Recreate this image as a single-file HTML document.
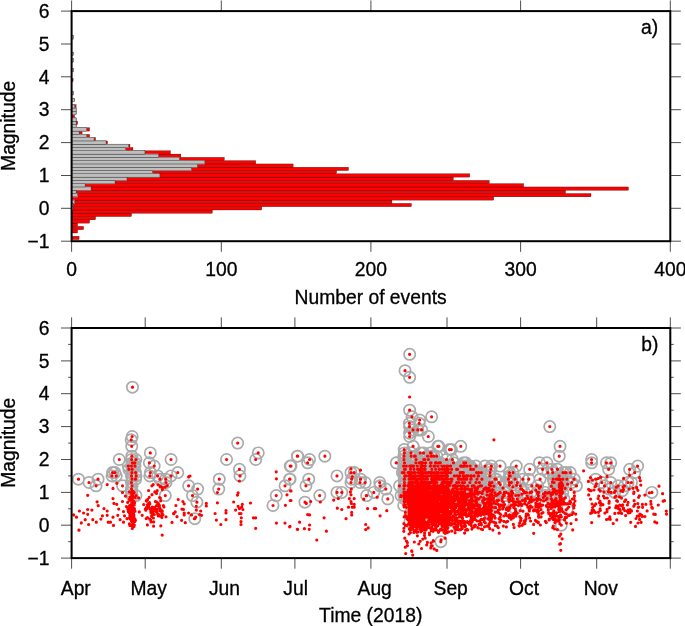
<!DOCTYPE html>
<html lang="en"><head><meta charset="utf-8"><title>Magnitude histogram and time series (2018)</title>
<style>
html,body{margin:0;padding:0;background:#fff}
svg{display:block}
text{font-family:"Liberation Sans",Arial,Helvetica,sans-serif;font-size:19.3px;fill:#000;stroke:#000;stroke-width:.3px}
.r rect{fill:#f00;stroke:#000;stroke-width:.3}
.g rect{fill:#bebebe;stroke:#000;stroke-width:.3}
</style></head><body>
<svg width="685" height="626" viewBox="0 0 685 626">
<rect width="685" height="626" fill="#fff"/>
<clipPath id="c1"><rect x="71.6" y="11.1" width="598.7" height="230.1"/></clipPath>
<clipPath id="c2"><rect x="71.6" y="328" width="598.7" height="230.1"/></clipPath>
<g clip-path="url(#c1)">
<g class="r"><rect x="71.6" y="236.27" width="7.48" height="3.29"/><rect x="71.6" y="229.69" width="5.99" height="3.29"/><rect x="71.6" y="226.41" width="11.97" height="3.29"/><rect x="71.6" y="223.12" width="5.99" height="3.29"/><rect x="71.6" y="219.83" width="17.96" height="3.29"/><rect x="71.6" y="216.55" width="23.95" height="3.29"/><rect x="71.6" y="213.26" width="59.87" height="3.29"/><rect x="71.6" y="209.97" width="140.69" height="3.29"/><rect x="71.6" y="206.69" width="190.09" height="3.29"/><rect x="71.6" y="203.40" width="339.76" height="3.29"/><rect x="71.6" y="200.11" width="320.30" height="3.29"/><rect x="71.6" y="196.82" width="422.08" height="3.29"/><rect x="71.6" y="193.54" width="519.37" height="3.29"/><rect x="71.6" y="190.25" width="493.93" height="3.29"/><rect x="71.6" y="186.96" width="556.79" height="3.29"/><rect x="71.6" y="183.67" width="452.02" height="3.29"/><rect x="71.6" y="180.39" width="417.59" height="3.29"/><rect x="71.6" y="177.10" width="381.67" height="3.29"/><rect x="71.6" y="173.81" width="398.14" height="3.29"/><rect x="71.6" y="170.53" width="264.92" height="3.29"/><rect x="71.6" y="167.24" width="276.90" height="3.29"/><rect x="71.6" y="163.95" width="221.52" height="3.29"/><rect x="71.6" y="160.66" width="184.10" height="3.29"/><rect x="71.6" y="157.38" width="152.67" height="3.29"/><rect x="71.6" y="154.09" width="109.26" height="3.29"/><rect x="71.6" y="150.80" width="98.79" height="3.29"/><rect x="71.6" y="147.52" width="61.37" height="3.29"/><rect x="71.6" y="144.23" width="58.37" height="3.29"/><rect x="71.6" y="140.94" width="35.92" height="3.29"/><rect x="71.6" y="137.65" width="23.95" height="3.29"/><rect x="71.6" y="134.37" width="17.96" height="3.29"/><rect x="71.6" y="131.08" width="10.48" height="3.29"/><rect x="71.6" y="127.79" width="17.96" height="3.29"/><rect x="71.6" y="124.51" width="4.49" height="3.29"/><rect x="71.6" y="121.22" width="5.99" height="3.29"/><rect x="71.6" y="117.93" width="4.49" height="3.29"/><rect x="71.6" y="114.64" width="2.99" height="3.29"/><rect x="71.6" y="111.36" width="4.49" height="3.29"/><rect x="71.6" y="108.07" width="4.49" height="3.29"/><rect x="71.6" y="104.78" width="4.49" height="3.29"/><rect x="71.6" y="98.21" width="2.99" height="3.29"/><rect x="71.6" y="91.63" width="1.50" height="3.29"/><rect x="71.6" y="78.49" width="1.50" height="3.29"/><rect x="71.6" y="68.62" width="1.50" height="3.29"/><rect x="71.6" y="58.76" width="1.50" height="3.29"/><rect x="71.6" y="52.19" width="1.50" height="3.29"/><rect x="71.6" y="35.75" width="1.50" height="3.29"/></g>
<g fill="#bebebe"><rect x="71.6" y="206.28" width="1.50" height="4.09"/><rect x="71.6" y="203.00" width="1.50" height="4.09"/><rect x="71.6" y="199.71" width="2.99" height="4.09"/><rect x="71.6" y="193.14" width="5.99" height="4.09"/><rect x="71.6" y="189.85" width="4.49" height="4.09"/><rect x="71.6" y="186.56" width="19.46" height="4.09"/><rect x="71.6" y="183.27" width="13.47" height="4.09"/><rect x="71.6" y="179.99" width="43.41" height="4.09"/><rect x="71.6" y="176.70" width="55.38" height="4.09"/><rect x="71.6" y="173.41" width="88.31" height="4.09"/><rect x="71.6" y="170.13" width="80.82" height="4.09"/><rect x="71.6" y="166.84" width="119.74" height="4.09"/><rect x="71.6" y="163.55" width="125.73" height="4.09"/><rect x="71.6" y="160.26" width="133.21" height="4.09"/><rect x="71.6" y="156.98" width="107.77" height="4.09"/><rect x="71.6" y="153.69" width="86.81" height="4.09"/><rect x="71.6" y="150.40" width="73.34" height="4.09"/><rect x="71.6" y="147.12" width="53.88" height="4.09"/><rect x="71.6" y="143.83" width="56.88" height="4.09"/><rect x="71.6" y="140.54" width="34.43" height="4.09"/><rect x="71.6" y="137.25" width="22.45" height="4.09"/><rect x="71.6" y="133.97" width="14.97" height="4.09"/><rect x="71.6" y="130.68" width="7.48" height="4.09"/><rect x="71.6" y="127.39" width="14.97" height="4.09"/><rect x="71.6" y="124.11" width="4.49" height="4.09"/><rect x="71.6" y="120.82" width="4.49" height="4.09"/><rect x="71.6" y="117.53" width="4.49" height="4.09"/><rect x="71.6" y="110.96" width="4.49" height="4.09"/><rect x="71.6" y="107.67" width="4.49" height="4.09"/><rect x="71.6" y="104.38" width="2.99" height="4.09"/><rect x="71.6" y="97.81" width="2.99" height="4.09"/><rect x="71.6" y="91.23" width="1.50" height="4.09"/><rect x="71.6" y="68.22" width="1.50" height="4.09"/><rect x="71.6" y="58.36" width="1.50" height="4.09"/><rect x="71.6" y="51.79" width="1.50" height="4.09"/><rect x="71.6" y="35.35" width="1.50" height="4.09"/></g><g class="g"><rect x="71.6" y="206.69" width="1.50" height="3.29"/><rect x="71.6" y="203.40" width="1.50" height="3.29"/><rect x="71.6" y="200.11" width="2.99" height="3.29"/><rect x="71.6" y="193.54" width="5.99" height="3.29"/><rect x="71.6" y="190.25" width="4.49" height="3.29"/><rect x="71.6" y="186.96" width="19.46" height="3.29"/><rect x="71.6" y="183.67" width="13.47" height="3.29"/><rect x="71.6" y="180.39" width="43.41" height="3.29"/><rect x="71.6" y="177.10" width="55.38" height="3.29"/><rect x="71.6" y="173.81" width="88.31" height="3.29"/><rect x="71.6" y="170.53" width="80.82" height="3.29"/><rect x="71.6" y="167.24" width="119.74" height="3.29"/><rect x="71.6" y="163.95" width="125.73" height="3.29"/><rect x="71.6" y="160.66" width="133.21" height="3.29"/><rect x="71.6" y="157.38" width="107.77" height="3.29"/><rect x="71.6" y="154.09" width="86.81" height="3.29"/><rect x="71.6" y="150.80" width="73.34" height="3.29"/><rect x="71.6" y="147.52" width="53.88" height="3.29"/><rect x="71.6" y="144.23" width="56.88" height="3.29"/><rect x="71.6" y="140.94" width="34.43" height="3.29"/><rect x="71.6" y="137.65" width="22.45" height="3.29"/><rect x="71.6" y="134.37" width="14.97" height="3.29"/><rect x="71.6" y="131.08" width="7.48" height="3.29"/><rect x="71.6" y="127.79" width="14.97" height="3.29"/><rect x="71.6" y="124.51" width="4.49" height="3.29"/><rect x="71.6" y="121.22" width="4.49" height="3.29"/><rect x="71.6" y="117.93" width="4.49" height="3.29"/><rect x="71.6" y="111.36" width="4.49" height="3.29"/><rect x="71.6" y="108.07" width="4.49" height="3.29"/><rect x="71.6" y="104.78" width="2.99" height="3.29"/><rect x="71.6" y="98.21" width="2.99" height="3.29"/><rect x="71.6" y="91.63" width="1.50" height="3.29"/><rect x="71.6" y="68.62" width="1.50" height="3.29"/><rect x="71.6" y="58.76" width="1.50" height="3.29"/><rect x="71.6" y="52.19" width="1.50" height="3.29"/><rect x="71.6" y="35.75" width="1.50" height="3.29"/></g>
</g>
<g clip-path="url(#c2)">
<path d="M72.8 479.2a5.65 5.65 0 1 0 11.3 0a5.65 5.65 0 1 0 -11.3 0M83.4 482.5a5.65 5.65 0 1 0 11.3 0a5.65 5.65 0 1 0 -11.3 0M92.4 479.2a5.65 5.65 0 1 0 11.3 0a5.65 5.65 0 1 0 -11.3 0M90.4 485.8a5.65 5.65 0 1 0 11.3 0a5.65 5.65 0 1 0 -11.3 0M106.9 472.6a5.65 5.65 0 1 0 11.3 0a5.65 5.65 0 1 0 -11.3 0M110.6 475.9a5.65 5.65 0 1 0 11.3 0a5.65 5.65 0 1 0 -11.3 0M106.4 475.9a5.65 5.65 0 1 0 11.3 0a5.65 5.65 0 1 0 -11.3 0M109.2 472.6a5.65 5.65 0 1 0 11.3 0a5.65 5.65 0 1 0 -11.3 0M113.6 459.5a5.65 5.65 0 1 0 11.3 0a5.65 5.65 0 1 0 -11.3 0M116.9 485.8a5.65 5.65 0 1 0 11.3 0a5.65 5.65 0 1 0 -11.3 0M126.5 436.5a5.65 5.65 0 1 0 11.3 0a5.65 5.65 0 1 0 -11.3 0M125.5 439.8a5.65 5.65 0 1 0 11.3 0a5.65 5.65 0 1 0 -11.3 0M126.1 446.3a5.65 5.65 0 1 0 11.3 0a5.65 5.65 0 1 0 -11.3 0M144.7 452.9a5.65 5.65 0 1 0 11.3 0a5.65 5.65 0 1 0 -11.3 0M143.7 462.8a5.65 5.65 0 1 0 11.3 0a5.65 5.65 0 1 0 -11.3 0M148.5 466.1a5.65 5.65 0 1 0 11.3 0a5.65 5.65 0 1 0 -11.3 0M144.7 472.6a5.65 5.65 0 1 0 11.3 0a5.65 5.65 0 1 0 -11.3 0M144.1 475.9a5.65 5.65 0 1 0 11.3 0a5.65 5.65 0 1 0 -11.3 0M152 475.9a5.65 5.65 0 1 0 11.3 0a5.65 5.65 0 1 0 -11.3 0M154.3 479.2a5.65 5.65 0 1 0 11.3 0a5.65 5.65 0 1 0 -11.3 0M160 479.2a5.65 5.65 0 1 0 11.3 0a5.65 5.65 0 1 0 -11.3 0M160.4 482.5a5.65 5.65 0 1 0 11.3 0a5.65 5.65 0 1 0 -11.3 0M165.4 459.5a5.65 5.65 0 1 0 11.3 0a5.65 5.65 0 1 0 -11.3 0M165.4 475.9a5.65 5.65 0 1 0 11.3 0a5.65 5.65 0 1 0 -11.3 0M172.1 472.6a5.65 5.65 0 1 0 11.3 0a5.65 5.65 0 1 0 -11.3 0M159.6 495.6a5.65 5.65 0 1 0 11.3 0a5.65 5.65 0 1 0 -11.3 0M130.3 495.6a5.65 5.65 0 1 0 11.3 0a5.65 5.65 0 1 0 -11.3 0M126.2 456.2a5.65 5.65 0 1 0 11.3 0a5.65 5.65 0 1 0 -11.3 0M125.9 459.5a5.65 5.65 0 1 0 11.3 0a5.65 5.65 0 1 0 -11.3 0M126.7 462.8a5.65 5.65 0 1 0 11.3 0a5.65 5.65 0 1 0 -11.3 0M125.8 466.1a5.65 5.65 0 1 0 11.3 0a5.65 5.65 0 1 0 -11.3 0M126.5 469.3a5.65 5.65 0 1 0 11.3 0a5.65 5.65 0 1 0 -11.3 0M126.3 472.6a5.65 5.65 0 1 0 11.3 0a5.65 5.65 0 1 0 -11.3 0M125.8 475.9a5.65 5.65 0 1 0 11.3 0a5.65 5.65 0 1 0 -11.3 0M126.5 479.2a5.65 5.65 0 1 0 11.3 0a5.65 5.65 0 1 0 -11.3 0M125.8 482.5a5.65 5.65 0 1 0 11.3 0a5.65 5.65 0 1 0 -11.3 0M126.4 485.8a5.65 5.65 0 1 0 11.3 0a5.65 5.65 0 1 0 -11.3 0M125.8 489.1a5.65 5.65 0 1 0 11.3 0a5.65 5.65 0 1 0 -11.3 0M125.9 492.4a5.65 5.65 0 1 0 11.3 0a5.65 5.65 0 1 0 -11.3 0M126.4 495.6a5.65 5.65 0 1 0 11.3 0a5.65 5.65 0 1 0 -11.3 0M130.2 459.5a5.65 5.65 0 1 0 11.3 0a5.65 5.65 0 1 0 -11.3 0M129.2 462.8a5.65 5.65 0 1 0 11.3 0a5.65 5.65 0 1 0 -11.3 0M129.3 466.1a5.65 5.65 0 1 0 11.3 0a5.65 5.65 0 1 0 -11.3 0M129.9 472.6a5.65 5.65 0 1 0 11.3 0a5.65 5.65 0 1 0 -11.3 0M130.4 475.9a5.65 5.65 0 1 0 11.3 0a5.65 5.65 0 1 0 -11.3 0M129.9 479.2a5.65 5.65 0 1 0 11.3 0a5.65 5.65 0 1 0 -11.3 0M122.6 466.1a5.65 5.65 0 1 0 11.3 0a5.65 5.65 0 1 0 -11.3 0M123.2 469.3a5.65 5.65 0 1 0 11.3 0a5.65 5.65 0 1 0 -11.3 0M183 485.8a5.65 5.65 0 1 0 11.3 0a5.65 5.65 0 1 0 -11.3 0M192 489.1a5.65 5.65 0 1 0 11.3 0a5.65 5.65 0 1 0 -11.3 0M186.8 495.6a5.65 5.65 0 1 0 11.3 0a5.65 5.65 0 1 0 -11.3 0M191.2 502.2a5.65 5.65 0 1 0 11.3 0a5.65 5.65 0 1 0 -11.3 0M189.1 518.7a5.65 5.65 0 1 0 11.3 0a5.65 5.65 0 1 0 -11.3 0M213.6 479.2a5.65 5.65 0 1 0 11.3 0a5.65 5.65 0 1 0 -11.3 0M213.1 489.1a5.65 5.65 0 1 0 11.3 0a5.65 5.65 0 1 0 -11.3 0M220.9 459.5a5.65 5.65 0 1 0 11.3 0a5.65 5.65 0 1 0 -11.3 0M232 443.1a5.65 5.65 0 1 0 11.3 0a5.65 5.65 0 1 0 -11.3 0M233.8 469.3a5.65 5.65 0 1 0 11.3 0a5.65 5.65 0 1 0 -11.3 0M234.3 475.9a5.65 5.65 0 1 0 11.3 0a5.65 5.65 0 1 0 -11.3 0M252.6 452.9a5.65 5.65 0 1 0 11.3 0a5.65 5.65 0 1 0 -11.3 0M250.1 459.5a5.65 5.65 0 1 0 11.3 0a5.65 5.65 0 1 0 -11.3 0M270.6 495.6a5.65 5.65 0 1 0 11.3 0a5.65 5.65 0 1 0 -11.3 0M267.3 505.5a5.65 5.65 0 1 0 11.3 0a5.65 5.65 0 1 0 -11.3 0M279.4 485.8a5.65 5.65 0 1 0 11.3 0a5.65 5.65 0 1 0 -11.3 0M284 479.2a5.65 5.65 0 1 0 11.3 0a5.65 5.65 0 1 0 -11.3 0M284.6 466.1a5.65 5.65 0 1 0 11.3 0a5.65 5.65 0 1 0 -11.3 0M291.7 456.2a5.65 5.65 0 1 0 11.3 0a5.65 5.65 0 1 0 -11.3 0M285.3 466.1a5.65 5.65 0 1 0 11.3 0a5.65 5.65 0 1 0 -11.3 0M284.4 479.2a5.65 5.65 0 1 0 11.3 0a5.65 5.65 0 1 0 -11.3 0M292 456.2a5.65 5.65 0 1 0 11.3 0a5.65 5.65 0 1 0 -11.3 0M303.9 459.5a5.65 5.65 0 1 0 11.3 0a5.65 5.65 0 1 0 -11.3 0M302 462.8a5.65 5.65 0 1 0 11.3 0a5.65 5.65 0 1 0 -11.3 0M319.2 456.2a5.65 5.65 0 1 0 11.3 0a5.65 5.65 0 1 0 -11.3 0M303.1 479.2a5.65 5.65 0 1 0 11.3 0a5.65 5.65 0 1 0 -11.3 0M300.3 485.8a5.65 5.65 0 1 0 11.3 0a5.65 5.65 0 1 0 -11.3 0M299.3 502.2a5.65 5.65 0 1 0 11.3 0a5.65 5.65 0 1 0 -11.3 0M314.1 495.6a5.65 5.65 0 1 0 11.3 0a5.65 5.65 0 1 0 -11.3 0M331.3 475.9a5.65 5.65 0 1 0 11.3 0a5.65 5.65 0 1 0 -11.3 0M331.3 492.4a5.65 5.65 0 1 0 11.3 0a5.65 5.65 0 1 0 -11.3 0M336.1 492.4a5.65 5.65 0 1 0 11.3 0a5.65 5.65 0 1 0 -11.3 0M345.3 472.6a5.65 5.65 0 1 0 11.3 0a5.65 5.65 0 1 0 -11.3 0M348.6 472.6a5.65 5.65 0 1 0 11.3 0a5.65 5.65 0 1 0 -11.3 0M346.1 479.2a5.65 5.65 0 1 0 11.3 0a5.65 5.65 0 1 0 -11.3 0M345.3 482.5a5.65 5.65 0 1 0 11.3 0a5.65 5.65 0 1 0 -11.3 0M354.9 479.2a5.65 5.65 0 1 0 11.3 0a5.65 5.65 0 1 0 -11.3 0M354.3 482.5a5.65 5.65 0 1 0 11.3 0a5.65 5.65 0 1 0 -11.3 0M359.5 482.5a5.65 5.65 0 1 0 11.3 0a5.65 5.65 0 1 0 -11.3 0M374.1 482.5a5.65 5.65 0 1 0 11.3 0a5.65 5.65 0 1 0 -11.3 0M374.4 485.8a5.65 5.65 0 1 0 11.3 0a5.65 5.65 0 1 0 -11.3 0M380.2 489.1a5.65 5.65 0 1 0 11.3 0a5.65 5.65 0 1 0 -11.3 0M361 495.6a5.65 5.65 0 1 0 11.3 0a5.65 5.65 0 1 0 -11.3 0M368.1 492.4a5.65 5.65 0 1 0 11.3 0a5.65 5.65 0 1 0 -11.3 0M382.1 498.9a5.65 5.65 0 1 0 11.3 0a5.65 5.65 0 1 0 -11.3 0M390.7 462.8a5.65 5.65 0 1 0 11.3 0a5.65 5.65 0 1 0 -11.3 0M404 354.3a5.65 5.65 0 1 0 11.3 0a5.65 5.65 0 1 0 -11.3 0M399.4 370.7a5.65 5.65 0 1 0 11.3 0a5.65 5.65 0 1 0 -11.3 0M404 377.3a5.65 5.65 0 1 0 11.3 0a5.65 5.65 0 1 0 -11.3 0M404 410.2a5.65 5.65 0 1 0 11.3 0a5.65 5.65 0 1 0 -11.3 0M406.4 416.8a5.65 5.65 0 1 0 11.3 0a5.65 5.65 0 1 0 -11.3 0M426 416.8a5.65 5.65 0 1 0 11.3 0a5.65 5.65 0 1 0 -11.3 0M414.1 420a5.65 5.65 0 1 0 11.3 0a5.65 5.65 0 1 0 -11.3 0M413.6 423.3a5.65 5.65 0 1 0 11.3 0a5.65 5.65 0 1 0 -11.3 0M403.7 423.3a5.65 5.65 0 1 0 11.3 0a5.65 5.65 0 1 0 -11.3 0M403.9 426.6a5.65 5.65 0 1 0 11.3 0a5.65 5.65 0 1 0 -11.3 0M407.4 429.9a5.65 5.65 0 1 0 11.3 0a5.65 5.65 0 1 0 -11.3 0M412.2 429.9a5.65 5.65 0 1 0 11.3 0a5.65 5.65 0 1 0 -11.3 0M416 429.9a5.65 5.65 0 1 0 11.3 0a5.65 5.65 0 1 0 -11.3 0M422.7 436.5a5.65 5.65 0 1 0 11.3 0a5.65 5.65 0 1 0 -11.3 0M404 433.2a5.65 5.65 0 1 0 11.3 0a5.65 5.65 0 1 0 -11.3 0M404 436.5a5.65 5.65 0 1 0 11.3 0a5.65 5.65 0 1 0 -11.3 0M433.2 446.3a5.65 5.65 0 1 0 11.3 0a5.65 5.65 0 1 0 -11.3 0M445.7 449.6a5.65 5.65 0 1 0 11.3 0a5.65 5.65 0 1 0 -11.3 0M443.9 449.6a5.65 5.65 0 1 0 11.3 0a5.65 5.65 0 1 0 -11.3 0M544.1 426.6a5.65 5.65 0 1 0 11.3 0a5.65 5.65 0 1 0 -11.3 0M554.4 446.3a5.65 5.65 0 1 0 11.3 0a5.65 5.65 0 1 0 -11.3 0M553.6 456.2a5.65 5.65 0 1 0 11.3 0a5.65 5.65 0 1 0 -11.3 0M435.2 541.7a5.65 5.65 0 1 0 11.3 0a5.65 5.65 0 1 0 -11.3 0M126.8 387.2a5.65 5.65 0 1 0 11.3 0a5.65 5.65 0 1 0 -11.3 0M399.7 469.3a5.65 5.65 0 1 0 11.3 0a5.65 5.65 0 1 0 -11.3 0M400 492.4a5.65 5.65 0 1 0 11.3 0a5.65 5.65 0 1 0 -11.3 0M400.4 475.9a5.65 5.65 0 1 0 11.3 0a5.65 5.65 0 1 0 -11.3 0M400.6 466.1a5.65 5.65 0 1 0 11.3 0a5.65 5.65 0 1 0 -11.3 0M400.8 495.6a5.65 5.65 0 1 0 11.3 0a5.65 5.65 0 1 0 -11.3 0M401.1 492.4a5.65 5.65 0 1 0 11.3 0a5.65 5.65 0 1 0 -11.3 0M401.2 495.6a5.65 5.65 0 1 0 11.3 0a5.65 5.65 0 1 0 -11.3 0M402.2 492.4a5.65 5.65 0 1 0 11.3 0a5.65 5.65 0 1 0 -11.3 0M402.3 485.8a5.65 5.65 0 1 0 11.3 0a5.65 5.65 0 1 0 -11.3 0M402.3 492.4a5.65 5.65 0 1 0 11.3 0a5.65 5.65 0 1 0 -11.3 0M402.4 472.6a5.65 5.65 0 1 0 11.3 0a5.65 5.65 0 1 0 -11.3 0M403.1 472.6a5.65 5.65 0 1 0 11.3 0a5.65 5.65 0 1 0 -11.3 0M403.2 472.6a5.65 5.65 0 1 0 11.3 0a5.65 5.65 0 1 0 -11.3 0M403.3 475.9a5.65 5.65 0 1 0 11.3 0a5.65 5.65 0 1 0 -11.3 0M403.4 482.5a5.65 5.65 0 1 0 11.3 0a5.65 5.65 0 1 0 -11.3 0M403.4 489.1a5.65 5.65 0 1 0 11.3 0a5.65 5.65 0 1 0 -11.3 0M403.5 479.2a5.65 5.65 0 1 0 11.3 0a5.65 5.65 0 1 0 -11.3 0M403.6 475.9a5.65 5.65 0 1 0 11.3 0a5.65 5.65 0 1 0 -11.3 0M403.6 482.5a5.65 5.65 0 1 0 11.3 0a5.65 5.65 0 1 0 -11.3 0M403.8 472.6a5.65 5.65 0 1 0 11.3 0a5.65 5.65 0 1 0 -11.3 0M403.8 472.6a5.65 5.65 0 1 0 11.3 0a5.65 5.65 0 1 0 -11.3 0M403.9 475.9a5.65 5.65 0 1 0 11.3 0a5.65 5.65 0 1 0 -11.3 0M404 466.1a5.65 5.65 0 1 0 11.3 0a5.65 5.65 0 1 0 -11.3 0M404.1 479.2a5.65 5.65 0 1 0 11.3 0a5.65 5.65 0 1 0 -11.3 0M404.1 479.2a5.65 5.65 0 1 0 11.3 0a5.65 5.65 0 1 0 -11.3 0M404.2 475.9a5.65 5.65 0 1 0 11.3 0a5.65 5.65 0 1 0 -11.3 0M404.2 472.6a5.65 5.65 0 1 0 11.3 0a5.65 5.65 0 1 0 -11.3 0M404.3 521.9a5.65 5.65 0 1 0 11.3 0a5.65 5.65 0 1 0 -11.3 0M404.4 482.5a5.65 5.65 0 1 0 11.3 0a5.65 5.65 0 1 0 -11.3 0M404.5 485.8a5.65 5.65 0 1 0 11.3 0a5.65 5.65 0 1 0 -11.3 0M404.5 492.4a5.65 5.65 0 1 0 11.3 0a5.65 5.65 0 1 0 -11.3 0M404.6 479.2a5.65 5.65 0 1 0 11.3 0a5.65 5.65 0 1 0 -11.3 0M404.6 482.5a5.65 5.65 0 1 0 11.3 0a5.65 5.65 0 1 0 -11.3 0M404.7 475.9a5.65 5.65 0 1 0 11.3 0a5.65 5.65 0 1 0 -11.3 0M404.7 479.2a5.65 5.65 0 1 0 11.3 0a5.65 5.65 0 1 0 -11.3 0M404.8 482.5a5.65 5.65 0 1 0 11.3 0a5.65 5.65 0 1 0 -11.3 0M404.9 469.3a5.65 5.65 0 1 0 11.3 0a5.65 5.65 0 1 0 -11.3 0M404.9 469.3a5.65 5.65 0 1 0 11.3 0a5.65 5.65 0 1 0 -11.3 0M404.9 492.4a5.65 5.65 0 1 0 11.3 0a5.65 5.65 0 1 0 -11.3 0M405 475.9a5.65 5.65 0 1 0 11.3 0a5.65 5.65 0 1 0 -11.3 0M405 492.4a5.65 5.65 0 1 0 11.3 0a5.65 5.65 0 1 0 -11.3 0M405 492.4a5.65 5.65 0 1 0 11.3 0a5.65 5.65 0 1 0 -11.3 0M405.1 495.6a5.65 5.65 0 1 0 11.3 0a5.65 5.65 0 1 0 -11.3 0M405.2 466.1a5.65 5.65 0 1 0 11.3 0a5.65 5.65 0 1 0 -11.3 0M405.2 485.8a5.65 5.65 0 1 0 11.3 0a5.65 5.65 0 1 0 -11.3 0M405.3 475.9a5.65 5.65 0 1 0 11.3 0a5.65 5.65 0 1 0 -11.3 0M405.3 479.2a5.65 5.65 0 1 0 11.3 0a5.65 5.65 0 1 0 -11.3 0M405.4 512.1a5.65 5.65 0 1 0 11.3 0a5.65 5.65 0 1 0 -11.3 0M405.4 452.9a5.65 5.65 0 1 0 11.3 0a5.65 5.65 0 1 0 -11.3 0M405.4 482.5a5.65 5.65 0 1 0 11.3 0a5.65 5.65 0 1 0 -11.3 0M405.5 485.8a5.65 5.65 0 1 0 11.3 0a5.65 5.65 0 1 0 -11.3 0M405.5 485.8a5.65 5.65 0 1 0 11.3 0a5.65 5.65 0 1 0 -11.3 0M405.6 482.5a5.65 5.65 0 1 0 11.3 0a5.65 5.65 0 1 0 -11.3 0M405.6 456.2a5.65 5.65 0 1 0 11.3 0a5.65 5.65 0 1 0 -11.3 0M405.6 475.9a5.65 5.65 0 1 0 11.3 0a5.65 5.65 0 1 0 -11.3 0M405.7 495.6a5.65 5.65 0 1 0 11.3 0a5.65 5.65 0 1 0 -11.3 0M405.7 482.5a5.65 5.65 0 1 0 11.3 0a5.65 5.65 0 1 0 -11.3 0M405.7 482.5a5.65 5.65 0 1 0 11.3 0a5.65 5.65 0 1 0 -11.3 0M405.8 485.8a5.65 5.65 0 1 0 11.3 0a5.65 5.65 0 1 0 -11.3 0M405.8 472.6a5.65 5.65 0 1 0 11.3 0a5.65 5.65 0 1 0 -11.3 0M405.9 485.8a5.65 5.65 0 1 0 11.3 0a5.65 5.65 0 1 0 -11.3 0M405.9 475.9a5.65 5.65 0 1 0 11.3 0a5.65 5.65 0 1 0 -11.3 0M406 472.6a5.65 5.65 0 1 0 11.3 0a5.65 5.65 0 1 0 -11.3 0M406.1 475.9a5.65 5.65 0 1 0 11.3 0a5.65 5.65 0 1 0 -11.3 0M406.2 489.1a5.65 5.65 0 1 0 11.3 0a5.65 5.65 0 1 0 -11.3 0M406.3 492.4a5.65 5.65 0 1 0 11.3 0a5.65 5.65 0 1 0 -11.3 0M406.3 479.2a5.65 5.65 0 1 0 11.3 0a5.65 5.65 0 1 0 -11.3 0M406.3 482.5a5.65 5.65 0 1 0 11.3 0a5.65 5.65 0 1 0 -11.3 0M406.4 485.8a5.65 5.65 0 1 0 11.3 0a5.65 5.65 0 1 0 -11.3 0M406.4 466.1a5.65 5.65 0 1 0 11.3 0a5.65 5.65 0 1 0 -11.3 0M406.5 485.8a5.65 5.65 0 1 0 11.3 0a5.65 5.65 0 1 0 -11.3 0M406.5 466.1a5.65 5.65 0 1 0 11.3 0a5.65 5.65 0 1 0 -11.3 0M406.6 498.9a5.65 5.65 0 1 0 11.3 0a5.65 5.65 0 1 0 -11.3 0M406.8 485.8a5.65 5.65 0 1 0 11.3 0a5.65 5.65 0 1 0 -11.3 0M406.9 479.2a5.65 5.65 0 1 0 11.3 0a5.65 5.65 0 1 0 -11.3 0M407 479.2a5.65 5.65 0 1 0 11.3 0a5.65 5.65 0 1 0 -11.3 0M407.1 479.2a5.65 5.65 0 1 0 11.3 0a5.65 5.65 0 1 0 -11.3 0M407.2 475.9a5.65 5.65 0 1 0 11.3 0a5.65 5.65 0 1 0 -11.3 0M407.2 498.9a5.65 5.65 0 1 0 11.3 0a5.65 5.65 0 1 0 -11.3 0M407.2 485.8a5.65 5.65 0 1 0 11.3 0a5.65 5.65 0 1 0 -11.3 0M407.3 479.2a5.65 5.65 0 1 0 11.3 0a5.65 5.65 0 1 0 -11.3 0M407.3 479.2a5.65 5.65 0 1 0 11.3 0a5.65 5.65 0 1 0 -11.3 0M407.4 446.3a5.65 5.65 0 1 0 11.3 0a5.65 5.65 0 1 0 -11.3 0M407.4 479.2a5.65 5.65 0 1 0 11.3 0a5.65 5.65 0 1 0 -11.3 0M407.4 492.4a5.65 5.65 0 1 0 11.3 0a5.65 5.65 0 1 0 -11.3 0M407.5 446.3a5.65 5.65 0 1 0 11.3 0a5.65 5.65 0 1 0 -11.3 0M407.5 502.2a5.65 5.65 0 1 0 11.3 0a5.65 5.65 0 1 0 -11.3 0M407.5 482.5a5.65 5.65 0 1 0 11.3 0a5.65 5.65 0 1 0 -11.3 0M407.6 485.8a5.65 5.65 0 1 0 11.3 0a5.65 5.65 0 1 0 -11.3 0M407.8 489.1a5.65 5.65 0 1 0 11.3 0a5.65 5.65 0 1 0 -11.3 0M407.8 489.1a5.65 5.65 0 1 0 11.3 0a5.65 5.65 0 1 0 -11.3 0M407.9 485.8a5.65 5.65 0 1 0 11.3 0a5.65 5.65 0 1 0 -11.3 0M408 495.6a5.65 5.65 0 1 0 11.3 0a5.65 5.65 0 1 0 -11.3 0M408 489.1a5.65 5.65 0 1 0 11.3 0a5.65 5.65 0 1 0 -11.3 0M408 466.1a5.65 5.65 0 1 0 11.3 0a5.65 5.65 0 1 0 -11.3 0M408.1 485.8a5.65 5.65 0 1 0 11.3 0a5.65 5.65 0 1 0 -11.3 0M408.1 472.6a5.65 5.65 0 1 0 11.3 0a5.65 5.65 0 1 0 -11.3 0M408.2 498.9a5.65 5.65 0 1 0 11.3 0a5.65 5.65 0 1 0 -11.3 0M408.3 479.2a5.65 5.65 0 1 0 11.3 0a5.65 5.65 0 1 0 -11.3 0M408.3 469.3a5.65 5.65 0 1 0 11.3 0a5.65 5.65 0 1 0 -11.3 0M408.5 479.2a5.65 5.65 0 1 0 11.3 0a5.65 5.65 0 1 0 -11.3 0M408.5 479.2a5.65 5.65 0 1 0 11.3 0a5.65 5.65 0 1 0 -11.3 0M408.7 489.1a5.65 5.65 0 1 0 11.3 0a5.65 5.65 0 1 0 -11.3 0M408.7 475.9a5.65 5.65 0 1 0 11.3 0a5.65 5.65 0 1 0 -11.3 0M408.8 472.6a5.65 5.65 0 1 0 11.3 0a5.65 5.65 0 1 0 -11.3 0M408.9 456.2a5.65 5.65 0 1 0 11.3 0a5.65 5.65 0 1 0 -11.3 0M409 489.1a5.65 5.65 0 1 0 11.3 0a5.65 5.65 0 1 0 -11.3 0M409.2 482.5a5.65 5.65 0 1 0 11.3 0a5.65 5.65 0 1 0 -11.3 0M409.3 479.2a5.65 5.65 0 1 0 11.3 0a5.65 5.65 0 1 0 -11.3 0M409.3 485.8a5.65 5.65 0 1 0 11.3 0a5.65 5.65 0 1 0 -11.3 0M409.3 498.9a5.65 5.65 0 1 0 11.3 0a5.65 5.65 0 1 0 -11.3 0M409.4 485.8a5.65 5.65 0 1 0 11.3 0a5.65 5.65 0 1 0 -11.3 0M409.6 475.9a5.65 5.65 0 1 0 11.3 0a5.65 5.65 0 1 0 -11.3 0M409.6 472.6a5.65 5.65 0 1 0 11.3 0a5.65 5.65 0 1 0 -11.3 0M409.7 456.2a5.65 5.65 0 1 0 11.3 0a5.65 5.65 0 1 0 -11.3 0M409.8 479.2a5.65 5.65 0 1 0 11.3 0a5.65 5.65 0 1 0 -11.3 0M409.8 479.2a5.65 5.65 0 1 0 11.3 0a5.65 5.65 0 1 0 -11.3 0M409.8 492.4a5.65 5.65 0 1 0 11.3 0a5.65 5.65 0 1 0 -11.3 0M410 485.8a5.65 5.65 0 1 0 11.3 0a5.65 5.65 0 1 0 -11.3 0M410 492.4a5.65 5.65 0 1 0 11.3 0a5.65 5.65 0 1 0 -11.3 0M410 489.1a5.65 5.65 0 1 0 11.3 0a5.65 5.65 0 1 0 -11.3 0M410 498.9a5.65 5.65 0 1 0 11.3 0a5.65 5.65 0 1 0 -11.3 0M410.1 479.2a5.65 5.65 0 1 0 11.3 0a5.65 5.65 0 1 0 -11.3 0M410.1 485.8a5.65 5.65 0 1 0 11.3 0a5.65 5.65 0 1 0 -11.3 0M410.2 482.5a5.65 5.65 0 1 0 11.3 0a5.65 5.65 0 1 0 -11.3 0M410.2 489.1a5.65 5.65 0 1 0 11.3 0a5.65 5.65 0 1 0 -11.3 0M410.2 462.8a5.65 5.65 0 1 0 11.3 0a5.65 5.65 0 1 0 -11.3 0M410.3 498.9a5.65 5.65 0 1 0 11.3 0a5.65 5.65 0 1 0 -11.3 0M410.3 482.5a5.65 5.65 0 1 0 11.3 0a5.65 5.65 0 1 0 -11.3 0M410.5 459.5a5.65 5.65 0 1 0 11.3 0a5.65 5.65 0 1 0 -11.3 0M410.5 492.4a5.65 5.65 0 1 0 11.3 0a5.65 5.65 0 1 0 -11.3 0M410.5 475.9a5.65 5.65 0 1 0 11.3 0a5.65 5.65 0 1 0 -11.3 0M410.7 485.8a5.65 5.65 0 1 0 11.3 0a5.65 5.65 0 1 0 -11.3 0M410.8 498.9a5.65 5.65 0 1 0 11.3 0a5.65 5.65 0 1 0 -11.3 0M411 485.8a5.65 5.65 0 1 0 11.3 0a5.65 5.65 0 1 0 -11.3 0M411.1 489.1a5.65 5.65 0 1 0 11.3 0a5.65 5.65 0 1 0 -11.3 0M411.2 479.2a5.65 5.65 0 1 0 11.3 0a5.65 5.65 0 1 0 -11.3 0M411.3 479.2a5.65 5.65 0 1 0 11.3 0a5.65 5.65 0 1 0 -11.3 0M411.3 482.5a5.65 5.65 0 1 0 11.3 0a5.65 5.65 0 1 0 -11.3 0M411.4 495.6a5.65 5.65 0 1 0 11.3 0a5.65 5.65 0 1 0 -11.3 0M411.5 495.6a5.65 5.65 0 1 0 11.3 0a5.65 5.65 0 1 0 -11.3 0M411.6 466.1a5.65 5.65 0 1 0 11.3 0a5.65 5.65 0 1 0 -11.3 0M411.7 492.4a5.65 5.65 0 1 0 11.3 0a5.65 5.65 0 1 0 -11.3 0M411.7 485.8a5.65 5.65 0 1 0 11.3 0a5.65 5.65 0 1 0 -11.3 0M411.8 495.6a5.65 5.65 0 1 0 11.3 0a5.65 5.65 0 1 0 -11.3 0M411.8 505.5a5.65 5.65 0 1 0 11.3 0a5.65 5.65 0 1 0 -11.3 0M411.9 469.3a5.65 5.65 0 1 0 11.3 0a5.65 5.65 0 1 0 -11.3 0M411.9 485.8a5.65 5.65 0 1 0 11.3 0a5.65 5.65 0 1 0 -11.3 0M411.9 485.8a5.65 5.65 0 1 0 11.3 0a5.65 5.65 0 1 0 -11.3 0M412 482.5a5.65 5.65 0 1 0 11.3 0a5.65 5.65 0 1 0 -11.3 0M412.1 482.5a5.65 5.65 0 1 0 11.3 0a5.65 5.65 0 1 0 -11.3 0M412.1 495.6a5.65 5.65 0 1 0 11.3 0a5.65 5.65 0 1 0 -11.3 0M412.2 495.6a5.65 5.65 0 1 0 11.3 0a5.65 5.65 0 1 0 -11.3 0M412.2 479.2a5.65 5.65 0 1 0 11.3 0a5.65 5.65 0 1 0 -11.3 0M412.3 485.8a5.65 5.65 0 1 0 11.3 0a5.65 5.65 0 1 0 -11.3 0M412.5 485.8a5.65 5.65 0 1 0 11.3 0a5.65 5.65 0 1 0 -11.3 0M412.5 469.3a5.65 5.65 0 1 0 11.3 0a5.65 5.65 0 1 0 -11.3 0M412.5 469.3a5.65 5.65 0 1 0 11.3 0a5.65 5.65 0 1 0 -11.3 0M412.6 472.6a5.65 5.65 0 1 0 11.3 0a5.65 5.65 0 1 0 -11.3 0M412.6 482.5a5.65 5.65 0 1 0 11.3 0a5.65 5.65 0 1 0 -11.3 0M412.7 472.6a5.65 5.65 0 1 0 11.3 0a5.65 5.65 0 1 0 -11.3 0M412.8 492.4a5.65 5.65 0 1 0 11.3 0a5.65 5.65 0 1 0 -11.3 0M412.9 518.7a5.65 5.65 0 1 0 11.3 0a5.65 5.65 0 1 0 -11.3 0M412.9 472.6a5.65 5.65 0 1 0 11.3 0a5.65 5.65 0 1 0 -11.3 0M413 492.4a5.65 5.65 0 1 0 11.3 0a5.65 5.65 0 1 0 -11.3 0M413.1 492.4a5.65 5.65 0 1 0 11.3 0a5.65 5.65 0 1 0 -11.3 0M413.2 475.9a5.65 5.65 0 1 0 11.3 0a5.65 5.65 0 1 0 -11.3 0M413.4 492.4a5.65 5.65 0 1 0 11.3 0a5.65 5.65 0 1 0 -11.3 0M413.4 485.8a5.65 5.65 0 1 0 11.3 0a5.65 5.65 0 1 0 -11.3 0M413.5 485.8a5.65 5.65 0 1 0 11.3 0a5.65 5.65 0 1 0 -11.3 0M413.5 462.8a5.65 5.65 0 1 0 11.3 0a5.65 5.65 0 1 0 -11.3 0M413.6 469.3a5.65 5.65 0 1 0 11.3 0a5.65 5.65 0 1 0 -11.3 0M413.7 485.8a5.65 5.65 0 1 0 11.3 0a5.65 5.65 0 1 0 -11.3 0M413.8 492.4a5.65 5.65 0 1 0 11.3 0a5.65 5.65 0 1 0 -11.3 0M413.9 489.1a5.65 5.65 0 1 0 11.3 0a5.65 5.65 0 1 0 -11.3 0M414 469.3a5.65 5.65 0 1 0 11.3 0a5.65 5.65 0 1 0 -11.3 0M414 502.2a5.65 5.65 0 1 0 11.3 0a5.65 5.65 0 1 0 -11.3 0M414.1 479.2a5.65 5.65 0 1 0 11.3 0a5.65 5.65 0 1 0 -11.3 0M414.1 489.1a5.65 5.65 0 1 0 11.3 0a5.65 5.65 0 1 0 -11.3 0M414.2 479.2a5.65 5.65 0 1 0 11.3 0a5.65 5.65 0 1 0 -11.3 0M414.2 485.8a5.65 5.65 0 1 0 11.3 0a5.65 5.65 0 1 0 -11.3 0M414.2 475.9a5.65 5.65 0 1 0 11.3 0a5.65 5.65 0 1 0 -11.3 0M414.4 462.8a5.65 5.65 0 1 0 11.3 0a5.65 5.65 0 1 0 -11.3 0M414.4 469.3a5.65 5.65 0 1 0 11.3 0a5.65 5.65 0 1 0 -11.3 0M414.4 489.1a5.65 5.65 0 1 0 11.3 0a5.65 5.65 0 1 0 -11.3 0M414.6 472.6a5.65 5.65 0 1 0 11.3 0a5.65 5.65 0 1 0 -11.3 0M414.6 482.5a5.65 5.65 0 1 0 11.3 0a5.65 5.65 0 1 0 -11.3 0M414.6 479.2a5.65 5.65 0 1 0 11.3 0a5.65 5.65 0 1 0 -11.3 0M414.7 452.9a5.65 5.65 0 1 0 11.3 0a5.65 5.65 0 1 0 -11.3 0M414.7 479.2a5.65 5.65 0 1 0 11.3 0a5.65 5.65 0 1 0 -11.3 0M414.7 479.2a5.65 5.65 0 1 0 11.3 0a5.65 5.65 0 1 0 -11.3 0M414.8 505.5a5.65 5.65 0 1 0 11.3 0a5.65 5.65 0 1 0 -11.3 0M414.8 518.7a5.65 5.65 0 1 0 11.3 0a5.65 5.65 0 1 0 -11.3 0M414.9 489.1a5.65 5.65 0 1 0 11.3 0a5.65 5.65 0 1 0 -11.3 0M414.9 505.5a5.65 5.65 0 1 0 11.3 0a5.65 5.65 0 1 0 -11.3 0M415 495.6a5.65 5.65 0 1 0 11.3 0a5.65 5.65 0 1 0 -11.3 0M415 469.3a5.65 5.65 0 1 0 11.3 0a5.65 5.65 0 1 0 -11.3 0M415 502.2a5.65 5.65 0 1 0 11.3 0a5.65 5.65 0 1 0 -11.3 0M415.1 469.3a5.65 5.65 0 1 0 11.3 0a5.65 5.65 0 1 0 -11.3 0M415.1 462.8a5.65 5.65 0 1 0 11.3 0a5.65 5.65 0 1 0 -11.3 0M415.1 472.6a5.65 5.65 0 1 0 11.3 0a5.65 5.65 0 1 0 -11.3 0M415.1 489.1a5.65 5.65 0 1 0 11.3 0a5.65 5.65 0 1 0 -11.3 0M415.2 469.3a5.65 5.65 0 1 0 11.3 0a5.65 5.65 0 1 0 -11.3 0M415.3 462.8a5.65 5.65 0 1 0 11.3 0a5.65 5.65 0 1 0 -11.3 0M415.4 466.1a5.65 5.65 0 1 0 11.3 0a5.65 5.65 0 1 0 -11.3 0M415.4 482.5a5.65 5.65 0 1 0 11.3 0a5.65 5.65 0 1 0 -11.3 0M415.4 469.3a5.65 5.65 0 1 0 11.3 0a5.65 5.65 0 1 0 -11.3 0M415.4 466.1a5.65 5.65 0 1 0 11.3 0a5.65 5.65 0 1 0 -11.3 0M415.5 462.8a5.65 5.65 0 1 0 11.3 0a5.65 5.65 0 1 0 -11.3 0M415.5 492.4a5.65 5.65 0 1 0 11.3 0a5.65 5.65 0 1 0 -11.3 0M415.6 475.9a5.65 5.65 0 1 0 11.3 0a5.65 5.65 0 1 0 -11.3 0M415.7 472.6a5.65 5.65 0 1 0 11.3 0a5.65 5.65 0 1 0 -11.3 0M415.7 479.2a5.65 5.65 0 1 0 11.3 0a5.65 5.65 0 1 0 -11.3 0M415.7 462.8a5.65 5.65 0 1 0 11.3 0a5.65 5.65 0 1 0 -11.3 0M415.7 492.4a5.65 5.65 0 1 0 11.3 0a5.65 5.65 0 1 0 -11.3 0M415.7 469.3a5.65 5.65 0 1 0 11.3 0a5.65 5.65 0 1 0 -11.3 0M415.7 475.9a5.65 5.65 0 1 0 11.3 0a5.65 5.65 0 1 0 -11.3 0M415.8 469.3a5.65 5.65 0 1 0 11.3 0a5.65 5.65 0 1 0 -11.3 0M415.8 462.8a5.65 5.65 0 1 0 11.3 0a5.65 5.65 0 1 0 -11.3 0M415.8 472.6a5.65 5.65 0 1 0 11.3 0a5.65 5.65 0 1 0 -11.3 0M415.9 482.5a5.65 5.65 0 1 0 11.3 0a5.65 5.65 0 1 0 -11.3 0M415.9 475.9a5.65 5.65 0 1 0 11.3 0a5.65 5.65 0 1 0 -11.3 0M415.9 482.5a5.65 5.65 0 1 0 11.3 0a5.65 5.65 0 1 0 -11.3 0M416 472.6a5.65 5.65 0 1 0 11.3 0a5.65 5.65 0 1 0 -11.3 0M416 479.2a5.65 5.65 0 1 0 11.3 0a5.65 5.65 0 1 0 -11.3 0M416 495.6a5.65 5.65 0 1 0 11.3 0a5.65 5.65 0 1 0 -11.3 0M416.1 485.8a5.65 5.65 0 1 0 11.3 0a5.65 5.65 0 1 0 -11.3 0M416.1 495.6a5.65 5.65 0 1 0 11.3 0a5.65 5.65 0 1 0 -11.3 0M416.2 482.5a5.65 5.65 0 1 0 11.3 0a5.65 5.65 0 1 0 -11.3 0M416.2 475.9a5.65 5.65 0 1 0 11.3 0a5.65 5.65 0 1 0 -11.3 0M416.2 475.9a5.65 5.65 0 1 0 11.3 0a5.65 5.65 0 1 0 -11.3 0M416.3 462.8a5.65 5.65 0 1 0 11.3 0a5.65 5.65 0 1 0 -11.3 0M416.3 492.4a5.65 5.65 0 1 0 11.3 0a5.65 5.65 0 1 0 -11.3 0M416.3 479.2a5.65 5.65 0 1 0 11.3 0a5.65 5.65 0 1 0 -11.3 0M416.3 492.4a5.65 5.65 0 1 0 11.3 0a5.65 5.65 0 1 0 -11.3 0M416.3 479.2a5.65 5.65 0 1 0 11.3 0a5.65 5.65 0 1 0 -11.3 0M416.4 495.6a5.65 5.65 0 1 0 11.3 0a5.65 5.65 0 1 0 -11.3 0M416.4 482.5a5.65 5.65 0 1 0 11.3 0a5.65 5.65 0 1 0 -11.3 0M416.4 469.3a5.65 5.65 0 1 0 11.3 0a5.65 5.65 0 1 0 -11.3 0M416.6 492.4a5.65 5.65 0 1 0 11.3 0a5.65 5.65 0 1 0 -11.3 0M416.7 472.6a5.65 5.65 0 1 0 11.3 0a5.65 5.65 0 1 0 -11.3 0M416.7 472.6a5.65 5.65 0 1 0 11.3 0a5.65 5.65 0 1 0 -11.3 0M416.8 472.6a5.65 5.65 0 1 0 11.3 0a5.65 5.65 0 1 0 -11.3 0M416.8 475.9a5.65 5.65 0 1 0 11.3 0a5.65 5.65 0 1 0 -11.3 0M416.8 469.3a5.65 5.65 0 1 0 11.3 0a5.65 5.65 0 1 0 -11.3 0M416.9 492.4a5.65 5.65 0 1 0 11.3 0a5.65 5.65 0 1 0 -11.3 0M416.9 466.1a5.65 5.65 0 1 0 11.3 0a5.65 5.65 0 1 0 -11.3 0M416.9 472.6a5.65 5.65 0 1 0 11.3 0a5.65 5.65 0 1 0 -11.3 0M417 505.5a5.65 5.65 0 1 0 11.3 0a5.65 5.65 0 1 0 -11.3 0M417 462.8a5.65 5.65 0 1 0 11.3 0a5.65 5.65 0 1 0 -11.3 0M417 475.9a5.65 5.65 0 1 0 11.3 0a5.65 5.65 0 1 0 -11.3 0M417 482.5a5.65 5.65 0 1 0 11.3 0a5.65 5.65 0 1 0 -11.3 0M417.1 479.2a5.65 5.65 0 1 0 11.3 0a5.65 5.65 0 1 0 -11.3 0M417.1 482.5a5.65 5.65 0 1 0 11.3 0a5.65 5.65 0 1 0 -11.3 0M417.2 462.8a5.65 5.65 0 1 0 11.3 0a5.65 5.65 0 1 0 -11.3 0M417.4 505.5a5.65 5.65 0 1 0 11.3 0a5.65 5.65 0 1 0 -11.3 0M417.5 475.9a5.65 5.65 0 1 0 11.3 0a5.65 5.65 0 1 0 -11.3 0M417.5 479.2a5.65 5.65 0 1 0 11.3 0a5.65 5.65 0 1 0 -11.3 0M417.5 485.8a5.65 5.65 0 1 0 11.3 0a5.65 5.65 0 1 0 -11.3 0M417.6 475.9a5.65 5.65 0 1 0 11.3 0a5.65 5.65 0 1 0 -11.3 0M417.7 475.9a5.65 5.65 0 1 0 11.3 0a5.65 5.65 0 1 0 -11.3 0M417.7 485.8a5.65 5.65 0 1 0 11.3 0a5.65 5.65 0 1 0 -11.3 0M417.8 485.8a5.65 5.65 0 1 0 11.3 0a5.65 5.65 0 1 0 -11.3 0M417.9 479.2a5.65 5.65 0 1 0 11.3 0a5.65 5.65 0 1 0 -11.3 0M417.9 482.5a5.65 5.65 0 1 0 11.3 0a5.65 5.65 0 1 0 -11.3 0M417.9 452.9a5.65 5.65 0 1 0 11.3 0a5.65 5.65 0 1 0 -11.3 0M417.9 489.1a5.65 5.65 0 1 0 11.3 0a5.65 5.65 0 1 0 -11.3 0M418 472.6a5.65 5.65 0 1 0 11.3 0a5.65 5.65 0 1 0 -11.3 0M418.1 508.8a5.65 5.65 0 1 0 11.3 0a5.65 5.65 0 1 0 -11.3 0M418.1 518.7a5.65 5.65 0 1 0 11.3 0a5.65 5.65 0 1 0 -11.3 0M418.1 498.9a5.65 5.65 0 1 0 11.3 0a5.65 5.65 0 1 0 -11.3 0M418.1 459.5a5.65 5.65 0 1 0 11.3 0a5.65 5.65 0 1 0 -11.3 0M418.3 485.8a5.65 5.65 0 1 0 11.3 0a5.65 5.65 0 1 0 -11.3 0M418.4 489.1a5.65 5.65 0 1 0 11.3 0a5.65 5.65 0 1 0 -11.3 0M418.4 492.4a5.65 5.65 0 1 0 11.3 0a5.65 5.65 0 1 0 -11.3 0M418.4 469.3a5.65 5.65 0 1 0 11.3 0a5.65 5.65 0 1 0 -11.3 0M418.5 472.6a5.65 5.65 0 1 0 11.3 0a5.65 5.65 0 1 0 -11.3 0M418.6 479.2a5.65 5.65 0 1 0 11.3 0a5.65 5.65 0 1 0 -11.3 0M418.6 469.3a5.65 5.65 0 1 0 11.3 0a5.65 5.65 0 1 0 -11.3 0M418.6 479.2a5.65 5.65 0 1 0 11.3 0a5.65 5.65 0 1 0 -11.3 0M418.7 469.3a5.65 5.65 0 1 0 11.3 0a5.65 5.65 0 1 0 -11.3 0M418.9 469.3a5.65 5.65 0 1 0 11.3 0a5.65 5.65 0 1 0 -11.3 0M418.9 485.8a5.65 5.65 0 1 0 11.3 0a5.65 5.65 0 1 0 -11.3 0M419.1 469.3a5.65 5.65 0 1 0 11.3 0a5.65 5.65 0 1 0 -11.3 0M419.1 459.5a5.65 5.65 0 1 0 11.3 0a5.65 5.65 0 1 0 -11.3 0M419.2 485.8a5.65 5.65 0 1 0 11.3 0a5.65 5.65 0 1 0 -11.3 0M419.4 466.1a5.65 5.65 0 1 0 11.3 0a5.65 5.65 0 1 0 -11.3 0M419.5 472.6a5.65 5.65 0 1 0 11.3 0a5.65 5.65 0 1 0 -11.3 0M419.6 466.1a5.65 5.65 0 1 0 11.3 0a5.65 5.65 0 1 0 -11.3 0M419.6 469.3a5.65 5.65 0 1 0 11.3 0a5.65 5.65 0 1 0 -11.3 0M420 462.8a5.65 5.65 0 1 0 11.3 0a5.65 5.65 0 1 0 -11.3 0M420 482.5a5.65 5.65 0 1 0 11.3 0a5.65 5.65 0 1 0 -11.3 0M420.2 479.2a5.65 5.65 0 1 0 11.3 0a5.65 5.65 0 1 0 -11.3 0M420.2 485.8a5.65 5.65 0 1 0 11.3 0a5.65 5.65 0 1 0 -11.3 0M420.2 475.9a5.65 5.65 0 1 0 11.3 0a5.65 5.65 0 1 0 -11.3 0M420.3 489.1a5.65 5.65 0 1 0 11.3 0a5.65 5.65 0 1 0 -11.3 0M420.3 505.5a5.65 5.65 0 1 0 11.3 0a5.65 5.65 0 1 0 -11.3 0M420.4 479.2a5.65 5.65 0 1 0 11.3 0a5.65 5.65 0 1 0 -11.3 0M420.6 492.4a5.65 5.65 0 1 0 11.3 0a5.65 5.65 0 1 0 -11.3 0M420.6 472.6a5.65 5.65 0 1 0 11.3 0a5.65 5.65 0 1 0 -11.3 0M420.7 479.2a5.65 5.65 0 1 0 11.3 0a5.65 5.65 0 1 0 -11.3 0M420.9 479.2a5.65 5.65 0 1 0 11.3 0a5.65 5.65 0 1 0 -11.3 0M420.9 479.2a5.65 5.65 0 1 0 11.3 0a5.65 5.65 0 1 0 -11.3 0M421.1 482.5a5.65 5.65 0 1 0 11.3 0a5.65 5.65 0 1 0 -11.3 0M421.3 479.2a5.65 5.65 0 1 0 11.3 0a5.65 5.65 0 1 0 -11.3 0M421.3 475.9a5.65 5.65 0 1 0 11.3 0a5.65 5.65 0 1 0 -11.3 0M421.4 489.1a5.65 5.65 0 1 0 11.3 0a5.65 5.65 0 1 0 -11.3 0M421.4 482.5a5.65 5.65 0 1 0 11.3 0a5.65 5.65 0 1 0 -11.3 0M421.5 479.2a5.65 5.65 0 1 0 11.3 0a5.65 5.65 0 1 0 -11.3 0M421.8 479.2a5.65 5.65 0 1 0 11.3 0a5.65 5.65 0 1 0 -11.3 0M421.9 485.8a5.65 5.65 0 1 0 11.3 0a5.65 5.65 0 1 0 -11.3 0M422 456.2a5.65 5.65 0 1 0 11.3 0a5.65 5.65 0 1 0 -11.3 0M422 485.8a5.65 5.65 0 1 0 11.3 0a5.65 5.65 0 1 0 -11.3 0M422.4 475.9a5.65 5.65 0 1 0 11.3 0a5.65 5.65 0 1 0 -11.3 0M422.6 482.5a5.65 5.65 0 1 0 11.3 0a5.65 5.65 0 1 0 -11.3 0M422.6 489.1a5.65 5.65 0 1 0 11.3 0a5.65 5.65 0 1 0 -11.3 0M422.7 472.6a5.65 5.65 0 1 0 11.3 0a5.65 5.65 0 1 0 -11.3 0M422.7 498.9a5.65 5.65 0 1 0 11.3 0a5.65 5.65 0 1 0 -11.3 0M422.8 495.6a5.65 5.65 0 1 0 11.3 0a5.65 5.65 0 1 0 -11.3 0M422.8 459.5a5.65 5.65 0 1 0 11.3 0a5.65 5.65 0 1 0 -11.3 0M423 492.4a5.65 5.65 0 1 0 11.3 0a5.65 5.65 0 1 0 -11.3 0M423.2 482.5a5.65 5.65 0 1 0 11.3 0a5.65 5.65 0 1 0 -11.3 0M423.2 505.5a5.65 5.65 0 1 0 11.3 0a5.65 5.65 0 1 0 -11.3 0M423.3 485.8a5.65 5.65 0 1 0 11.3 0a5.65 5.65 0 1 0 -11.3 0M423.4 489.1a5.65 5.65 0 1 0 11.3 0a5.65 5.65 0 1 0 -11.3 0M423.8 482.5a5.65 5.65 0 1 0 11.3 0a5.65 5.65 0 1 0 -11.3 0M423.9 482.5a5.65 5.65 0 1 0 11.3 0a5.65 5.65 0 1 0 -11.3 0M423.9 472.6a5.65 5.65 0 1 0 11.3 0a5.65 5.65 0 1 0 -11.3 0M424 472.6a5.65 5.65 0 1 0 11.3 0a5.65 5.65 0 1 0 -11.3 0M424.1 495.6a5.65 5.65 0 1 0 11.3 0a5.65 5.65 0 1 0 -11.3 0M424.2 485.8a5.65 5.65 0 1 0 11.3 0a5.65 5.65 0 1 0 -11.3 0M424.4 485.8a5.65 5.65 0 1 0 11.3 0a5.65 5.65 0 1 0 -11.3 0M424.6 482.5a5.65 5.65 0 1 0 11.3 0a5.65 5.65 0 1 0 -11.3 0M424.6 489.1a5.65 5.65 0 1 0 11.3 0a5.65 5.65 0 1 0 -11.3 0M424.7 466.1a5.65 5.65 0 1 0 11.3 0a5.65 5.65 0 1 0 -11.3 0M424.7 452.9a5.65 5.65 0 1 0 11.3 0a5.65 5.65 0 1 0 -11.3 0M424.7 502.2a5.65 5.65 0 1 0 11.3 0a5.65 5.65 0 1 0 -11.3 0M424.8 485.8a5.65 5.65 0 1 0 11.3 0a5.65 5.65 0 1 0 -11.3 0M424.8 466.1a5.65 5.65 0 1 0 11.3 0a5.65 5.65 0 1 0 -11.3 0M424.8 462.8a5.65 5.65 0 1 0 11.3 0a5.65 5.65 0 1 0 -11.3 0M424.9 495.6a5.65 5.65 0 1 0 11.3 0a5.65 5.65 0 1 0 -11.3 0M425 482.5a5.65 5.65 0 1 0 11.3 0a5.65 5.65 0 1 0 -11.3 0M425 475.9a5.65 5.65 0 1 0 11.3 0a5.65 5.65 0 1 0 -11.3 0M425.2 456.2a5.65 5.65 0 1 0 11.3 0a5.65 5.65 0 1 0 -11.3 0M425.2 472.6a5.65 5.65 0 1 0 11.3 0a5.65 5.65 0 1 0 -11.3 0M425.3 475.9a5.65 5.65 0 1 0 11.3 0a5.65 5.65 0 1 0 -11.3 0M425.4 489.1a5.65 5.65 0 1 0 11.3 0a5.65 5.65 0 1 0 -11.3 0M425.4 462.8a5.65 5.65 0 1 0 11.3 0a5.65 5.65 0 1 0 -11.3 0M425.5 452.9a5.65 5.65 0 1 0 11.3 0a5.65 5.65 0 1 0 -11.3 0M425.6 492.4a5.65 5.65 0 1 0 11.3 0a5.65 5.65 0 1 0 -11.3 0M425.7 456.2a5.65 5.65 0 1 0 11.3 0a5.65 5.65 0 1 0 -11.3 0M425.8 498.9a5.65 5.65 0 1 0 11.3 0a5.65 5.65 0 1 0 -11.3 0M425.9 482.5a5.65 5.65 0 1 0 11.3 0a5.65 5.65 0 1 0 -11.3 0M426 479.2a5.65 5.65 0 1 0 11.3 0a5.65 5.65 0 1 0 -11.3 0M426 475.9a5.65 5.65 0 1 0 11.3 0a5.65 5.65 0 1 0 -11.3 0M426 492.4a5.65 5.65 0 1 0 11.3 0a5.65 5.65 0 1 0 -11.3 0M426.1 472.6a5.65 5.65 0 1 0 11.3 0a5.65 5.65 0 1 0 -11.3 0M426.2 482.5a5.65 5.65 0 1 0 11.3 0a5.65 5.65 0 1 0 -11.3 0M426.2 472.6a5.65 5.65 0 1 0 11.3 0a5.65 5.65 0 1 0 -11.3 0M426.2 489.1a5.65 5.65 0 1 0 11.3 0a5.65 5.65 0 1 0 -11.3 0M426.3 469.3a5.65 5.65 0 1 0 11.3 0a5.65 5.65 0 1 0 -11.3 0M426.3 498.9a5.65 5.65 0 1 0 11.3 0a5.65 5.65 0 1 0 -11.3 0M426.4 482.5a5.65 5.65 0 1 0 11.3 0a5.65 5.65 0 1 0 -11.3 0M426.5 472.6a5.65 5.65 0 1 0 11.3 0a5.65 5.65 0 1 0 -11.3 0M426.5 482.5a5.65 5.65 0 1 0 11.3 0a5.65 5.65 0 1 0 -11.3 0M426.7 482.5a5.65 5.65 0 1 0 11.3 0a5.65 5.65 0 1 0 -11.3 0M427 479.2a5.65 5.65 0 1 0 11.3 0a5.65 5.65 0 1 0 -11.3 0M427 492.4a5.65 5.65 0 1 0 11.3 0a5.65 5.65 0 1 0 -11.3 0M427.2 482.5a5.65 5.65 0 1 0 11.3 0a5.65 5.65 0 1 0 -11.3 0M427.5 489.1a5.65 5.65 0 1 0 11.3 0a5.65 5.65 0 1 0 -11.3 0M427.8 482.5a5.65 5.65 0 1 0 11.3 0a5.65 5.65 0 1 0 -11.3 0M427.8 475.9a5.65 5.65 0 1 0 11.3 0a5.65 5.65 0 1 0 -11.3 0M427.8 479.2a5.65 5.65 0 1 0 11.3 0a5.65 5.65 0 1 0 -11.3 0M427.9 475.9a5.65 5.65 0 1 0 11.3 0a5.65 5.65 0 1 0 -11.3 0M428 475.9a5.65 5.65 0 1 0 11.3 0a5.65 5.65 0 1 0 -11.3 0M428.1 485.8a5.65 5.65 0 1 0 11.3 0a5.65 5.65 0 1 0 -11.3 0M428.1 456.2a5.65 5.65 0 1 0 11.3 0a5.65 5.65 0 1 0 -11.3 0M428.3 466.1a5.65 5.65 0 1 0 11.3 0a5.65 5.65 0 1 0 -11.3 0M428.5 502.2a5.65 5.65 0 1 0 11.3 0a5.65 5.65 0 1 0 -11.3 0M428.6 485.8a5.65 5.65 0 1 0 11.3 0a5.65 5.65 0 1 0 -11.3 0M428.7 492.4a5.65 5.65 0 1 0 11.3 0a5.65 5.65 0 1 0 -11.3 0M428.8 485.8a5.65 5.65 0 1 0 11.3 0a5.65 5.65 0 1 0 -11.3 0M428.9 472.6a5.65 5.65 0 1 0 11.3 0a5.65 5.65 0 1 0 -11.3 0M429 472.6a5.65 5.65 0 1 0 11.3 0a5.65 5.65 0 1 0 -11.3 0M429 472.6a5.65 5.65 0 1 0 11.3 0a5.65 5.65 0 1 0 -11.3 0M429.1 479.2a5.65 5.65 0 1 0 11.3 0a5.65 5.65 0 1 0 -11.3 0M429.1 479.2a5.65 5.65 0 1 0 11.3 0a5.65 5.65 0 1 0 -11.3 0M429.1 466.1a5.65 5.65 0 1 0 11.3 0a5.65 5.65 0 1 0 -11.3 0M429.1 475.9a5.65 5.65 0 1 0 11.3 0a5.65 5.65 0 1 0 -11.3 0M429.2 495.6a5.65 5.65 0 1 0 11.3 0a5.65 5.65 0 1 0 -11.3 0M429.2 482.5a5.65 5.65 0 1 0 11.3 0a5.65 5.65 0 1 0 -11.3 0M429.3 479.2a5.65 5.65 0 1 0 11.3 0a5.65 5.65 0 1 0 -11.3 0M429.3 485.8a5.65 5.65 0 1 0 11.3 0a5.65 5.65 0 1 0 -11.3 0M429.4 495.6a5.65 5.65 0 1 0 11.3 0a5.65 5.65 0 1 0 -11.3 0M429.4 475.9a5.65 5.65 0 1 0 11.3 0a5.65 5.65 0 1 0 -11.3 0M429.5 479.2a5.65 5.65 0 1 0 11.3 0a5.65 5.65 0 1 0 -11.3 0M429.5 495.6a5.65 5.65 0 1 0 11.3 0a5.65 5.65 0 1 0 -11.3 0M429.5 495.6a5.65 5.65 0 1 0 11.3 0a5.65 5.65 0 1 0 -11.3 0M429.7 495.6a5.65 5.65 0 1 0 11.3 0a5.65 5.65 0 1 0 -11.3 0M429.8 492.4a5.65 5.65 0 1 0 11.3 0a5.65 5.65 0 1 0 -11.3 0M429.8 489.1a5.65 5.65 0 1 0 11.3 0a5.65 5.65 0 1 0 -11.3 0M429.8 462.8a5.65 5.65 0 1 0 11.3 0a5.65 5.65 0 1 0 -11.3 0M429.8 485.8a5.65 5.65 0 1 0 11.3 0a5.65 5.65 0 1 0 -11.3 0M429.9 485.8a5.65 5.65 0 1 0 11.3 0a5.65 5.65 0 1 0 -11.3 0M430 485.8a5.65 5.65 0 1 0 11.3 0a5.65 5.65 0 1 0 -11.3 0M430 485.8a5.65 5.65 0 1 0 11.3 0a5.65 5.65 0 1 0 -11.3 0M430.1 475.9a5.65 5.65 0 1 0 11.3 0a5.65 5.65 0 1 0 -11.3 0M430.1 469.3a5.65 5.65 0 1 0 11.3 0a5.65 5.65 0 1 0 -11.3 0M430.1 485.8a5.65 5.65 0 1 0 11.3 0a5.65 5.65 0 1 0 -11.3 0M430.1 485.8a5.65 5.65 0 1 0 11.3 0a5.65 5.65 0 1 0 -11.3 0M430.1 462.8a5.65 5.65 0 1 0 11.3 0a5.65 5.65 0 1 0 -11.3 0M430.3 462.8a5.65 5.65 0 1 0 11.3 0a5.65 5.65 0 1 0 -11.3 0M430.4 479.2a5.65 5.65 0 1 0 11.3 0a5.65 5.65 0 1 0 -11.3 0M430.4 479.2a5.65 5.65 0 1 0 11.3 0a5.65 5.65 0 1 0 -11.3 0M430.4 485.8a5.65 5.65 0 1 0 11.3 0a5.65 5.65 0 1 0 -11.3 0M430.4 489.1a5.65 5.65 0 1 0 11.3 0a5.65 5.65 0 1 0 -11.3 0M430.5 479.2a5.65 5.65 0 1 0 11.3 0a5.65 5.65 0 1 0 -11.3 0M430.5 462.8a5.65 5.65 0 1 0 11.3 0a5.65 5.65 0 1 0 -11.3 0M430.7 462.8a5.65 5.65 0 1 0 11.3 0a5.65 5.65 0 1 0 -11.3 0M430.7 472.6a5.65 5.65 0 1 0 11.3 0a5.65 5.65 0 1 0 -11.3 0M430.7 482.5a5.65 5.65 0 1 0 11.3 0a5.65 5.65 0 1 0 -11.3 0M430.8 479.2a5.65 5.65 0 1 0 11.3 0a5.65 5.65 0 1 0 -11.3 0M431 495.6a5.65 5.65 0 1 0 11.3 0a5.65 5.65 0 1 0 -11.3 0M431.1 498.9a5.65 5.65 0 1 0 11.3 0a5.65 5.65 0 1 0 -11.3 0M431.1 456.2a5.65 5.65 0 1 0 11.3 0a5.65 5.65 0 1 0 -11.3 0M431.2 475.9a5.65 5.65 0 1 0 11.3 0a5.65 5.65 0 1 0 -11.3 0M431.2 482.5a5.65 5.65 0 1 0 11.3 0a5.65 5.65 0 1 0 -11.3 0M431.3 492.4a5.65 5.65 0 1 0 11.3 0a5.65 5.65 0 1 0 -11.3 0M431.5 472.6a5.65 5.65 0 1 0 11.3 0a5.65 5.65 0 1 0 -11.3 0M431.6 485.8a5.65 5.65 0 1 0 11.3 0a5.65 5.65 0 1 0 -11.3 0M431.6 495.6a5.65 5.65 0 1 0 11.3 0a5.65 5.65 0 1 0 -11.3 0M431.7 479.2a5.65 5.65 0 1 0 11.3 0a5.65 5.65 0 1 0 -11.3 0M431.8 495.6a5.65 5.65 0 1 0 11.3 0a5.65 5.65 0 1 0 -11.3 0M431.9 475.9a5.65 5.65 0 1 0 11.3 0a5.65 5.65 0 1 0 -11.3 0M431.9 479.2a5.65 5.65 0 1 0 11.3 0a5.65 5.65 0 1 0 -11.3 0M432.2 446.3a5.65 5.65 0 1 0 11.3 0a5.65 5.65 0 1 0 -11.3 0M432.2 466.1a5.65 5.65 0 1 0 11.3 0a5.65 5.65 0 1 0 -11.3 0M432.3 485.8a5.65 5.65 0 1 0 11.3 0a5.65 5.65 0 1 0 -11.3 0M432.3 466.1a5.65 5.65 0 1 0 11.3 0a5.65 5.65 0 1 0 -11.3 0M432.4 475.9a5.65 5.65 0 1 0 11.3 0a5.65 5.65 0 1 0 -11.3 0M432.7 495.6a5.65 5.65 0 1 0 11.3 0a5.65 5.65 0 1 0 -11.3 0M432.7 479.2a5.65 5.65 0 1 0 11.3 0a5.65 5.65 0 1 0 -11.3 0M432.8 479.2a5.65 5.65 0 1 0 11.3 0a5.65 5.65 0 1 0 -11.3 0M432.9 472.6a5.65 5.65 0 1 0 11.3 0a5.65 5.65 0 1 0 -11.3 0M433 489.1a5.65 5.65 0 1 0 11.3 0a5.65 5.65 0 1 0 -11.3 0M433.2 475.9a5.65 5.65 0 1 0 11.3 0a5.65 5.65 0 1 0 -11.3 0M433.4 498.9a5.65 5.65 0 1 0 11.3 0a5.65 5.65 0 1 0 -11.3 0M433.4 475.9a5.65 5.65 0 1 0 11.3 0a5.65 5.65 0 1 0 -11.3 0M433.5 495.6a5.65 5.65 0 1 0 11.3 0a5.65 5.65 0 1 0 -11.3 0M433.5 462.8a5.65 5.65 0 1 0 11.3 0a5.65 5.65 0 1 0 -11.3 0M433.5 469.3a5.65 5.65 0 1 0 11.3 0a5.65 5.65 0 1 0 -11.3 0M433.6 489.1a5.65 5.65 0 1 0 11.3 0a5.65 5.65 0 1 0 -11.3 0M433.7 489.1a5.65 5.65 0 1 0 11.3 0a5.65 5.65 0 1 0 -11.3 0M433.7 469.3a5.65 5.65 0 1 0 11.3 0a5.65 5.65 0 1 0 -11.3 0M433.8 492.4a5.65 5.65 0 1 0 11.3 0a5.65 5.65 0 1 0 -11.3 0M433.9 495.6a5.65 5.65 0 1 0 11.3 0a5.65 5.65 0 1 0 -11.3 0M434.1 469.3a5.65 5.65 0 1 0 11.3 0a5.65 5.65 0 1 0 -11.3 0M434.1 469.3a5.65 5.65 0 1 0 11.3 0a5.65 5.65 0 1 0 -11.3 0M434.1 485.8a5.65 5.65 0 1 0 11.3 0a5.65 5.65 0 1 0 -11.3 0M434.2 479.2a5.65 5.65 0 1 0 11.3 0a5.65 5.65 0 1 0 -11.3 0M434.6 489.1a5.65 5.65 0 1 0 11.3 0a5.65 5.65 0 1 0 -11.3 0M434.7 462.8a5.65 5.65 0 1 0 11.3 0a5.65 5.65 0 1 0 -11.3 0M434.7 489.1a5.65 5.65 0 1 0 11.3 0a5.65 5.65 0 1 0 -11.3 0M434.9 475.9a5.65 5.65 0 1 0 11.3 0a5.65 5.65 0 1 0 -11.3 0M434.9 495.6a5.65 5.65 0 1 0 11.3 0a5.65 5.65 0 1 0 -11.3 0M435.3 479.2a5.65 5.65 0 1 0 11.3 0a5.65 5.65 0 1 0 -11.3 0M435.3 492.4a5.65 5.65 0 1 0 11.3 0a5.65 5.65 0 1 0 -11.3 0M435.5 472.6a5.65 5.65 0 1 0 11.3 0a5.65 5.65 0 1 0 -11.3 0M435.8 489.1a5.65 5.65 0 1 0 11.3 0a5.65 5.65 0 1 0 -11.3 0M435.8 479.2a5.65 5.65 0 1 0 11.3 0a5.65 5.65 0 1 0 -11.3 0M435.9 475.9a5.65 5.65 0 1 0 11.3 0a5.65 5.65 0 1 0 -11.3 0M435.9 489.1a5.65 5.65 0 1 0 11.3 0a5.65 5.65 0 1 0 -11.3 0M436 498.9a5.65 5.65 0 1 0 11.3 0a5.65 5.65 0 1 0 -11.3 0M436.2 466.1a5.65 5.65 0 1 0 11.3 0a5.65 5.65 0 1 0 -11.3 0M436.2 492.4a5.65 5.65 0 1 0 11.3 0a5.65 5.65 0 1 0 -11.3 0M436.3 479.2a5.65 5.65 0 1 0 11.3 0a5.65 5.65 0 1 0 -11.3 0M436.4 482.5a5.65 5.65 0 1 0 11.3 0a5.65 5.65 0 1 0 -11.3 0M436.5 482.5a5.65 5.65 0 1 0 11.3 0a5.65 5.65 0 1 0 -11.3 0M436.7 505.5a5.65 5.65 0 1 0 11.3 0a5.65 5.65 0 1 0 -11.3 0M436.7 469.3a5.65 5.65 0 1 0 11.3 0a5.65 5.65 0 1 0 -11.3 0M436.9 498.9a5.65 5.65 0 1 0 11.3 0a5.65 5.65 0 1 0 -11.3 0M437.1 479.2a5.65 5.65 0 1 0 11.3 0a5.65 5.65 0 1 0 -11.3 0M437.2 475.9a5.65 5.65 0 1 0 11.3 0a5.65 5.65 0 1 0 -11.3 0M437.2 479.2a5.65 5.65 0 1 0 11.3 0a5.65 5.65 0 1 0 -11.3 0M437.3 489.1a5.65 5.65 0 1 0 11.3 0a5.65 5.65 0 1 0 -11.3 0M437.7 498.9a5.65 5.65 0 1 0 11.3 0a5.65 5.65 0 1 0 -11.3 0M437.8 489.1a5.65 5.65 0 1 0 11.3 0a5.65 5.65 0 1 0 -11.3 0M437.9 472.6a5.65 5.65 0 1 0 11.3 0a5.65 5.65 0 1 0 -11.3 0M437.9 492.4a5.65 5.65 0 1 0 11.3 0a5.65 5.65 0 1 0 -11.3 0M438 505.5a5.65 5.65 0 1 0 11.3 0a5.65 5.65 0 1 0 -11.3 0M438.1 498.9a5.65 5.65 0 1 0 11.3 0a5.65 5.65 0 1 0 -11.3 0M438.2 485.8a5.65 5.65 0 1 0 11.3 0a5.65 5.65 0 1 0 -11.3 0M438.2 489.1a5.65 5.65 0 1 0 11.3 0a5.65 5.65 0 1 0 -11.3 0M438.4 482.5a5.65 5.65 0 1 0 11.3 0a5.65 5.65 0 1 0 -11.3 0M438.4 466.1a5.65 5.65 0 1 0 11.3 0a5.65 5.65 0 1 0 -11.3 0M438.8 492.4a5.65 5.65 0 1 0 11.3 0a5.65 5.65 0 1 0 -11.3 0M438.8 479.2a5.65 5.65 0 1 0 11.3 0a5.65 5.65 0 1 0 -11.3 0M438.8 472.6a5.65 5.65 0 1 0 11.3 0a5.65 5.65 0 1 0 -11.3 0M438.9 469.3a5.65 5.65 0 1 0 11.3 0a5.65 5.65 0 1 0 -11.3 0M438.9 469.3a5.65 5.65 0 1 0 11.3 0a5.65 5.65 0 1 0 -11.3 0M439.1 472.6a5.65 5.65 0 1 0 11.3 0a5.65 5.65 0 1 0 -11.3 0M439.3 498.9a5.65 5.65 0 1 0 11.3 0a5.65 5.65 0 1 0 -11.3 0M439.3 479.2a5.65 5.65 0 1 0 11.3 0a5.65 5.65 0 1 0 -11.3 0M439.4 472.6a5.65 5.65 0 1 0 11.3 0a5.65 5.65 0 1 0 -11.3 0M439.5 482.5a5.65 5.65 0 1 0 11.3 0a5.65 5.65 0 1 0 -11.3 0M439.6 482.5a5.65 5.65 0 1 0 11.3 0a5.65 5.65 0 1 0 -11.3 0M439.7 492.4a5.65 5.65 0 1 0 11.3 0a5.65 5.65 0 1 0 -11.3 0M439.8 475.9a5.65 5.65 0 1 0 11.3 0a5.65 5.65 0 1 0 -11.3 0M439.8 469.3a5.65 5.65 0 1 0 11.3 0a5.65 5.65 0 1 0 -11.3 0M439.8 495.6a5.65 5.65 0 1 0 11.3 0a5.65 5.65 0 1 0 -11.3 0M439.9 469.3a5.65 5.65 0 1 0 11.3 0a5.65 5.65 0 1 0 -11.3 0M440 498.9a5.65 5.65 0 1 0 11.3 0a5.65 5.65 0 1 0 -11.3 0M440.1 495.6a5.65 5.65 0 1 0 11.3 0a5.65 5.65 0 1 0 -11.3 0M440.2 485.8a5.65 5.65 0 1 0 11.3 0a5.65 5.65 0 1 0 -11.3 0M440.2 472.6a5.65 5.65 0 1 0 11.3 0a5.65 5.65 0 1 0 -11.3 0M440.2 489.1a5.65 5.65 0 1 0 11.3 0a5.65 5.65 0 1 0 -11.3 0M440.3 489.1a5.65 5.65 0 1 0 11.3 0a5.65 5.65 0 1 0 -11.3 0M440.5 485.8a5.65 5.65 0 1 0 11.3 0a5.65 5.65 0 1 0 -11.3 0M440.5 489.1a5.65 5.65 0 1 0 11.3 0a5.65 5.65 0 1 0 -11.3 0M440.5 479.2a5.65 5.65 0 1 0 11.3 0a5.65 5.65 0 1 0 -11.3 0M440.5 469.3a5.65 5.65 0 1 0 11.3 0a5.65 5.65 0 1 0 -11.3 0M440.6 485.8a5.65 5.65 0 1 0 11.3 0a5.65 5.65 0 1 0 -11.3 0M440.6 479.2a5.65 5.65 0 1 0 11.3 0a5.65 5.65 0 1 0 -11.3 0M440.7 475.9a5.65 5.65 0 1 0 11.3 0a5.65 5.65 0 1 0 -11.3 0M440.7 492.4a5.65 5.65 0 1 0 11.3 0a5.65 5.65 0 1 0 -11.3 0M440.7 495.6a5.65 5.65 0 1 0 11.3 0a5.65 5.65 0 1 0 -11.3 0M440.7 485.8a5.65 5.65 0 1 0 11.3 0a5.65 5.65 0 1 0 -11.3 0M440.8 482.5a5.65 5.65 0 1 0 11.3 0a5.65 5.65 0 1 0 -11.3 0M440.8 469.3a5.65 5.65 0 1 0 11.3 0a5.65 5.65 0 1 0 -11.3 0M440.8 459.5a5.65 5.65 0 1 0 11.3 0a5.65 5.65 0 1 0 -11.3 0M440.9 472.6a5.65 5.65 0 1 0 11.3 0a5.65 5.65 0 1 0 -11.3 0M440.9 495.6a5.65 5.65 0 1 0 11.3 0a5.65 5.65 0 1 0 -11.3 0M440.9 482.5a5.65 5.65 0 1 0 11.3 0a5.65 5.65 0 1 0 -11.3 0M441 482.5a5.65 5.65 0 1 0 11.3 0a5.65 5.65 0 1 0 -11.3 0M441 466.1a5.65 5.65 0 1 0 11.3 0a5.65 5.65 0 1 0 -11.3 0M441 469.3a5.65 5.65 0 1 0 11.3 0a5.65 5.65 0 1 0 -11.3 0M441 479.2a5.65 5.65 0 1 0 11.3 0a5.65 5.65 0 1 0 -11.3 0M441.1 521.9a5.65 5.65 0 1 0 11.3 0a5.65 5.65 0 1 0 -11.3 0M441.1 482.5a5.65 5.65 0 1 0 11.3 0a5.65 5.65 0 1 0 -11.3 0M441.4 472.6a5.65 5.65 0 1 0 11.3 0a5.65 5.65 0 1 0 -11.3 0M441.5 479.2a5.65 5.65 0 1 0 11.3 0a5.65 5.65 0 1 0 -11.3 0M441.5 475.9a5.65 5.65 0 1 0 11.3 0a5.65 5.65 0 1 0 -11.3 0M441.6 485.8a5.65 5.65 0 1 0 11.3 0a5.65 5.65 0 1 0 -11.3 0M441.6 469.3a5.65 5.65 0 1 0 11.3 0a5.65 5.65 0 1 0 -11.3 0M441.6 475.9a5.65 5.65 0 1 0 11.3 0a5.65 5.65 0 1 0 -11.3 0M441.7 485.8a5.65 5.65 0 1 0 11.3 0a5.65 5.65 0 1 0 -11.3 0M441.7 492.4a5.65 5.65 0 1 0 11.3 0a5.65 5.65 0 1 0 -11.3 0M441.7 475.9a5.65 5.65 0 1 0 11.3 0a5.65 5.65 0 1 0 -11.3 0M441.8 479.2a5.65 5.65 0 1 0 11.3 0a5.65 5.65 0 1 0 -11.3 0M441.8 475.9a5.65 5.65 0 1 0 11.3 0a5.65 5.65 0 1 0 -11.3 0M441.9 492.4a5.65 5.65 0 1 0 11.3 0a5.65 5.65 0 1 0 -11.3 0M441.9 485.8a5.65 5.65 0 1 0 11.3 0a5.65 5.65 0 1 0 -11.3 0M441.9 469.3a5.65 5.65 0 1 0 11.3 0a5.65 5.65 0 1 0 -11.3 0M442 489.1a5.65 5.65 0 1 0 11.3 0a5.65 5.65 0 1 0 -11.3 0M442 482.5a5.65 5.65 0 1 0 11.3 0a5.65 5.65 0 1 0 -11.3 0M442.1 489.1a5.65 5.65 0 1 0 11.3 0a5.65 5.65 0 1 0 -11.3 0M442.1 485.8a5.65 5.65 0 1 0 11.3 0a5.65 5.65 0 1 0 -11.3 0M442.2 479.2a5.65 5.65 0 1 0 11.3 0a5.65 5.65 0 1 0 -11.3 0M442.3 466.1a5.65 5.65 0 1 0 11.3 0a5.65 5.65 0 1 0 -11.3 0M442.3 485.8a5.65 5.65 0 1 0 11.3 0a5.65 5.65 0 1 0 -11.3 0M442.4 489.1a5.65 5.65 0 1 0 11.3 0a5.65 5.65 0 1 0 -11.3 0M442.4 472.6a5.65 5.65 0 1 0 11.3 0a5.65 5.65 0 1 0 -11.3 0M442.6 472.6a5.65 5.65 0 1 0 11.3 0a5.65 5.65 0 1 0 -11.3 0M442.8 469.3a5.65 5.65 0 1 0 11.3 0a5.65 5.65 0 1 0 -11.3 0M443 495.6a5.65 5.65 0 1 0 11.3 0a5.65 5.65 0 1 0 -11.3 0M443 492.4a5.65 5.65 0 1 0 11.3 0a5.65 5.65 0 1 0 -11.3 0M443.1 505.5a5.65 5.65 0 1 0 11.3 0a5.65 5.65 0 1 0 -11.3 0M443.5 492.4a5.65 5.65 0 1 0 11.3 0a5.65 5.65 0 1 0 -11.3 0M443.9 498.9a5.65 5.65 0 1 0 11.3 0a5.65 5.65 0 1 0 -11.3 0M444.1 482.5a5.65 5.65 0 1 0 11.3 0a5.65 5.65 0 1 0 -11.3 0M444.2 482.5a5.65 5.65 0 1 0 11.3 0a5.65 5.65 0 1 0 -11.3 0M444.8 466.1a5.65 5.65 0 1 0 11.3 0a5.65 5.65 0 1 0 -11.3 0M444.9 472.6a5.65 5.65 0 1 0 11.3 0a5.65 5.65 0 1 0 -11.3 0M445 466.1a5.65 5.65 0 1 0 11.3 0a5.65 5.65 0 1 0 -11.3 0M445.2 482.5a5.65 5.65 0 1 0 11.3 0a5.65 5.65 0 1 0 -11.3 0M445.2 479.2a5.65 5.65 0 1 0 11.3 0a5.65 5.65 0 1 0 -11.3 0M445.3 482.5a5.65 5.65 0 1 0 11.3 0a5.65 5.65 0 1 0 -11.3 0M445.9 469.3a5.65 5.65 0 1 0 11.3 0a5.65 5.65 0 1 0 -11.3 0M446.3 479.2a5.65 5.65 0 1 0 11.3 0a5.65 5.65 0 1 0 -11.3 0M446.8 459.5a5.65 5.65 0 1 0 11.3 0a5.65 5.65 0 1 0 -11.3 0M447.2 489.1a5.65 5.65 0 1 0 11.3 0a5.65 5.65 0 1 0 -11.3 0M447.5 485.8a5.65 5.65 0 1 0 11.3 0a5.65 5.65 0 1 0 -11.3 0M447.7 492.4a5.65 5.65 0 1 0 11.3 0a5.65 5.65 0 1 0 -11.3 0M447.9 462.8a5.65 5.65 0 1 0 11.3 0a5.65 5.65 0 1 0 -11.3 0M448.1 492.4a5.65 5.65 0 1 0 11.3 0a5.65 5.65 0 1 0 -11.3 0M448.4 485.8a5.65 5.65 0 1 0 11.3 0a5.65 5.65 0 1 0 -11.3 0M448.7 475.9a5.65 5.65 0 1 0 11.3 0a5.65 5.65 0 1 0 -11.3 0M448.8 495.6a5.65 5.65 0 1 0 11.3 0a5.65 5.65 0 1 0 -11.3 0M450.1 492.4a5.65 5.65 0 1 0 11.3 0a5.65 5.65 0 1 0 -11.3 0M450.1 492.4a5.65 5.65 0 1 0 11.3 0a5.65 5.65 0 1 0 -11.3 0M450.4 495.6a5.65 5.65 0 1 0 11.3 0a5.65 5.65 0 1 0 -11.3 0M450.9 469.3a5.65 5.65 0 1 0 11.3 0a5.65 5.65 0 1 0 -11.3 0M451 482.5a5.65 5.65 0 1 0 11.3 0a5.65 5.65 0 1 0 -11.3 0M451.6 475.9a5.65 5.65 0 1 0 11.3 0a5.65 5.65 0 1 0 -11.3 0M451.7 489.1a5.65 5.65 0 1 0 11.3 0a5.65 5.65 0 1 0 -11.3 0M452 469.3a5.65 5.65 0 1 0 11.3 0a5.65 5.65 0 1 0 -11.3 0M452.1 492.4a5.65 5.65 0 1 0 11.3 0a5.65 5.65 0 1 0 -11.3 0M452.2 485.8a5.65 5.65 0 1 0 11.3 0a5.65 5.65 0 1 0 -11.3 0M452.3 495.6a5.65 5.65 0 1 0 11.3 0a5.65 5.65 0 1 0 -11.3 0M452.6 479.2a5.65 5.65 0 1 0 11.3 0a5.65 5.65 0 1 0 -11.3 0M452.8 498.9a5.65 5.65 0 1 0 11.3 0a5.65 5.65 0 1 0 -11.3 0M452.9 482.5a5.65 5.65 0 1 0 11.3 0a5.65 5.65 0 1 0 -11.3 0M453.2 482.5a5.65 5.65 0 1 0 11.3 0a5.65 5.65 0 1 0 -11.3 0M453.2 479.2a5.65 5.65 0 1 0 11.3 0a5.65 5.65 0 1 0 -11.3 0M453.5 479.2a5.65 5.65 0 1 0 11.3 0a5.65 5.65 0 1 0 -11.3 0M454 475.9a5.65 5.65 0 1 0 11.3 0a5.65 5.65 0 1 0 -11.3 0M454 492.4a5.65 5.65 0 1 0 11.3 0a5.65 5.65 0 1 0 -11.3 0M454.2 475.9a5.65 5.65 0 1 0 11.3 0a5.65 5.65 0 1 0 -11.3 0M454.3 479.2a5.65 5.65 0 1 0 11.3 0a5.65 5.65 0 1 0 -11.3 0M454.4 472.6a5.65 5.65 0 1 0 11.3 0a5.65 5.65 0 1 0 -11.3 0M454.8 489.1a5.65 5.65 0 1 0 11.3 0a5.65 5.65 0 1 0 -11.3 0M454.9 485.8a5.65 5.65 0 1 0 11.3 0a5.65 5.65 0 1 0 -11.3 0M455 466.1a5.65 5.65 0 1 0 11.3 0a5.65 5.65 0 1 0 -11.3 0M455.1 446.3a5.65 5.65 0 1 0 11.3 0a5.65 5.65 0 1 0 -11.3 0M455.3 502.2a5.65 5.65 0 1 0 11.3 0a5.65 5.65 0 1 0 -11.3 0M455.3 466.1a5.65 5.65 0 1 0 11.3 0a5.65 5.65 0 1 0 -11.3 0M455.8 472.6a5.65 5.65 0 1 0 11.3 0a5.65 5.65 0 1 0 -11.3 0M456 466.1a5.65 5.65 0 1 0 11.3 0a5.65 5.65 0 1 0 -11.3 0M456.1 489.1a5.65 5.65 0 1 0 11.3 0a5.65 5.65 0 1 0 -11.3 0M456.5 492.4a5.65 5.65 0 1 0 11.3 0a5.65 5.65 0 1 0 -11.3 0M456.6 482.5a5.65 5.65 0 1 0 11.3 0a5.65 5.65 0 1 0 -11.3 0M456.6 479.2a5.65 5.65 0 1 0 11.3 0a5.65 5.65 0 1 0 -11.3 0M456.7 502.2a5.65 5.65 0 1 0 11.3 0a5.65 5.65 0 1 0 -11.3 0M456.7 472.6a5.65 5.65 0 1 0 11.3 0a5.65 5.65 0 1 0 -11.3 0M456.9 472.6a5.65 5.65 0 1 0 11.3 0a5.65 5.65 0 1 0 -11.3 0M457.1 485.8a5.65 5.65 0 1 0 11.3 0a5.65 5.65 0 1 0 -11.3 0M457.2 498.9a5.65 5.65 0 1 0 11.3 0a5.65 5.65 0 1 0 -11.3 0M457.5 479.2a5.65 5.65 0 1 0 11.3 0a5.65 5.65 0 1 0 -11.3 0M457.6 475.9a5.65 5.65 0 1 0 11.3 0a5.65 5.65 0 1 0 -11.3 0M457.6 466.1a5.65 5.65 0 1 0 11.3 0a5.65 5.65 0 1 0 -11.3 0M457.7 485.8a5.65 5.65 0 1 0 11.3 0a5.65 5.65 0 1 0 -11.3 0M457.8 472.6a5.65 5.65 0 1 0 11.3 0a5.65 5.65 0 1 0 -11.3 0M457.9 479.2a5.65 5.65 0 1 0 11.3 0a5.65 5.65 0 1 0 -11.3 0M458.1 462.8a5.65 5.65 0 1 0 11.3 0a5.65 5.65 0 1 0 -11.3 0M458.2 502.2a5.65 5.65 0 1 0 11.3 0a5.65 5.65 0 1 0 -11.3 0M458.3 479.2a5.65 5.65 0 1 0 11.3 0a5.65 5.65 0 1 0 -11.3 0M458.4 479.2a5.65 5.65 0 1 0 11.3 0a5.65 5.65 0 1 0 -11.3 0M458.5 498.9a5.65 5.65 0 1 0 11.3 0a5.65 5.65 0 1 0 -11.3 0M458.6 475.9a5.65 5.65 0 1 0 11.3 0a5.65 5.65 0 1 0 -11.3 0M458.7 489.1a5.65 5.65 0 1 0 11.3 0a5.65 5.65 0 1 0 -11.3 0M458.8 466.1a5.65 5.65 0 1 0 11.3 0a5.65 5.65 0 1 0 -11.3 0M458.9 482.5a5.65 5.65 0 1 0 11.3 0a5.65 5.65 0 1 0 -11.3 0M460.1 462.8a5.65 5.65 0 1 0 11.3 0a5.65 5.65 0 1 0 -11.3 0M460.3 489.1a5.65 5.65 0 1 0 11.3 0a5.65 5.65 0 1 0 -11.3 0M460.3 479.2a5.65 5.65 0 1 0 11.3 0a5.65 5.65 0 1 0 -11.3 0M460.9 475.9a5.65 5.65 0 1 0 11.3 0a5.65 5.65 0 1 0 -11.3 0M461.1 479.2a5.65 5.65 0 1 0 11.3 0a5.65 5.65 0 1 0 -11.3 0M461.3 475.9a5.65 5.65 0 1 0 11.3 0a5.65 5.65 0 1 0 -11.3 0M461.3 466.1a5.65 5.65 0 1 0 11.3 0a5.65 5.65 0 1 0 -11.3 0M462.2 485.8a5.65 5.65 0 1 0 11.3 0a5.65 5.65 0 1 0 -11.3 0M462.2 475.9a5.65 5.65 0 1 0 11.3 0a5.65 5.65 0 1 0 -11.3 0M462.9 495.6a5.65 5.65 0 1 0 11.3 0a5.65 5.65 0 1 0 -11.3 0M463 505.5a5.65 5.65 0 1 0 11.3 0a5.65 5.65 0 1 0 -11.3 0M464.3 482.5a5.65 5.65 0 1 0 11.3 0a5.65 5.65 0 1 0 -11.3 0M464.5 466.1a5.65 5.65 0 1 0 11.3 0a5.65 5.65 0 1 0 -11.3 0M464.7 495.6a5.65 5.65 0 1 0 11.3 0a5.65 5.65 0 1 0 -11.3 0M464.9 469.3a5.65 5.65 0 1 0 11.3 0a5.65 5.65 0 1 0 -11.3 0M465.1 495.6a5.65 5.65 0 1 0 11.3 0a5.65 5.65 0 1 0 -11.3 0M465.1 479.2a5.65 5.65 0 1 0 11.3 0a5.65 5.65 0 1 0 -11.3 0M465.1 475.9a5.65 5.65 0 1 0 11.3 0a5.65 5.65 0 1 0 -11.3 0M465.4 479.2a5.65 5.65 0 1 0 11.3 0a5.65 5.65 0 1 0 -11.3 0M465.5 469.3a5.65 5.65 0 1 0 11.3 0a5.65 5.65 0 1 0 -11.3 0M465.5 479.2a5.65 5.65 0 1 0 11.3 0a5.65 5.65 0 1 0 -11.3 0M465.7 475.9a5.65 5.65 0 1 0 11.3 0a5.65 5.65 0 1 0 -11.3 0M465.9 489.1a5.65 5.65 0 1 0 11.3 0a5.65 5.65 0 1 0 -11.3 0M465.9 489.1a5.65 5.65 0 1 0 11.3 0a5.65 5.65 0 1 0 -11.3 0M466.2 495.6a5.65 5.65 0 1 0 11.3 0a5.65 5.65 0 1 0 -11.3 0M466.6 485.8a5.65 5.65 0 1 0 11.3 0a5.65 5.65 0 1 0 -11.3 0M467.7 485.8a5.65 5.65 0 1 0 11.3 0a5.65 5.65 0 1 0 -11.3 0M467.8 469.3a5.65 5.65 0 1 0 11.3 0a5.65 5.65 0 1 0 -11.3 0M468.4 475.9a5.65 5.65 0 1 0 11.3 0a5.65 5.65 0 1 0 -11.3 0M468.5 485.8a5.65 5.65 0 1 0 11.3 0a5.65 5.65 0 1 0 -11.3 0M469.2 505.5a5.65 5.65 0 1 0 11.3 0a5.65 5.65 0 1 0 -11.3 0M469.6 489.1a5.65 5.65 0 1 0 11.3 0a5.65 5.65 0 1 0 -11.3 0M470.2 482.5a5.65 5.65 0 1 0 11.3 0a5.65 5.65 0 1 0 -11.3 0M470.3 466.1a5.65 5.65 0 1 0 11.3 0a5.65 5.65 0 1 0 -11.3 0M470.5 482.5a5.65 5.65 0 1 0 11.3 0a5.65 5.65 0 1 0 -11.3 0M470.9 472.6a5.65 5.65 0 1 0 11.3 0a5.65 5.65 0 1 0 -11.3 0M471.4 479.2a5.65 5.65 0 1 0 11.3 0a5.65 5.65 0 1 0 -11.3 0M472.6 475.9a5.65 5.65 0 1 0 11.3 0a5.65 5.65 0 1 0 -11.3 0M472.8 475.9a5.65 5.65 0 1 0 11.3 0a5.65 5.65 0 1 0 -11.3 0M472.9 492.4a5.65 5.65 0 1 0 11.3 0a5.65 5.65 0 1 0 -11.3 0M473 472.6a5.65 5.65 0 1 0 11.3 0a5.65 5.65 0 1 0 -11.3 0M473.1 498.9a5.65 5.65 0 1 0 11.3 0a5.65 5.65 0 1 0 -11.3 0M473.8 482.5a5.65 5.65 0 1 0 11.3 0a5.65 5.65 0 1 0 -11.3 0M473.9 492.4a5.65 5.65 0 1 0 11.3 0a5.65 5.65 0 1 0 -11.3 0M474.4 505.5a5.65 5.65 0 1 0 11.3 0a5.65 5.65 0 1 0 -11.3 0M474.5 485.8a5.65 5.65 0 1 0 11.3 0a5.65 5.65 0 1 0 -11.3 0M475.6 472.6a5.65 5.65 0 1 0 11.3 0a5.65 5.65 0 1 0 -11.3 0M476 485.8a5.65 5.65 0 1 0 11.3 0a5.65 5.65 0 1 0 -11.3 0M476.2 479.2a5.65 5.65 0 1 0 11.3 0a5.65 5.65 0 1 0 -11.3 0M478.4 489.1a5.65 5.65 0 1 0 11.3 0a5.65 5.65 0 1 0 -11.3 0M479.3 466.1a5.65 5.65 0 1 0 11.3 0a5.65 5.65 0 1 0 -11.3 0M479.9 489.1a5.65 5.65 0 1 0 11.3 0a5.65 5.65 0 1 0 -11.3 0M480.1 505.5a5.65 5.65 0 1 0 11.3 0a5.65 5.65 0 1 0 -11.3 0M482.2 498.9a5.65 5.65 0 1 0 11.3 0a5.65 5.65 0 1 0 -11.3 0M483 498.9a5.65 5.65 0 1 0 11.3 0a5.65 5.65 0 1 0 -11.3 0M483.1 512.1a5.65 5.65 0 1 0 11.3 0a5.65 5.65 0 1 0 -11.3 0M483.5 502.2a5.65 5.65 0 1 0 11.3 0a5.65 5.65 0 1 0 -11.3 0M483.5 489.1a5.65 5.65 0 1 0 11.3 0a5.65 5.65 0 1 0 -11.3 0M483.8 495.6a5.65 5.65 0 1 0 11.3 0a5.65 5.65 0 1 0 -11.3 0M484 482.5a5.65 5.65 0 1 0 11.3 0a5.65 5.65 0 1 0 -11.3 0M484.2 475.9a5.65 5.65 0 1 0 11.3 0a5.65 5.65 0 1 0 -11.3 0M484.5 472.6a5.65 5.65 0 1 0 11.3 0a5.65 5.65 0 1 0 -11.3 0M485.2 485.8a5.65 5.65 0 1 0 11.3 0a5.65 5.65 0 1 0 -11.3 0M485.2 469.3a5.65 5.65 0 1 0 11.3 0a5.65 5.65 0 1 0 -11.3 0M485.8 466.1a5.65 5.65 0 1 0 11.3 0a5.65 5.65 0 1 0 -11.3 0M486.4 482.5a5.65 5.65 0 1 0 11.3 0a5.65 5.65 0 1 0 -11.3 0M486.7 495.6a5.65 5.65 0 1 0 11.3 0a5.65 5.65 0 1 0 -11.3 0M489.4 479.2a5.65 5.65 0 1 0 11.3 0a5.65 5.65 0 1 0 -11.3 0M489.9 495.6a5.65 5.65 0 1 0 11.3 0a5.65 5.65 0 1 0 -11.3 0M490.3 495.6a5.65 5.65 0 1 0 11.3 0a5.65 5.65 0 1 0 -11.3 0M490.6 479.2a5.65 5.65 0 1 0 11.3 0a5.65 5.65 0 1 0 -11.3 0M493.3 482.5a5.65 5.65 0 1 0 11.3 0a5.65 5.65 0 1 0 -11.3 0M494.4 466.1a5.65 5.65 0 1 0 11.3 0a5.65 5.65 0 1 0 -11.3 0M494.4 492.4a5.65 5.65 0 1 0 11.3 0a5.65 5.65 0 1 0 -11.3 0M497.7 502.2a5.65 5.65 0 1 0 11.3 0a5.65 5.65 0 1 0 -11.3 0M498.5 492.4a5.65 5.65 0 1 0 11.3 0a5.65 5.65 0 1 0 -11.3 0M498.5 495.6a5.65 5.65 0 1 0 11.3 0a5.65 5.65 0 1 0 -11.3 0M500.3 492.4a5.65 5.65 0 1 0 11.3 0a5.65 5.65 0 1 0 -11.3 0M502.7 479.2a5.65 5.65 0 1 0 11.3 0a5.65 5.65 0 1 0 -11.3 0M503.5 482.5a5.65 5.65 0 1 0 11.3 0a5.65 5.65 0 1 0 -11.3 0M503.7 475.9a5.65 5.65 0 1 0 11.3 0a5.65 5.65 0 1 0 -11.3 0M503.9 472.6a5.65 5.65 0 1 0 11.3 0a5.65 5.65 0 1 0 -11.3 0M504.6 475.9a5.65 5.65 0 1 0 11.3 0a5.65 5.65 0 1 0 -11.3 0M505.7 482.5a5.65 5.65 0 1 0 11.3 0a5.65 5.65 0 1 0 -11.3 0M507.4 472.6a5.65 5.65 0 1 0 11.3 0a5.65 5.65 0 1 0 -11.3 0M507.6 498.9a5.65 5.65 0 1 0 11.3 0a5.65 5.65 0 1 0 -11.3 0M509.4 479.2a5.65 5.65 0 1 0 11.3 0a5.65 5.65 0 1 0 -11.3 0M509.7 508.8a5.65 5.65 0 1 0 11.3 0a5.65 5.65 0 1 0 -11.3 0M510.1 495.6a5.65 5.65 0 1 0 11.3 0a5.65 5.65 0 1 0 -11.3 0M510.6 466.1a5.65 5.65 0 1 0 11.3 0a5.65 5.65 0 1 0 -11.3 0M511.6 482.5a5.65 5.65 0 1 0 11.3 0a5.65 5.65 0 1 0 -11.3 0M511.7 498.9a5.65 5.65 0 1 0 11.3 0a5.65 5.65 0 1 0 -11.3 0M515.1 489.1a5.65 5.65 0 1 0 11.3 0a5.65 5.65 0 1 0 -11.3 0M516 489.1a5.65 5.65 0 1 0 11.3 0a5.65 5.65 0 1 0 -11.3 0M517.3 479.2a5.65 5.65 0 1 0 11.3 0a5.65 5.65 0 1 0 -11.3 0M518.7 492.4a5.65 5.65 0 1 0 11.3 0a5.65 5.65 0 1 0 -11.3 0M519.6 498.9a5.65 5.65 0 1 0 11.3 0a5.65 5.65 0 1 0 -11.3 0M523.1 479.2a5.65 5.65 0 1 0 11.3 0a5.65 5.65 0 1 0 -11.3 0M524 469.3a5.65 5.65 0 1 0 11.3 0a5.65 5.65 0 1 0 -11.3 0M525.4 492.4a5.65 5.65 0 1 0 11.3 0a5.65 5.65 0 1 0 -11.3 0M531.4 492.4a5.65 5.65 0 1 0 11.3 0a5.65 5.65 0 1 0 -11.3 0M532.1 485.8a5.65 5.65 0 1 0 11.3 0a5.65 5.65 0 1 0 -11.3 0M533.8 462.8a5.65 5.65 0 1 0 11.3 0a5.65 5.65 0 1 0 -11.3 0M534.4 479.2a5.65 5.65 0 1 0 11.3 0a5.65 5.65 0 1 0 -11.3 0M537 469.3a5.65 5.65 0 1 0 11.3 0a5.65 5.65 0 1 0 -11.3 0M539.4 495.6a5.65 5.65 0 1 0 11.3 0a5.65 5.65 0 1 0 -11.3 0M539.5 492.4a5.65 5.65 0 1 0 11.3 0a5.65 5.65 0 1 0 -11.3 0M541.2 462.8a5.65 5.65 0 1 0 11.3 0a5.65 5.65 0 1 0 -11.3 0M542.3 472.6a5.65 5.65 0 1 0 11.3 0a5.65 5.65 0 1 0 -11.3 0M545.5 498.9a5.65 5.65 0 1 0 11.3 0a5.65 5.65 0 1 0 -11.3 0M545.6 495.6a5.65 5.65 0 1 0 11.3 0a5.65 5.65 0 1 0 -11.3 0M545.7 498.9a5.65 5.65 0 1 0 11.3 0a5.65 5.65 0 1 0 -11.3 0M546.1 469.3a5.65 5.65 0 1 0 11.3 0a5.65 5.65 0 1 0 -11.3 0M546.9 492.4a5.65 5.65 0 1 0 11.3 0a5.65 5.65 0 1 0 -11.3 0M547 472.6a5.65 5.65 0 1 0 11.3 0a5.65 5.65 0 1 0 -11.3 0M547.6 479.2a5.65 5.65 0 1 0 11.3 0a5.65 5.65 0 1 0 -11.3 0M548.4 482.5a5.65 5.65 0 1 0 11.3 0a5.65 5.65 0 1 0 -11.3 0M548.6 489.1a5.65 5.65 0 1 0 11.3 0a5.65 5.65 0 1 0 -11.3 0M550.8 479.2a5.65 5.65 0 1 0 11.3 0a5.65 5.65 0 1 0 -11.3 0M551.8 469.3a5.65 5.65 0 1 0 11.3 0a5.65 5.65 0 1 0 -11.3 0M551.8 469.3a5.65 5.65 0 1 0 11.3 0a5.65 5.65 0 1 0 -11.3 0M552 479.2a5.65 5.65 0 1 0 11.3 0a5.65 5.65 0 1 0 -11.3 0M553.4 475.9a5.65 5.65 0 1 0 11.3 0a5.65 5.65 0 1 0 -11.3 0M553.6 485.8a5.65 5.65 0 1 0 11.3 0a5.65 5.65 0 1 0 -11.3 0M554 495.6a5.65 5.65 0 1 0 11.3 0a5.65 5.65 0 1 0 -11.3 0M554.1 479.2a5.65 5.65 0 1 0 11.3 0a5.65 5.65 0 1 0 -11.3 0M554.4 485.8a5.65 5.65 0 1 0 11.3 0a5.65 5.65 0 1 0 -11.3 0M554.8 489.1a5.65 5.65 0 1 0 11.3 0a5.65 5.65 0 1 0 -11.3 0M555 489.1a5.65 5.65 0 1 0 11.3 0a5.65 5.65 0 1 0 -11.3 0M555.9 482.5a5.65 5.65 0 1 0 11.3 0a5.65 5.65 0 1 0 -11.3 0M557 492.4a5.65 5.65 0 1 0 11.3 0a5.65 5.65 0 1 0 -11.3 0M557 485.8a5.65 5.65 0 1 0 11.3 0a5.65 5.65 0 1 0 -11.3 0M557.3 479.2a5.65 5.65 0 1 0 11.3 0a5.65 5.65 0 1 0 -11.3 0M557.3 472.6a5.65 5.65 0 1 0 11.3 0a5.65 5.65 0 1 0 -11.3 0M558.3 498.9a5.65 5.65 0 1 0 11.3 0a5.65 5.65 0 1 0 -11.3 0M559.6 472.6a5.65 5.65 0 1 0 11.3 0a5.65 5.65 0 1 0 -11.3 0M560.5 472.6a5.65 5.65 0 1 0 11.3 0a5.65 5.65 0 1 0 -11.3 0M561.2 479.2a5.65 5.65 0 1 0 11.3 0a5.65 5.65 0 1 0 -11.3 0M561.6 508.8a5.65 5.65 0 1 0 11.3 0a5.65 5.65 0 1 0 -11.3 0M564.6 472.6a5.65 5.65 0 1 0 11.3 0a5.65 5.65 0 1 0 -11.3 0M566.1 482.5a5.65 5.65 0 1 0 11.3 0a5.65 5.65 0 1 0 -11.3 0M568.5 479.2a5.65 5.65 0 1 0 11.3 0a5.65 5.65 0 1 0 -11.3 0M570.6 485.8a5.65 5.65 0 1 0 11.3 0a5.65 5.65 0 1 0 -11.3 0M570.8 485.8a5.65 5.65 0 1 0 11.3 0a5.65 5.65 0 1 0 -11.3 0M398.1 505.5a5.65 5.65 0 1 0 11.3 0a5.65 5.65 0 1 0 -11.3 0M399 498.9a5.65 5.65 0 1 0 11.3 0a5.65 5.65 0 1 0 -11.3 0M398.3 495.6a5.65 5.65 0 1 0 11.3 0a5.65 5.65 0 1 0 -11.3 0M398.2 492.4a5.65 5.65 0 1 0 11.3 0a5.65 5.65 0 1 0 -11.3 0M398.3 489.1a5.65 5.65 0 1 0 11.3 0a5.65 5.65 0 1 0 -11.3 0M399 485.8a5.65 5.65 0 1 0 11.3 0a5.65 5.65 0 1 0 -11.3 0M398.7 482.5a5.65 5.65 0 1 0 11.3 0a5.65 5.65 0 1 0 -11.3 0M399 479.2a5.65 5.65 0 1 0 11.3 0a5.65 5.65 0 1 0 -11.3 0M399 475.9a5.65 5.65 0 1 0 11.3 0a5.65 5.65 0 1 0 -11.3 0M398.5 472.6a5.65 5.65 0 1 0 11.3 0a5.65 5.65 0 1 0 -11.3 0M398.8 469.3a5.65 5.65 0 1 0 11.3 0a5.65 5.65 0 1 0 -11.3 0M398 466.1a5.65 5.65 0 1 0 11.3 0a5.65 5.65 0 1 0 -11.3 0M398.8 462.8a5.65 5.65 0 1 0 11.3 0a5.65 5.65 0 1 0 -11.3 0M398.2 459.5a5.65 5.65 0 1 0 11.3 0a5.65 5.65 0 1 0 -11.3 0M398.3 456.2a5.65 5.65 0 1 0 11.3 0a5.65 5.65 0 1 0 -11.3 0M398.7 452.9a5.65 5.65 0 1 0 11.3 0a5.65 5.65 0 1 0 -11.3 0M398.5 449.6a5.65 5.65 0 1 0 11.3 0a5.65 5.65 0 1 0 -11.3 0M398.6 479.2a5.65 5.65 0 1 0 11.3 0a5.65 5.65 0 1 0 -11.3 0M398.3 485.8a5.65 5.65 0 1 0 11.3 0a5.65 5.65 0 1 0 -11.3 0M586 459.5a5.65 5.65 0 1 0 11.3 0a5.65 5.65 0 1 0 -11.3 0M586 462.8a5.65 5.65 0 1 0 11.3 0a5.65 5.65 0 1 0 -11.3 0M600.8 462.8a5.65 5.65 0 1 0 11.3 0a5.65 5.65 0 1 0 -11.3 0M605.1 462.8a5.65 5.65 0 1 0 11.3 0a5.65 5.65 0 1 0 -11.3 0M603 469.3a5.65 5.65 0 1 0 11.3 0a5.65 5.65 0 1 0 -11.3 0M624 469.3a5.65 5.65 0 1 0 11.3 0a5.65 5.65 0 1 0 -11.3 0M632 466.1a5.65 5.65 0 1 0 11.3 0a5.65 5.65 0 1 0 -11.3 0M629.1 472.6a5.65 5.65 0 1 0 11.3 0a5.65 5.65 0 1 0 -11.3 0M590 479.2a5.65 5.65 0 1 0 11.3 0a5.65 5.65 0 1 0 -11.3 0M596.2 482.5a5.65 5.65 0 1 0 11.3 0a5.65 5.65 0 1 0 -11.3 0M605.1 482.5a5.65 5.65 0 1 0 11.3 0a5.65 5.65 0 1 0 -11.3 0M603.4 489.1a5.65 5.65 0 1 0 11.3 0a5.65 5.65 0 1 0 -11.3 0M612.4 485.8a5.65 5.65 0 1 0 11.3 0a5.65 5.65 0 1 0 -11.3 0M616.8 490.7a5.65 5.65 0 1 0 11.3 0a5.65 5.65 0 1 0 -11.3 0M622.4 482.5a5.65 5.65 0 1 0 11.3 0a5.65 5.65 0 1 0 -11.3 0M625.8 482.5a5.65 5.65 0 1 0 11.3 0a5.65 5.65 0 1 0 -11.3 0M646.2 492.4a5.65 5.65 0 1 0 11.3 0a5.65 5.65 0 1 0 -11.3 0M555.6 525.2a5.65 5.65 0 1 0 11.3 0a5.65 5.65 0 1 0 -11.3 0M608.9 492.4a5.65 5.65 0 1 0 11.3 0a5.65 5.65 0 1 0 -11.3 0M598.9 485.8a5.65 5.65 0 1 0 11.3 0a5.65 5.65 0 1 0 -11.3 0M618.9 485.8a5.65 5.65 0 1 0 11.3 0a5.65 5.65 0 1 0 -11.3 0M390.6 462.8a5.65 5.65 0 1 0 11.3 0a5.65 5.65 0 1 0 -11.3 0M393.9 485.8a5.65 5.65 0 1 0 11.3 0a5.65 5.65 0 1 0 -11.3 0M395.4 495.6a5.65 5.65 0 1 0 11.3 0a5.65 5.65 0 1 0 -11.3 0M396.7 472.6a5.65 5.65 0 1 0 11.3 0a5.65 5.65 0 1 0 -11.3 0" fill="none" stroke="#ababab" stroke-width="1.7"/>
<path d="M78.5 479.2h0M89 482.5h0M98 479.2h0M96.1 485.8h0M112.6 472.6h0M116.2 475.9h0M112 475.9h0M114.9 472.6h0M119.3 459.5h0M122.5 485.8h0M132.1 436.5h0M131.2 439.8h0M131.7 446.3h0M150.3 452.9h0M149.4 462.8h0M154.2 466.1h0M150.3 472.6h0M149.8 475.9h0M157.6 475.9h0M159.9 479.2h0M165.7 479.2h0M166.1 482.5h0M171 459.5h0M171 475.9h0M177.8 472.6h0M165.3 495.6h0M136 495.6h0M131.9 456.2h0M131.6 459.5h0M132.4 462.8h0M131.5 466.1h0M132.2 469.3h0M131.9 472.6h0M131.5 475.9h0M132.1 479.2h0M131.4 482.5h0M132 485.8h0M131.5 489.1h0M131.5 492.4h0M132 495.6h0M135.9 459.5h0M134.8 462.8h0M135 466.1h0M135.6 472.6h0M136.1 475.9h0M135.5 479.2h0M128.3 466.1h0M128.9 469.3h0M133.9 516.9h0M129.6 505.6h0M130.2 518.9h0M132.1 514.7h0M131.4 516.2h0M133.4 513.4h0M131 499.5h0M133.3 509.5h0M132.5 522.6h0M133.5 505h0M131.2 512.5h0M130.2 517.7h0M130.8 518.1h0M132.8 494.4h0M130.8 516.9h0M131.8 525.7h0M131.4 510.3h0M131.8 512.8h0M128.6 507.7h0M134.5 510.2h0M129.2 512.7h0M132.1 511.5h0M134.5 521.7h0M129.6 517.5h0M134 526.5h0M130.2 524.9h0M133 514.9h0M129.8 510.7h0M131.9 515.5h0M129.2 510.2h0M133.1 510.2h0M131.3 498.8h0M131.2 504.9h0M132.3 516.7h0M132.1 510.1h0M133 516.2h0M130.4 510.4h0M129.7 510.8h0M130.3 512.7h0M132.6 517.7h0M131.2 515.3h0M130.6 516.9h0M131.6 507.5h0M134.1 518.2h0M132.2 493.5h0M132.6 506.7h0M131.1 505h0M133.2 519.7h0M130.1 506.5h0M131.9 511.9h0M131.7 516.2h0M133.2 522.9h0M132.1 511.8h0M131 514.6h0M131.7 511.9h0M132.3 513.9h0M134 511h0M131.8 495.9h0M130.9 510.6h0M130 514.6h0M134.1 511.2h0M132.9 511.7h0M134.6 502.7h0M131.7 493.8h0M131.8 516.1h0M130.7 519.1h0M132.3 511.3h0M131.5 514.9h0M131.9 511.5h0M130.3 515.5h0M135.1 497.5h0M131.8 520.3h0M133.5 520.3h0M133.2 500.9h0M130.5 518.3h0M129.5 499.1h0M131.1 516.7h0M127.8 509.1h0M131.9 508.2h0M131.4 497.3h0M131.9 511h0M132.9 510.2h0M132.9 508.1h0M129.4 523.8h0M131.8 515.7h0M131.1 518.8h0M130.5 515.4h0M133.1 514h0M132.2 509.8h0M129.8 499.8h0M131.9 502.6h0M134.4 508.5h0M131.5 519.9h0M128.7 511.7h0M132.4 508.2h0M131.7 503.3h0M130.2 497.1h0M134.1 520.2h0M132.3 499h0M133.5 517.6h0M132.9 491.4h0M134.1 492.6h0M134.3 504.9h0M131.7 510.9h0M132.2 508.8h0M130.4 518.9h0M133.7 501.5h0M132.6 494.8h0M131.7 515h0M134 509.2h0M132.1 515.6h0M132.9 502.6h0M132.1 513.6h0M131.5 520.4h0M132.5 506.9h0M131.4 517.5h0M129.8 525.5h0M131.5 521.1h0M134.3 525h0M132.9 496.7h0M132.5 524.5h0M132.7 502h0M133.9 519.5h0M131.9 503.2h0M129.7 500.2h0M131.1 508.9h0M132.5 512.1h0M132.9 514.4h0M130.3 511.9h0M134.4 511.5h0M132.5 496.4h0M132.1 511.6h0M133 491.9h0M131 516h0M130.4 515.8h0M135 519.2h0M131 517h0M135.4 520.4h0M131.7 510.5h0M131.4 519.9h0M133.2 523h0M129.9 515.5h0M132.3 517.3h0M132.7 519.3h0M132.3 519.7h0M132 508.8h0M129.5 492h0M133.9 515.1h0M132.9 510.9h0M135 511.2h0M132.3 528.5h0M132.3 525.2h0M132.3 521.9h0M87.7 495.3h0M79.4 511h0M83.6 513h0M87.7 509.5h0M87.7 514.3h0M76.5 517.2h0M81.3 522.9h0M88.6 524.5h0M79 530.2h0M97.1 501.8h0M98.2 505.7h0M100.9 519.1h0M96.3 522.2h0M107.2 484.6h0M113 488.4h0M113 498.6h0M113.9 503.4h0M116.8 483.3h0M116.8 504.3h0M118.7 509.1h0M122.5 492.5h0M122.5 501.5h0M107.2 511h0M107.2 515.3h0M113 517.2h0M108.2 522.2h0M110.5 522.2h0M113.5 525.4h0M123.5 522.2h0M123.5 511.6h0M126.4 506.6h0M128.3 511.6h0M125.4 496.1h0M91.9 510.1h0M92.8 519.7h0M104 508.6h0M102.4 515.8h0M120.1 519.7h0M117.8 515.3h0M124.5 515.8h0M127 518.7h0M127.7 502.4h0M73.7 514.9h0M85.2 519.7h0M158.9 506.5h0M152.4 509.7h0M158.3 516h0M153.4 518h0M150.9 512.6h0M154 509.7h0M175.9 505.5h0M157 509.3h0M156.3 501.9h0M159.4 505.4h0M149.2 497.3h0M145.8 510.2h0M162.9 514.7h0M162.4 489.6h0M155.4 501.5h0M151.7 515.6h0M143.7 504.5h0M148.6 490.5h0M163.9 506.9h0M147.4 517.6h0M165.1 487.2h0M161.9 517.4h0M150.4 509h0M154.3 514.5h0M147.4 504.9h0M148.7 506.8h0M158.5 504.1h0M149.8 519.2h0M160.9 486.6h0M160.3 498.1h0M149.8 504.1h0M166 516.8h0M147.3 508.4h0M167.3 485.6h0M160.8 525.8h0M160.7 516h0M155.7 511.5h0M163.4 505.7h0M151.6 512.6h0M160.7 500.8h0M150.8 508.7h0M158 503h0M159.6 497.5h0M157.2 490.7h0M154.8 507.3h0M139.3 511.9h0M172 522.4h0M151.6 516.3h0M175.2 511.9h0M154.7 508.4h0M152.6 512.9h0M185.3 522.7h0M157 512.1h0M162.3 511.2h0M153.2 484.6h0M146.3 507.5h0M178.2 499.5h0M150.7 510.8h0M146.2 518.6h0M145.3 509.2h0M148.2 503.9h0M173.8 513.7h0M181.6 520.3h0M153.3 510.8h0M150.6 519.8h0M158.5 514.3h0M152.3 507h0M146.3 500.7h0M154.8 491.9h0M160.2 486.9h0M146.5 501.1h0M151.9 485.8h0M153.6 526.2h0M138.6 497.9h0M173.5 513.6h0M147.4 524.9h0M157.6 514h0M161.1 509.9h0M149.5 502.7h0M142.2 515.3h0M159.9 510.6h0M152 494.7h0M162.5 487.7h0M156.6 505.7h0M183.4 509.4h0M162 513.4h0M159.6 507.6h0M177 516.7h0M153.3 508h0M156.5 493.4h0M153.7 521.9h0M158.2 484.8h0M160.7 511.2h0M147.5 499.7h0M151 521.9h0M162.2 535.1h0M78.9 530.2h0M188.6 485.8h0M197.6 489.1h0M192.5 495.6h0M196.9 502.2h0M194.8 518.7h0M219.3 479.2h0M218.7 489.1h0M226.6 459.5h0M237.7 443.1h0M239.4 469.3h0M240 475.9h0M258.2 452.9h0M255.7 459.5h0M276.2 495.6h0M273 505.5h0M285 485.8h0M289.6 479.2h0M290.2 466.1h0M297.3 456.2h0M190 476h0M188.6 476.9h0M182.9 501.5h0M184.2 503.8h0M181.9 509.1h0M184.2 513h0M184.2 514.9h0M188.6 513h0M191.5 514.9h0M194.4 518.7h0M195.7 517.2h0M196.3 506.3h0M196.3 510.1h0M200.7 511h0M199.6 514.5h0M201.5 515.3h0M206.3 503.4h0M206.3 505.9h0M217.4 492.5h0M217.4 502.8h0M215.1 513.5h0M216.4 520.1h0M220.8 524.5h0M226 510.5h0M226 513h0M226 519.7h0M239.4 481h0M238.1 492.8h0M237.5 495.1h0M233.7 502h0M235.6 510.1h0M238.1 506.3h0M239.4 508.6h0M242.3 504.3h0M241.7 507.2h0M242.9 509.5h0M239.4 513.5h0M241 513.5h0M241.3 517.8h0M241 521.6h0M241 524.5h0M250.5 503h0M253.4 517.8h0M255.7 517.8h0M255.7 528.3h0M276.2 471.8h0M276.4 478.8h0M276.4 523.1h0M285.4 505.3h0M285 523.1h0M287 494.8h0M290.6 490.9h0M290.2 500.5h0M289.6 526.8h0M297.3 529.3h0M291 466.1h0M290 479.2h0M297.7 456.2h0M309.6 459.5h0M307.6 462.8h0M324.9 456.2h0M308.8 479.2h0M305.9 485.8h0M305 502.2h0M319.7 495.6h0M337 475.9h0M337 492.4h0M341.8 492.4h0M351 472.6h0M354.2 472.6h0M351.7 479.2h0M351 482.5h0M360.5 479.2h0M360 482.5h0M365.1 482.5h0M379.7 482.5h0M380.1 485.8h0M385.8 489.1h0M366.7 495.6h0M373.8 492.4h0M387.8 498.9h0M396.4 462.8h0M291 490.9h0M291 500.5h0M310.7 501.5h0M306.3 503.4h0M320.3 502h0M307.6 514.5h0M309.6 514.9h0M299.6 522.2h0M309.6 525h0M290 526.4h0M297.7 529.3h0M304.4 528.7h0M309.2 529.3h0M324.1 517.8h0M326.4 531.2h0M316.8 540h0M333.7 500.1h0M338.3 498.6h0M337.3 508.2h0M341.8 509.5h0M346 518.7h0M351 468.9h0M351 472.7h0M352.3 476.5h0M351.3 489h0M350.4 491.9h0M351 494.8h0M349.4 498.6h0M354.2 498.6h0M351 501.5h0M351.3 503.4h0M354.2 504.3h0M348.5 507.2h0M352.3 507.2h0M354.2 507.2h0M351.7 512.4h0M351.7 514.9h0M360.5 470.2h0M363.8 499.2h0M366.3 495.7h0M367.6 508.6h0M374.3 508.6h0M375.7 508.6h0M377.2 497.2h0M380.1 515.8h0M386.8 510.7h0M365.7 524.5h0M368.2 527.9h0M365.7 529.6h0M400.8 496.7h0M409.6 354.3h0M405 370.7h0M409.6 377.3h0M409.6 397h0M409.6 410.2h0M412 416.8h0M431.6 416.8h0M419.7 420h0M419.2 423.3h0M409.3 423.3h0M409.5 426.6h0M413 429.9h0M417.8 429.9h0M421.6 429.9h0M428.3 436.5h0M409.6 433.2h0M409.6 436.5h0M438.9 446.3h0M451.3 449.6h0M449.5 449.6h0M493.9 439.8h0M549.8 426.6h0M560 446.3h0M559.2 456.2h0M440.8 541.7h0M132.5 387.2h0M403.8 531.3h0M403.9 528.3h0M403.9 523.7h0M404 496.6h0M404.1 502.2h0M404.2 506.9h0M404.2 516.9h0M404.3 494.4h0M404.4 502.6h0M404.5 498h0M404.5 500.7h0M404.6 485.1h0M404.8 505.2h0M404.9 493.3h0M405.1 515.6h0M405.3 469.3h0M405.4 512.4h0M405.5 525.7h0M405.6 501.6h0M405.6 495h0M405.7 492.4h0M406 475.9h0M406.2 499.1h0M406.3 466.1h0M406.4 507.3h0M406.5 495.6h0M406.5 500.6h0M406.6 501.2h0M406.7 516.9h0M406.8 492.4h0M406.8 501.1h0M406.9 495.6h0M406.9 497.7h0M407.2 519.1h0M407.3 525.2h0M407.6 517.8h0M407.8 504.2h0M407.8 492.4h0M407.9 485.8h0M408 492.4h0M408 498.4h0M408.1 472.6h0M408.1 519h0M408.2 489.9h0M408.3 519.9h0M408.6 520h0M408.7 472.6h0M408.8 500.1h0M408.8 511.7h0M408.8 512.2h0M408.8 472.6h0M408.8 484.6h0M408.9 523.3h0M408.9 514.2h0M408.9 496h0M408.9 516.7h0M408.9 497.7h0M408.9 504.7h0M408.9 484.1h0M409 475.9h0M409 534h0M409 493.5h0M409 500.6h0M409 504.3h0M409 498.2h0M409 515.8h0M409 503.9h0M409.1 490.4h0M409.1 482.5h0M409.1 489.1h0M409.1 485.1h0M409.1 479.2h0M409.1 492.2h0M409.1 510.9h0M409.1 500.9h0M409.2 507h0M409.2 488.5h0M409.2 496.2h0M409.2 521.6h0M409.2 511.4h0M409.2 506.8h0M409.3 475.9h0M409.3 516.6h0M409.3 482.5h0M409.3 482.5h0M409.3 509.6h0M409.3 502.2h0M409.3 529h0M409.4 504.5h0M409.4 484.3h0M409.4 516.2h0M409.4 513.4h0M409.4 472.6h0M409.4 482.7h0M409.4 520.8h0M409.5 508.4h0M409.5 472.6h0M409.5 507h0M409.5 513.8h0M409.5 515.2h0M409.5 514h0M409.5 504.1h0M409.6 512.7h0M409.6 475.9h0M409.6 519.2h0M409.6 512.3h0M409.6 495.3h0M409.6 508.1h0M409.7 513.3h0M409.7 509.1h0M409.7 515.6h0M409.7 466.1h0M409.7 509.1h0M409.7 479.2h0M409.7 521.5h0M409.8 513.9h0M409.8 507.8h0M409.8 507.7h0M409.8 479.2h0M409.8 503.9h0M409.8 528.7h0M409.8 475.9h0M409.8 484.3h0M409.9 472.6h0M409.9 485h0M409.9 512.5h0M409.9 500.5h0M409.9 517.5h0M409.9 484.2h0M410 521.9h0M410 482.6h0M410 515.6h0M410 504.1h0M410 496.8h0M410 509.5h0M410 519.5h0M410.1 503.4h0M410.1 482.5h0M410.1 512h0M410.1 512.6h0M410.1 501.1h0M410.1 512.8h0M410.1 529.9h0M410.1 496.9h0M410.2 485.8h0M410.2 492.4h0M410.2 501.9h0M410.2 500.3h0M410.2 491.2h0M410.2 508.5h0M410.2 504.9h0M410.2 479.2h0M410.3 475.8h0M410.3 490.4h0M410.3 482.5h0M410.3 513.6h0M410.3 475.9h0M410.3 528.4h0M410.3 521.4h0M410.4 532.6h0M410.4 489.2h0M410.4 479.2h0M410.4 495.4h0M410.4 518.6h0M410.4 482.5h0M410.4 507.5h0M410.5 511.2h0M410.5 508.7h0M410.5 506.8h0M410.5 469.3h0M410.5 499.2h0M410.5 508.1h0M410.5 525.6h0M410.6 503.7h0M410.6 469.3h0M410.6 492.4h0M410.6 515h0M410.6 475.9h0M410.6 492.4h0M410.7 492.4h0M410.7 501.3h0M410.7 520.9h0M410.7 510.1h0M410.7 521.5h0M410.7 516.7h0M410.7 502.4h0M410.8 522.5h0M410.8 518h0M410.8 513.2h0M410.8 495.6h0M410.8 500.6h0M410.8 513.1h0M410.8 501.1h0M410.9 508.4h0M410.9 490.4h0M410.9 466.1h0M410.9 485.8h0M410.9 513h0M410.9 475.9h0M410.9 511.1h0M411 514.6h0M411 479.2h0M411 483.6h0M411 512.1h0M411 485h0M411 502.3h0M411 452.9h0M411.1 509.3h0M411.1 512.2h0M411.1 482.5h0M411.1 494.7h0M411.1 501.4h0M411.1 485.8h0M411.1 518.5h0M411.2 485.8h0M411.2 506.6h0M411.2 515h0M411.2 482.5h0M411.2 456.2h0M411.2 489.7h0M411.3 508.6h0M411.3 486.1h0M411.3 475.9h0M411.3 495.6h0M411.3 482.5h0M411.3 507.7h0M411.4 512h0M411.4 502.5h0M411.4 482.5h0M411.4 529.5h0M411.4 485.8h0M411.4 498h0M411.4 495.5h0M411.5 472.6h0M411.5 494.8h0M411.5 509.9h0M411.5 508.7h0M411.5 485.8h0M411.5 516h0M411.6 511.5h0M411.6 475.9h0M411.6 496.3h0M411.6 522.5h0M411.6 503.2h0M411.6 472.6h0M411.7 501.7h0M411.7 505.3h0M411.7 505.6h0M411.7 510.5h0M411.7 525.8h0M411.7 519h0M411.8 508.6h0M411.8 475.9h0M411.8 489.1h0M411.8 491.8h0M411.8 484.9h0M411.8 494h0M411.9 520.8h0M411.9 489.1h0M411.9 495.9h0M411.9 505.7h0M411.9 492.4h0M411.9 479.2h0M412 498.6h0M412 513.9h0M412 482.5h0M412 520.5h0M412 520.4h0M412 496.9h0M412.1 485.8h0M412.1 490.9h0M412.1 466.1h0M412.1 504.2h0M412.1 485.8h0M412.1 510.8h0M412.1 512.4h0M412.2 500h0M412.2 495.7h0M412.2 466.1h0M412.2 515.2h0M412.2 498.9h0M412.2 490.1h0M412.2 521.7h0M412.3 501.7h0M412.3 523.8h0M412.3 504.4h0M412.3 514.8h0M412.3 513h0M412.3 499.8h0M412.3 496.6h0M412.4 517.6h0M412.4 518.7h0M412.4 523.8h0M412.4 485.8h0M412.4 506.1h0M412.4 528h0M412.5 491h0M412.5 486.1h0M412.5 506.7h0M412.5 508.3h0M412.5 479.2h0M412.5 514.8h0M412.6 505.4h0M412.6 528.7h0M412.6 514.2h0M412.6 504.9h0M412.6 518.8h0M412.6 479.2h0M412.7 507.8h0M412.7 506.5h0M412.7 507.6h0M412.7 508h0M412.7 493.1h0M412.7 479.2h0M412.8 515.6h0M412.8 502.7h0M412.8 494.4h0M412.8 475.9h0M412.8 498.9h0M412.8 526.1h0M412.9 489.6h0M412.9 524.3h0M412.9 485.8h0M412.9 479.2h0M412.9 513.8h0M412.9 495h0M413 503.8h0M413 513.9h0M413 479.2h0M413 446.3h0M413 479.2h0M413 503.1h0M413.1 492.4h0M413.1 513.4h0M413.1 491.6h0M413.1 446.3h0M413.1 502.2h0M413.1 501.3h0M413.2 511.8h0M413.2 494.9h0M413.2 482.5h0M413.2 485.8h0M413.2 501.6h0M413.2 502.4h0M413.3 511.9h0M413.3 507.1h0M413.3 494.9h0M413.3 510.2h0M413.3 516.4h0M413.3 511.5h0M413.4 485.6h0M413.4 499.3h0M413.4 514.3h0M413.4 489.1h0M413.4 489.1h0M413.4 502.6h0M413.5 495.3h0M413.5 515.5h0M413.5 496h0M413.5 514.7h0M413.5 485.8h0M413.5 498.3h0M413.6 499h0M413.6 505.9h0M413.6 506.2h0M413.6 495.6h0M413.6 523.6h0M413.6 489.1h0M413.7 504.1h0M413.7 466.1h0M413.7 506.6h0M413.7 485.8h0M413.7 496.5h0M413.7 490.5h0M413.8 472.6h0M413.8 523.8h0M413.8 510.7h0M413.8 495.3h0M413.8 532.5h0M413.8 517.9h0M413.9 502.9h0M413.9 507.4h0M413.9 498.9h0M413.9 517.6h0M413.9 513.8h0M413.9 479.2h0M414 513.1h0M414 469.3h0M414 489.6h0M414 510.7h0M414 507.8h0M414 500.3h0M414.1 488.8h0M414.1 509.8h0M414.1 500.1h0M414.1 479.2h0M414.1 479.2h0M414.1 516h0M414.2 515.7h0M414.2 518.3h0M414.2 495.9h0M414.2 531.1h0M414.2 494.5h0M414.2 493.3h0M414.3 508.2h0M414.3 499.1h0M414.3 511.5h0M414.3 489.1h0M414.3 518.7h0M414.3 475.9h0M414.4 516.8h0M414.4 495.2h0M414.4 507.1h0M414.4 512h0M414.4 512.4h0M414.4 512.9h0M414.5 472.6h0M414.5 502.9h0M414.5 522h0M414.5 456.2h0M414.5 525.4h0M414.5 502.6h0M414.6 497.5h0M414.6 497.5h0M414.6 493.8h0M414.6 521.4h0M414.6 494h0M414.7 514.6h0M414.7 489.1h0M414.7 493.8h0M414.7 487.5h0M414.7 495.3h0M414.7 519.7h0M414.8 508.5h0M414.8 525.4h0M414.8 524.7h0M414.8 502.9h0M414.8 503.9h0M414.8 505.1h0M414.9 482.5h0M414.9 510.3h0M414.9 520.7h0M414.9 479.2h0M415 485.8h0M415 523h0M415 498.9h0M415 502.7h0M415 493.3h0M415 485.8h0M415.1 495.2h0M415.1 504.3h0M415.1 513.5h0M415.1 511.4h0M415.1 526.7h0M415.2 499.6h0M415.2 490.7h0M415.2 493.1h0M415.2 475.9h0M415.2 522.1h0M415.3 502.8h0M415.3 472.6h0M415.3 495h0M415.3 456.2h0M415.3 505.5h0M415.4 490.2h0M415.4 530h0M415.4 509h0M415.4 491.2h0M415.4 479.2h0M415.5 479.2h0M415.5 503.6h0M415.5 492.4h0M415.5 509.9h0M415.5 496.8h0M415.6 504.6h0M415.6 510.2h0M415.6 517h0M415.6 485.8h0M415.6 492.4h0M415.7 489.1h0M415.7 498.9h0M415.7 509.5h0M415.7 499.7h0M415.7 515.2h0M415.8 479.2h0M415.8 485.8h0M415.8 482h0M415.8 482.5h0M415.8 489.1h0M415.9 499.1h0M415.9 519.1h0M415.9 462.8h0M415.9 498.9h0M415.9 486.7h0M416 482.5h0M416 496.3h0M416 493.7h0M416 515.6h0M416 518.8h0M416.1 516.6h0M416.1 506.1h0M416.1 518.7h0M416.1 491.2h0M416.1 459.5h0M416.2 513h0M416.2 492.4h0M416.2 475.9h0M416.2 517.1h0M416.2 506.6h0M416.3 511.6h0M416.3 486.1h0M416.3 508.4h0M416.3 521.3h0M416.3 516.4h0M416.3 482.3h0M416.4 504h0M416.4 485.8h0M416.4 508.9h0M416.4 498.9h0M416.4 507.4h0M416.5 501.2h0M416.5 494.6h0M416.5 524.6h0M416.5 502.1h0M416.6 508.2h0M416.6 496.5h0M416.6 529.5h0M416.6 517.7h0M416.6 513.1h0M416.7 485.8h0M416.7 506.7h0M416.7 489.1h0M416.7 510.7h0M416.8 507.4h0M416.8 532.3h0M416.8 529h0M416.8 513.1h0M416.8 514.3h0M416.9 482h0M416.9 504.6h0M416.9 479.2h0M416.9 527.5h0M416.9 479.2h0M416.9 511.5h0M417 527.4h0M417 518.8h0M417 482.5h0M417 512.2h0M417 517.3h0M417 494.7h0M417.1 489.4h0M417.1 500.7h0M417.1 495.6h0M417.1 481.6h0M417.1 521.3h0M417.2 494.2h0M417.2 484.2h0M417.2 495.6h0M417.2 491.7h0M417.2 515.1h0M417.3 466.1h0M417.3 521.3h0M417.3 484.2h0M417.3 525.3h0M417.4 492.4h0M417.4 521h0M417.4 485.8h0M417.4 495.6h0M417.4 520.2h0M417.4 516.3h0M417.5 485.7h0M417.5 505.5h0M417.5 469.3h0M417.5 485.8h0M417.5 485.8h0M417.6 490.8h0M417.6 507h0M417.6 513.3h0M417.6 482.5h0M417.6 515.6h0M417.7 500.6h0M417.7 512.6h0M417.7 531.9h0M417.7 513.8h0M417.7 482.5h0M417.7 495.6h0M417.8 483.5h0M417.8 493.2h0M417.8 516.8h0M417.8 486.5h0M417.8 495.6h0M417.8 514.2h0M417.9 479.2h0M417.9 521.5h0M417.9 500.8h0M417.9 520.4h0M417.9 485.8h0M418 503.2h0M418 521.2h0M418 507.3h0M418 520h0M418.1 499.8h0M418.1 490.3h0M418.1 505.7h0M418.1 485.8h0M418.1 503.5h0M418.2 469.3h0M418.2 469.3h0M418.2 508.2h0M418.2 472.6h0M418.2 522.5h0M418.3 508.2h0M418.3 493.6h0M418.3 482.5h0M418.3 498.4h0M418.3 509.7h0M418.3 472.6h0M418.4 501.9h0M418.4 513.9h0M418.4 505h0M418.4 498.8h0M418.4 506.7h0M418.4 498.3h0M418.5 493.2h0M418.5 492.4h0M418.5 518.7h0M418.5 472.6h0M418.5 510.9h0M418.6 503.4h0M418.6 501.2h0M418.6 503.7h0M418.6 492.4h0M418.6 521.1h0M418.7 510.1h0M418.7 514h0M418.7 501.6h0M418.7 519.9h0M418.7 492.4h0M418.8 515.9h0M418.8 494.1h0M418.8 475.9h0M418.8 493.4h0M418.8 526.5h0M418.9 511h0M418.9 521.1h0M418.9 512.2h0M418.9 522.9h0M418.9 504.8h0M418.9 490.4h0M419 521.9h0M419 485.8h0M419 505.4h0M419 507.7h0M419 492.4h0M419.1 485.8h0M419.1 499.1h0M419.1 497.7h0M419.1 485.8h0M419.1 485.7h0M419.1 523.8h0M419.2 516.3h0M419.2 462.8h0M419.2 491.1h0M419.2 496.5h0M419.2 469.3h0M419.3 523.3h0M419.3 508.1h0M419.3 489.5h0M419.3 509.2h0M419.3 502.5h0M419.4 512.7h0M419.4 485.8h0M419.4 493.9h0M419.4 509.5h0M419.4 523.6h0M419.4 497.8h0M419.5 523.3h0M419.5 492.4h0M419.5 522.1h0M419.5 489.1h0M419.5 516.6h0M419.5 509.4h0M419.6 519h0M419.6 516.1h0M419.6 526.3h0M419.6 522.9h0M419.6 469.3h0M419.6 502.2h0M419.7 509.4h0M419.7 507.6h0M419.7 516h0M419.7 490.8h0M419.7 497.7h0M419.7 514.3h0M419.8 507.2h0M419.8 479.2h0M419.8 495.8h0M419.8 489.1h0M419.8 479.2h0M419.8 520.7h0M419.8 508.5h0M419.8 485.8h0M419.9 475.9h0M419.9 507.8h0M419.9 529.2h0M419.9 505.5h0M419.9 512.4h0M419.9 504.6h0M420 510.8h0M420 500.2h0M420 504.8h0M420 462.8h0M420 503.8h0M420 469.3h0M420.1 507.7h0M420.1 489.1h0M420.1 506.3h0M420.1 510.4h0M420.1 513.2h0M420.1 516.9h0M420.2 520h0M420.2 524h0M420.2 541.3h0M420.2 491.6h0M420.2 525.7h0M420.2 504h0M420.2 507.5h0M420.2 472.6h0M420.3 482.5h0M420.3 479.2h0M420.3 505.1h0M420.3 506.8h0M420.3 519.8h0M420.3 503.9h0M420.3 492h0M420.3 452.9h0M420.4 479.2h0M420.4 504.9h0M420.4 510.8h0M420.4 479.2h0M420.4 522.6h0M420.4 489.4h0M420.4 505.5h0M420.4 502.7h0M420.5 518.7h0M420.5 494.5h0M420.5 502.4h0M420.5 495.1h0M420.5 489.1h0M420.5 512h0M420.5 498.1h0M420.5 496.3h0M420.6 506.8h0M420.6 505.5h0M420.6 526.5h0M420.6 508.3h0M420.6 520.5h0M420.6 494.7h0M420.6 514.2h0M420.6 495.6h0M420.6 498.1h0M420.6 519.1h0M420.7 469.3h0M420.7 502.2h0M420.7 502.8h0M420.7 493.9h0M420.7 509.8h0M420.7 494.9h0M420.7 469.3h0M420.7 526.1h0M420.7 462.8h0M420.7 472.6h0M420.8 503.8h0M420.8 528h0M420.8 496.8h0M420.8 489.1h0M420.8 508.4h0M420.8 496.5h0M420.8 531.8h0M420.8 521.9h0M420.8 469.3h0M420.8 500.8h0M420.9 522h0M420.9 516.4h0M420.9 503.3h0M420.9 506.8h0M420.9 486.7h0M420.9 510.1h0M420.9 490.9h0M420.9 515.8h0M420.9 525.1h0M420.9 462.8h0M420.9 511.5h0M421 512.4h0M421 507.4h0M421 493.5h0M421 509.1h0M421 494.6h0M421 466.1h0M421 482.5h0M421 512.3h0M421 469.3h0M421 517.5h0M421.1 500.8h0M421.1 496.5h0M421.1 505.3h0M421.1 510.7h0M421.1 507.4h0M421.1 466.1h0M421.1 517.5h0M421.1 525.7h0M421.1 462.8h0M421.1 522h0M421.1 492.4h0M421.1 517h0M421.2 505.5h0M421.2 510.4h0M421.2 513.6h0M421.2 496.8h0M421.2 511.2h0M421.2 492.4h0M421.2 522.4h0M421.2 513.3h0M421.2 496.1h0M421.2 475.9h0M421.2 503.9h0M421.2 476.3h0M421.3 503.6h0M421.3 504.1h0M421.3 512.1h0M421.3 511.4h0M421.3 507.5h0M421.3 472.6h0M421.3 479.2h0M421.3 500.8h0M421.3 462.8h0M421.3 492.4h0M421.3 512.1h0M421.4 469.3h0M421.4 475.9h0M421.4 494.6h0M421.4 516.2h0M421.4 498.6h0M421.4 481.8h0M421.4 469.3h0M421.4 506.4h0M421.4 508.3h0M421.4 462.8h0M421.4 525.9h0M421.5 528h0M421.5 506.2h0M421.5 505.5h0M421.5 508h0M421.5 472.6h0M421.5 482.5h0M421.5 475.9h0M421.5 507.7h0M421.5 484.4h0M421.5 482.5h0M421.6 506.1h0M421.6 507.2h0M421.6 516.9h0M421.6 502.3h0M421.6 510.8h0M421.6 528.2h0M421.6 517.1h0M421.6 512.8h0M421.6 472.6h0M421.6 498.4h0M421.6 479.2h0M421.7 493h0M421.7 522.4h0M421.7 513.9h0M421.7 494h0M421.7 495.6h0M421.7 503.4h0M421.7 508.4h0M421.7 485.8h0M421.7 507.8h0M421.7 510.1h0M421.8 522.7h0M421.8 503.3h0M421.8 495.6h0M421.8 488.9h0M421.8 516.8h0M421.8 495.1h0M421.8 482.5h0M421.8 488.5h0M421.8 518.7h0M421.8 475.9h0M421.8 511.8h0M421.9 487.9h0M421.9 475.9h0M421.9 498.6h0M421.9 490.5h0M421.9 506.8h0M421.9 462.8h0M421.9 519.7h0M421.9 521.5h0M421.9 510.2h0M421.9 514.6h0M422 505h0M422 492.4h0M422 479.2h0M422 492.4h0M422 479.2h0M422 522.4h0M422 509.6h0M422 518.6h0M422 495.6h0M422 524.4h0M422.1 482.5h0M422.1 515.3h0M422.1 530.6h0M422.1 528h0M422.1 469.3h0M422.1 515.2h0M422.1 485.8h0M422.1 506.2h0M422.1 489.3h0M422.1 519.4h0M422.2 508.3h0M422.2 510.8h0M422.2 506.4h0M422.2 506.4h0M422.2 502.6h0M422.2 514.8h0M422.2 519.1h0M422.2 513.6h0M422.2 492.4h0M422.3 510.7h0M422.3 499.5h0M422.3 503.8h0M422.3 498h0M422.3 525.9h0M422.3 526.9h0M422.3 506.1h0M422.3 504.6h0M422.3 505.8h0M422.3 524.1h0M422.4 472.6h0M422.4 472.6h0M422.4 524.7h0M422.4 501.8h0M422.4 472.6h0M422.4 475.9h0M422.4 515.6h0M422.4 504.8h0M422.4 512.6h0M422.5 510.1h0M422.5 525h0M422.5 469.3h0M422.5 503.9h0M422.5 492.4h0M422.5 497.8h0M422.5 518.4h0M422.5 466.1h0M422.5 498.8h0M422.6 511.5h0M422.6 517.4h0M422.6 472.6h0M422.6 504.4h0M422.6 520.7h0M422.6 505.5h0M422.6 462.8h0M422.6 475.9h0M422.7 482.5h0M422.7 489.8h0M422.7 508.6h0M422.7 525.3h0M422.7 501.5h0M422.7 509.7h0M422.7 512.3h0M422.7 521.4h0M422.7 479.2h0M422.7 522.5h0M422.8 499.1h0M422.8 506.3h0M422.8 482.5h0M422.8 491.7h0M422.8 539.1h0M422.8 496.6h0M422.8 518.4h0M422.8 493.1h0M422.9 462.8h0M422.9 516h0M422.9 518.4h0M422.9 506.6h0M422.9 510.9h0M422.9 520.7h0M422.9 507.1h0M422.9 523.5h0M423 520.5h0M423 495.3h0M423 488.2h0M423 520.8h0M423 522.8h0M423 529.4h0M423 505.5h0M423 502.6h0M423 510.5h0M423.1 499.7h0M423.1 508.5h0M423.1 528.6h0M423.1 503.9h0M423.1 475.9h0M423.1 504.5h0M423.1 479.2h0M423.1 494.7h0M423.2 485.8h0M423.2 484.8h0M423.2 522.7h0M423.2 519.5h0M423.2 522.9h0M423.2 475.9h0M423.2 508h0M423.3 513.5h0M423.3 493.8h0M423.3 482.9h0M423.3 505.2h0M423.3 475.9h0M423.3 516.4h0M423.3 516.7h0M423.4 510.2h0M423.4 511.1h0M423.4 485.8h0M423.4 506.8h0M423.4 528.9h0M423.4 525.1h0M423.4 485.8h0M423.5 506.2h0M423.5 523.1h0M423.5 492h0M423.5 508.9h0M423.5 494.4h0M423.5 479.2h0M423.5 482.5h0M423.5 452.9h0M423.6 522h0M423.6 516.7h0M423.6 489.1h0M423.6 509.8h0M423.6 472.6h0M423.6 507h0M423.6 516.3h0M423.7 488.5h0M423.7 493.9h0M423.7 514.4h0M423.7 508.8h0M423.7 518.7h0M423.7 512.9h0M423.8 498.9h0M423.8 497.8h0M423.8 459.5h0M423.8 525.8h0M423.8 510.4h0M423.8 521.1h0M423.9 501.9h0M423.9 521.2h0M423.9 496.8h0M423.9 498.6h0M423.9 506.1h0M423.9 527.8h0M424 495.4h0M424 508.3h0M424 485.8h0M424 497.1h0M424 509.2h0M424 489.1h0M424.1 492.4h0M424.1 515.2h0M424.1 491.7h0M424.1 469.3h0M424.1 526.5h0M424.1 472.6h0M424.1 498h0M424.2 499.7h0M424.2 482.4h0M424.2 507.3h0M424.2 523.1h0M424.2 500.9h0M424.2 479.2h0M424.3 469.3h0M424.3 479.2h0M424.3 526.7h0M424.3 502h0M424.3 518.3h0M424.4 509h0M424.4 502.8h0M424.4 469.3h0M424.4 526.2h0M424.4 516.6h0M424.4 511.7h0M424.5 524h0M424.5 502.6h0M424.5 493.4h0M424.5 535.4h0M424.5 469.3h0M424.5 511.7h0M424.6 485.8h0M424.6 533.1h0M424.6 516.1h0M424.6 499h0M424.6 489.2h0M424.7 508h0M424.7 510.7h0M424.7 522.8h0M424.7 469.3h0M424.8 459.5h0M424.8 502.2h0M424.8 510h0M424.8 505.5h0M424.9 493.4h0M424.9 501.1h0M424.9 485.8h0M424.9 529.8h0M424.9 508.1h0M425 489.2h0M425 495.4h0M425 513.5h0M425 466.1h0M425.1 522.7h0M425.1 510.7h0M425.1 524.2h0M425.1 510.9h0M425.1 516.1h0M425.1 496.4h0M425.2 488.3h0M425.2 472.6h0M425.2 466.1h0M425.2 469.3h0M425.3 507.7h0M425.3 514.9h0M425.3 516.3h0M425.3 510.6h0M425.3 492.3h0M425.4 501.7h0M425.4 503h0M425.4 504.5h0M425.4 507.5h0M425.5 505.9h0M425.5 484.3h0M425.5 522h0M425.5 499.8h0M425.5 490.8h0M425.6 528.5h0M425.6 530.1h0M425.6 502h0M425.6 509.7h0M425.7 462.8h0M425.7 482.5h0M425.7 492.6h0M425.7 485.3h0M425.8 516.5h0M425.8 514.6h0M425.8 479.2h0M425.8 485.8h0M425.9 492.8h0M425.9 475.9h0M425.9 506.7h0M425.9 489.1h0M426 505.5h0M426 491.8h0M426 507.1h0M426 528.4h0M426.1 479.2h0M426.1 523h0M426.1 525.3h0M426.1 504.1h0M426.2 511h0M426.2 529.2h0M426.2 492.4h0M426.2 529.6h0M426.2 525.6h0M426.3 522.5h0M426.3 472.6h0M426.3 515.6h0M426.3 479.2h0M426.4 501.9h0M426.4 516.5h0M426.4 513.1h0M426.4 515.5h0M426.5 508.5h0M426.5 493.7h0M426.5 479.2h0M426.5 508.1h0M426.6 512.3h0M426.6 479.2h0M426.6 490.6h0M426.6 510.5h0M426.7 507.9h0M426.7 495.6h0M426.7 515.4h0M426.7 511.5h0M426.8 482.5h0M426.8 526.7h0M426.8 496.7h0M426.8 484.6h0M426.9 514.2h0M426.9 507.9h0M426.9 508.9h0M426.9 479.2h0M427 512.1h0M427 475.9h0M427 489.1h0M427 517h0M427.1 501.5h0M427.1 482.5h0M427.1 504.1h0M427.1 516.9h0M427.2 516h0M427.2 479.2h0M427.2 511.1h0M427.2 498.3h0M427.3 503.6h0M427.3 508.3h0M427.3 513.7h0M427.3 515.8h0M427.4 512h0M427.4 506.5h0M427.4 499.2h0M427.4 493.2h0M427.5 489.7h0M427.5 479.2h0M427.5 499.4h0M427.5 485.8h0M427.6 511.7h0M427.6 498.9h0M427.6 456.2h0M427.6 485.8h0M427.7 487.2h0M427.7 495.5h0M427.7 517.1h0M427.7 496.8h0M427.8 498.8h0M427.8 513.5h0M427.8 522.8h0M427.8 511.8h0M427.9 524.5h0M427.9 502.8h0M427.9 513.7h0M427.9 488h0M428 497.8h0M428 498.1h0M428 475.9h0M428 508.9h0M428.1 512.5h0M428.1 491.3h0M428.1 523.4h0M428.1 508.1h0M428.2 511.6h0M428.2 484.8h0M428.2 513.5h0M428.2 514.9h0M428.3 482.5h0M428.3 489.1h0M428.3 472.6h0M428.3 517.3h0M428.4 495.8h0M428.4 498.9h0M428.4 495.6h0M428.4 459.5h0M428.5 505.4h0M428.5 491.6h0M428.5 504.2h0M428.5 502.8h0M428.6 515.8h0M428.6 527.6h0M428.6 520.8h0M428.6 511.6h0M428.7 492.4h0M428.7 513.4h0M428.7 499.9h0M428.8 516.3h0M428.8 509h0M428.8 482.5h0M428.8 493.5h0M428.9 505.5h0M428.9 511.3h0M428.9 519h0M428.9 485.8h0M429 506.6h0M429 506.3h0M429 516.6h0M429 515.1h0M429.1 501.4h0M429.1 489.1h0M429.1 498.6h0M429.1 505.9h0M429.2 504h0M429.2 519.5h0M429.2 495.6h0M429.2 509.8h0M429.3 524.8h0M429.3 495.5h0M429.3 509.9h0M429.3 516.1h0M429.4 505.1h0M429.4 516.2h0M429.4 533h0M429.4 486.1h0M429.5 482.5h0M429.5 534.7h0M429.5 513.1h0M429.5 482.5h0M429.6 511.2h0M429.6 472.6h0M429.6 492.7h0M429.6 472.6h0M429.7 501.2h0M429.7 503.8h0M429.7 493.8h0M429.7 500.9h0M429.7 495.6h0M429.8 492.8h0M429.8 513.3h0M429.8 504.6h0M429.8 512.6h0M429.9 504h0M429.9 499.4h0M429.9 485.8h0M429.9 520.9h0M429.9 516.1h0M430 505.4h0M430 501.8h0M430 497.5h0M430 485.8h0M430 488.4h0M430.1 507.8h0M430.1 502.9h0M430.1 503.4h0M430.1 516.6h0M430.2 505.3h0M430.2 499.4h0M430.2 520.5h0M430.2 482.5h0M430.3 512.9h0M430.3 489.1h0M430.3 506.7h0M430.3 466.1h0M430.4 452.9h0M430.4 502.2h0M430.4 485.8h0M430.4 514.5h0M430.4 500.7h0M430.5 466.1h0M430.5 462.8h0M430.5 495.6h0M430.5 504.8h0M430.5 508.2h0M430.6 507.2h0M430.6 521.6h0M430.6 512h0M430.6 508.7h0M430.6 482.5h0M430.7 509.5h0M430.7 475.9h0M430.7 503.8h0M430.7 510.6h0M430.8 502.1h0M430.8 501.8h0M430.8 494.6h0M430.8 517.7h0M430.9 495.7h0M430.9 456.2h0M430.9 472.6h0M430.9 505h0M430.9 502.3h0M431 508.5h0M431 475.9h0M431 495.7h0M431 508.1h0M431 489.1h0M431 529.1h0M431.1 499.3h0M431.1 462.8h0M431.1 452.9h0M431.1 501.8h0M431.2 504.5h0M431.2 495.1h0M431.2 492.4h0M431.2 520.1h0M431.3 517.7h0M431.3 501.7h0M431.3 510h0M431.3 456.2h0M431.3 520.6h0M431.4 512.4h0M431.4 528.8h0M431.4 530.7h0M431.4 512.9h0M431.4 501.9h0M431.5 487h0M431.5 498.9h0M431.5 502.9h0M431.5 506.5h0M431.5 517h0M431.5 515.7h0M431.6 482.5h0M431.6 512.7h0M431.6 514.3h0M431.6 479.2h0M431.6 527.2h0M431.7 475.9h0M431.7 492.4h0M431.7 517.5h0M431.7 505.1h0M431.7 503.4h0M431.7 498.6h0M431.8 472.6h0M431.8 504.4h0M431.8 482.5h0M431.8 497.7h0M431.8 504.2h0M431.9 504h0M431.9 472.6h0M431.9 489.1h0M431.9 523.2h0M431.9 469.3h0M431.9 507.8h0M432 497.8h0M432 498.9h0M432 498.7h0M432 506h0M432 482.5h0M432.1 501h0M432.1 513.9h0M432.1 472.6h0M432.1 482.5h0M432.2 507.9h0M432.2 504.4h0M432.2 508.2h0M432.2 524.5h0M432.2 519.7h0M432.3 488.9h0M432.3 517.4h0M432.3 513.4h0M432.3 498.6h0M432.4 482.5h0M432.4 506.5h0M432.4 516.6h0M432.4 504.3h0M432.5 506.5h0M432.5 522.9h0M432.5 523.5h0M432.5 521h0M432.5 480.9h0M432.6 509.5h0M432.6 490.3h0M432.6 504.5h0M432.6 479.2h0M432.6 492.4h0M432.7 517.1h0M432.7 486.5h0M432.7 493.8h0M432.7 502.7h0M432.7 517.5h0M432.8 506.1h0M432.8 502.6h0M432.8 497.8h0M432.8 492h0M432.8 505.4h0M432.9 505.7h0M432.9 482.5h0M432.9 504h0M432.9 500.1h0M432.9 494.4h0M433 500.6h0M433 511.6h0M433 514.6h0M433 528.8h0M433 516.3h0M433.1 511.6h0M433.1 514.5h0M433.1 531.3h0M433.1 511.3h0M433.2 489.1h0M433.2 524.9h0M433.2 522.7h0M433.2 515h0M433.3 508.5h0M433.3 500.5h0M433.3 497h0M433.3 507.9h0M433.4 519.5h0M433.4 504.9h0M433.4 511.3h0M433.4 482.5h0M433.4 524h0M433.5 475.9h0M433.5 519.7h0M433.5 479.2h0M433.5 505.6h0M433.5 502.4h0M433.6 514h0M433.6 475.9h0M433.6 514.1h0M433.6 503.6h0M433.7 475.9h0M433.7 485.1h0M433.7 507.9h0M433.7 500.1h0M433.8 485.8h0M433.8 486.7h0M433.8 456.2h0M433.8 502.4h0M433.8 510.2h0M433.9 514h0M433.9 495.7h0M433.9 466.1h0M433.9 519.1h0M434 507h0M434 519.4h0M434 518h0M434 510.5h0M434 506.8h0M434.1 505.7h0M434.1 509.1h0M434.1 520.9h0M434.1 523.2h0M434.2 502.2h0M434.2 500.9h0M434.2 499.1h0M434.2 485.8h0M434.2 492.8h0M434.3 490.2h0M434.3 506.3h0M434.3 509.7h0M434.3 511.4h0M434.3 515.7h0M434.4 502h0M434.4 492.4h0M434.4 519.7h0M434.4 500h0M434.5 490.9h0M434.5 485.8h0M434.5 510.4h0M434.5 516.4h0M434.5 494.7h0M434.5 472.6h0M434.6 521.5h0M434.6 508.4h0M434.6 499.7h0M434.6 498.9h0M434.6 472.6h0M434.6 512.2h0M434.7 472.6h0M434.7 501.4h0M434.7 514.8h0M434.7 479.2h0M434.7 494.2h0M434.7 479.2h0M434.8 490.7h0M434.8 496.6h0M434.8 466.1h0M434.8 475.9h0M434.8 507.2h0M434.8 495.6h0M434.8 510.8h0M434.9 511.9h0M434.9 482.5h0M434.9 516.2h0M434.9 506.3h0M434.9 519.5h0M434.9 504.5h0M434.9 522.8h0M434.9 497.7h0M435 495.7h0M435 507.6h0M435 479.2h0M435 485.8h0M435 512.8h0M435 491.1h0M435 512.4h0M435 509.4h0M435 495.6h0M435.1 475.9h0M435.1 530h0M435.1 521.2h0M435.1 502h0M435.1 479.2h0M435.1 500.4h0M435.1 500.4h0M435.1 492.5h0M435.2 495.6h0M435.2 509.7h0M435.2 495.6h0M435.2 511.2h0M435.2 481.8h0M435.2 493.4h0M435.2 528.8h0M435.2 499h0M435.2 497.4h0M435.3 512.1h0M435.3 502.3h0M435.3 514.2h0M435.3 490.6h0M435.3 490.8h0M435.3 495.6h0M435.3 494.7h0M435.3 510.1h0M435.3 521.8h0M435.3 497h0M435.4 514h0M435.4 500.2h0M435.4 518.1h0M435.4 492.5h0M435.4 511.5h0M435.4 515.1h0M435.4 492.4h0M435.4 523.4h0M435.4 489.1h0M435.4 462.8h0M435.5 485.8h0M435.5 511.6h0M435.5 501.9h0M435.5 494.2h0M435.5 519.7h0M435.5 525.4h0M435.5 488.7h0M435.5 486h0M435.5 515.6h0M435.5 519.4h0M435.6 486.3h0M435.6 507.4h0M435.6 514.9h0M435.6 485.8h0M435.6 513.7h0M435.6 523.6h0M435.6 512.3h0M435.6 485.8h0M435.6 489.2h0M435.6 510.9h0M435.7 488.8h0M435.7 505.2h0M435.7 517.3h0M435.7 502h0M435.7 485.8h0M435.7 475.9h0M435.7 494.8h0M435.7 526.7h0M435.7 469.3h0M435.7 504.8h0M435.8 485.8h0M435.8 511.1h0M435.8 485.8h0M435.8 524.2h0M435.8 462.8h0M435.8 501.7h0M435.8 526.9h0M435.8 498.2h0M435.8 528.2h0M435.9 499h0M435.9 506.5h0M435.9 520.1h0M435.9 518.1h0M435.9 499.1h0M435.9 508.2h0M435.9 506.5h0M435.9 499.1h0M436 462.8h0M436 491.4h0M436 496.3h0M436 496.9h0M436 479.2h0M436 479.2h0M436 518.2h0M436 485.8h0M436.1 513.1h0M436.1 489.1h0M436.1 520.4h0M436.1 526.8h0M436.1 479.2h0M436.1 507.8h0M436.1 507h0M436.2 508.8h0M436.2 462.8h0M436.2 512.3h0M436.2 509.1h0M436.2 500.1h0M436.2 495.7h0M436.3 520.1h0M436.3 509.7h0M436.3 517h0M436.3 504h0M436.3 526.4h0M436.3 462.8h0M436.4 472.6h0M436.4 490.4h0M436.4 482.5h0M436.4 512.3h0M436.4 510.8h0M436.4 526.7h0M436.5 518.1h0M436.5 497.4h0M436.5 479.2h0M436.5 498.5h0M436.5 530h0M436.5 521.5h0M436.6 503.7h0M436.6 507.6h0M436.6 502.8h0M436.6 495.6h0M436.7 513.6h0M436.7 493.3h0M436.7 499.8h0M436.7 507.3h0M436.8 498.9h0M436.8 456.2h0M436.8 504.6h0M436.8 499.6h0M436.8 514.7h0M436.9 475.9h0M436.9 482.5h0M436.9 492.4h0M436.9 487.8h0M437 485.8h0M437 489.3h0M437 504.4h0M437 499.4h0M437.1 500.5h0M437.1 520.5h0M437.1 505.8h0M437.1 519.5h0M437.2 506.3h0M437.2 472.6h0M437.2 485.8h0M437.3 495.6h0M437.3 521.9h0M437.3 505.8h0M437.3 517.2h0M437.4 501.1h0M437.4 479.2h0M437.4 495.6h0M437.5 502.8h0M437.5 475.9h0M437.6 479.2h0M437.6 493.6h0M437.6 511.2h0M437.7 508.8h0M437.7 517.5h0M437.7 492.2h0M437.8 510.8h0M437.8 525.7h0M437.8 446.3h0M437.9 514.8h0M437.9 466.1h0M437.9 485.8h0M438 501.9h0M438 466.1h0M438 495.5h0M438 490h0M438.1 504.2h0M438.1 475.9h0M438.1 496.4h0M438.1 504.4h0M438.2 509.7h0M438.2 507.5h0M438.3 521.5h0M438.3 492.1h0M438.3 514.2h0M438.4 495.6h0M438.4 479.2h0M438.4 496.9h0M438.5 532.3h0M438.5 479.2h0M438.5 472.6h0M438.5 495.3h0M438.6 510.9h0M438.6 489.1h0M438.7 516.1h0M438.7 499.7h0M438.8 505.6h0M438.8 475.9h0M438.8 504.8h0M438.9 510.5h0M438.9 511.2h0M438.9 496.9h0M439 512.2h0M439 504.5h0M439 498.9h0M439 475.9h0M439.1 499h0M439.1 495.6h0M439.1 514.2h0M439.2 462.8h0M439.2 469.3h0M439.2 517h0M439.2 503.7h0M439.3 489.1h0M439.3 523.7h0M439.3 489.1h0M439.4 469.3h0M439.4 523.1h0M439.4 508.1h0M439.5 492.4h0M439.5 530.6h0M439.6 495.6h0M439.6 516.2h0M439.6 488.7h0M439.6 488h0M439.7 518h0M439.7 469.3h0M439.7 469.3h0M439.8 485.8h0M439.8 514.9h0M439.8 521.4h0M439.9 479.2h0M439.9 518.3h0M440 506.9h0M440 521.7h0M440 519.7h0M440 497.7h0M440.1 515.5h0M440.1 488.5h0M440.1 503h0M440.2 499.2h0M440.2 489.1h0M440.3 521.4h0M440.3 515.3h0M440.3 462.8h0M440.4 489.1h0M440.4 497.6h0M440.4 511.2h0M440.4 492.2h0M440.5 510.3h0M440.5 509.4h0M440.5 475.9h0M440.5 521.8h0M440.6 495.6h0M440.6 529.2h0M440.7 517.5h0M440.7 498.8h0M440.7 510.3h0M440.8 503.3h0M440.8 522.1h0M440.8 506.3h0M440.9 510.9h0M440.9 510.4h0M440.9 479.2h0M441 492.4h0M441 503.4h0M441 521.3h0M441.1 507.8h0M441.1 506.8h0M441.1 484.9h0M441.1 539.9h0M441.2 472.6h0M441.2 517.6h0M441.3 522.7h0M441.3 529.2h0M441.3 509.7h0M441.3 520.1h0M441.4 504.7h0M441.4 489.1h0M441.5 500.3h0M441.5 479.2h0M441.5 511.8h0M441.5 475.9h0M441.6 489.1h0M441.6 504.5h0M441.6 498.9h0M441.7 517.5h0M441.7 505.2h0M441.7 509.4h0M441.8 524.4h0M441.8 486.2h0M441.8 466.1h0M441.9 500.2h0M441.9 492.4h0M441.9 479.2h0M441.9 489.6h0M442 519.1h0M442 504.7h0M442 526h0M442.1 482.5h0M442.1 507.3h0M442.1 522.1h0M442.1 499h0M442.2 482.5h0M442.2 509.2h0M442.2 523.6h0M442.2 496.6h0M442.3 507.3h0M442.3 492h0M442.3 530.1h0M442.3 518.1h0M442.4 505.5h0M442.4 469.3h0M442.4 496.8h0M442.4 496.1h0M442.5 526.6h0M442.5 516.2h0M442.5 500.6h0M442.6 503.4h0M442.6 498.9h0M442.6 483.6h0M442.7 506.1h0M442.7 487h0M442.7 479.2h0M442.7 515.9h0M442.8 509.4h0M442.8 519.3h0M442.8 509.8h0M442.8 475.9h0M442.9 514h0M442.9 479.2h0M442.9 513.5h0M442.9 513h0M443 489.1h0M443 508.9h0M443 509.1h0M443 487.9h0M443.1 489.1h0M443.1 498.6h0M443.1 509.3h0M443.2 519.3h0M443.2 526h0M443.2 508.9h0M443.2 487.9h0M443.3 516.5h0M443.3 505.2h0M443.3 495.4h0M443.3 511.1h0M443.4 525.9h0M443.4 498.9h0M443.4 489.1h0M443.4 498.4h0M443.5 523h0M443.5 492.9h0M443.5 472.6h0M443.5 505.9h0M443.6 492.4h0M443.6 508h0M443.6 517.9h0M443.6 525.6h0M443.7 505.5h0M443.7 523h0M443.7 498.9h0M443.7 519.9h0M443.8 495.1h0M443.8 513.1h0M443.8 485.8h0M443.8 509.1h0M443.9 481.9h0M443.9 489.1h0M443.9 502.6h0M444 504.1h0M444 512.2h0M444 508.5h0M444 482.5h0M444.1 532.5h0M444.1 466.1h0M444.1 497.9h0M444.1 493.9h0M444.2 519.3h0M444.2 506.5h0M444.2 513.2h0M444.2 525.4h0M444.3 529.5h0M444.3 522.9h0M444.3 491.7h0M444.3 500.4h0M444.4 511h0M444.4 513.7h0M444.4 495.3h0M444.4 492.4h0M444.5 479.2h0M444.5 472.6h0M444.5 469.3h0M444.5 505.9h0M444.6 469.3h0M444.6 509.4h0M444.6 494.1h0M444.6 496.5h0M444.7 509.1h0M444.7 500.8h0M444.7 508.1h0M444.7 495h0M444.8 472.6h0M444.8 494.9h0M444.8 505h0M444.8 516.9h0M444.8 510.5h0M444.9 528.9h0M444.9 511.6h0M444.9 502.1h0M444.9 502.4h0M444.9 498.9h0M445 479.2h0M445 518.5h0M445 520.5h0M445 527.3h0M445 522.6h0M445.1 502.4h0M445.1 472.6h0M445.1 504.3h0M445.1 533.3h0M445.1 538.2h0M445.2 510.7h0M445.2 482.5h0M445.2 510.5h0M445.2 502.8h0M445.2 516h0M445.2 491.5h0M445.3 509.7h0M445.3 510.5h0M445.3 482.5h0M445.3 505.4h0M445.3 513.7h0M445.4 501.3h0M445.4 492.4h0M445.4 475.9h0M445.4 503.9h0M445.4 503.7h0M445.5 469.3h0M445.5 504.1h0M445.5 495.6h0M445.5 493.8h0M445.5 491.2h0M445.5 503.2h0M445.6 516.4h0M445.6 502.1h0M445.6 469.3h0M445.6 499.6h0M445.6 498.9h0M445.6 507.6h0M445.7 497.6h0M445.7 514.7h0M445.7 513.5h0M445.7 504.4h0M445.7 492.9h0M445.7 495.6h0M445.8 511.3h0M445.8 511.6h0M445.8 508.7h0M445.8 494.8h0M445.8 485.8h0M445.8 497.8h0M445.9 472.6h0M445.9 489.1h0M445.9 490.5h0M445.9 523.4h0M445.9 489.1h0M445.9 486.6h0M445.9 531.1h0M446 507.6h0M446 509.6h0M446 506.7h0M446 522h0M446 509h0M446 521.8h0M446.1 512.1h0M446.1 515h0M446.1 493.2h0M446.1 485.8h0M446.1 517.5h0M446.1 489.1h0M446.2 511.4h0M446.2 479.2h0M446.2 469.3h0M446.2 512.9h0M446.2 485.8h0M446.2 510.2h0M446.3 508.2h0M446.3 513h0M446.3 479.2h0M446.3 507.4h0M446.3 475.9h0M446.3 516h0M446.3 492.4h0M446.3 522.8h0M446.4 509.2h0M446.4 495.6h0M446.4 485.8h0M446.4 524.4h0M446.4 482.5h0M446.4 493.2h0M446.4 512.9h0M446.5 504.9h0M446.5 469.3h0M446.5 491.9h0M446.5 459.5h0M446.5 514.3h0M446.5 472.6h0M446.5 495.6h0M446.5 505.8h0M446.6 523.5h0M446.6 482.5h0M446.6 527h0M446.6 524.7h0M446.6 482.5h0M446.6 507.6h0M446.6 495h0M446.7 466.1h0M446.7 498.4h0M446.7 469.3h0M446.7 479.2h0M446.7 498.1h0M446.7 512.5h0M446.7 521.9h0M446.8 482.5h0M446.8 486h0M446.8 504.5h0M446.8 500.5h0M446.8 519.2h0M446.8 499.3h0M446.8 515.8h0M446.9 522.9h0M446.9 532.7h0M446.9 529h0M446.9 515.7h0M446.9 493.1h0M446.9 525.4h0M446.9 526.2h0M447 484.8h0M447 509.4h0M447 498.6h0M447 496.7h0M447 486.4h0M447 506.4h0M447 516.5h0M447 515.1h0M447.1 472.6h0M447.1 512.7h0M447.1 524.7h0M447.1 479.2h0M447.1 512.5h0M447.1 475.9h0M447.1 504.9h0M447.2 506.3h0M447.2 512.9h0M447.2 518.6h0M447.2 485.8h0M447.2 509.9h0M447.2 469.3h0M447.3 523h0M447.3 475.9h0M447.3 504.5h0M447.3 485.8h0M447.3 526.1h0M447.3 492.4h0M447.4 515h0M447.4 501.4h0M447.4 475.9h0M447.4 486.7h0M447.4 500.3h0M447.4 479.2h0M447.5 501h0M447.5 475.9h0M447.5 492.4h0M447.5 485.8h0M447.6 503.5h0M447.6 469.3h0M447.6 499.6h0M447.6 507.5h0M447.6 489.1h0M447.6 502.5h0M447.7 528.2h0M447.7 508.2h0M447.7 482.5h0M447.7 493.7h0M447.7 482.4h0M447.7 489.1h0M447.8 485.8h0M447.8 500.4h0M447.8 500.1h0M447.8 508.3h0M447.8 519.6h0M447.9 510.7h0M447.9 479.2h0M447.9 518.4h0M447.9 466.1h0M447.9 485.8h0M448 497.7h0M448 489.1h0M448 494.3h0M448 507.7h0M448.1 489.1h0M448.1 472.6h0M448.1 512.6h0M448.1 517h0M448.2 506.5h0M448.2 503.4h0M448.2 490.6h0M448.2 472.6h0M448.3 506h0M448.3 482.6h0M448.3 513.1h0M448.3 491.9h0M448.4 502.4h0M448.4 498.1h0M448.4 505.9h0M448.4 469.3h0M448.5 486.2h0M448.5 502.7h0M448.5 495.2h0M448.5 484.3h0M448.6 496.1h0M448.6 498.5h0M448.6 495.6h0M448.6 531.8h0M448.7 492.4h0M448.7 514.5h0M448.8 490.1h0M448.8 505.5h0M448.8 503.8h0M448.9 503.2h0M448.9 519.4h0M448.9 518.9h0M449 506.6h0M449 497.2h0M449 496.1h0M449.1 491.3h0M449.1 518.8h0M449.2 492.4h0M449.2 524.5h0M449.3 482.7h0M449.3 503.5h0M449.3 522h0M449.4 507.1h0M449.4 519.3h0M449.4 520h0M449.5 507.2h0M449.5 498.9h0M449.6 517.9h0M449.6 514.6h0M449.7 504.9h0M449.7 485.2h0M449.7 482.5h0M449.8 504.3h0M449.8 482.5h0M449.9 505.5h0M449.9 515.4h0M450 519.3h0M450 495.7h0M450.1 505.8h0M450.1 516.4h0M450.1 501.9h0M450.2 519.1h0M450.2 512.4h0M450.3 503.4h0M450.3 494.7h0M450.4 500.9h0M450.4 511.4h0M450.5 466.1h0M450.5 513.5h0M450.6 472.6h0M450.6 466.1h0M450.7 500.2h0M450.7 511.4h0M450.8 503.1h0M450.8 482.5h0M450.9 479.2h0M450.9 482.5h0M451 504h0M451 499.6h0M451.1 513.1h0M451.1 508h0M451.2 513.7h0M451.2 504.1h0M451.3 508.2h0M451.3 481.3h0M451.4 504.8h0M451.4 524.9h0M451.5 506.1h0M451.5 507h0M451.6 469.3h0M451.6 506h0M451.7 531.1h0M451.7 518.7h0M451.8 492.4h0M451.8 496.7h0M451.9 502.9h0M451.9 523.5h0M452 479.2h0M452 517.5h0M452.1 511.5h0M452.1 500h0M452.2 490.4h0M452.2 520.7h0M452.3 501.1h0M452.3 491.9h0M452.4 505.1h0M452.4 459.5h0M452.5 493.1h0M452.6 503.7h0M452.6 506.7h0M452.7 504.2h0M452.8 505h0M452.8 510.6h0M452.9 489.1h0M452.9 508.1h0M453 508.8h0M453.1 485.8h0M453.2 490.6h0M453.3 516.2h0M453.3 508.3h0M453.4 492.4h0M453.5 498.5h0M453.5 462.8h0M453.6 510.4h0M453.6 502.5h0M453.7 492.4h0M453.8 501.9h0M453.8 501.8h0M453.9 523.7h0M453.9 517.2h0M454 493.1h0M454 527.2h0M454.1 485.8h0M454.1 511.2h0M454.2 527.4h0M454.3 509.6h0M454.4 475.9h0M454.4 495.6h0M454.5 504h0M454.5 507.6h0M454.6 520.2h0M454.6 509.3h0M454.7 514h0M454.7 499h0M454.8 485.4h0M454.8 523.6h0M454.9 500.6h0M454.9 510.5h0M455 512.1h0M455 529.3h0M455.1 532.7h0M455.1 513.1h0M455.2 506.1h0M455.2 496.5h0M455.3 512h0M455.4 511.7h0M455.4 518.6h0M455.5 518.5h0M455.6 507.7h0M455.6 487.9h0M455.7 521.9h0M455.7 492.4h0M455.8 492.4h0M455.8 518.3h0M455.9 511.4h0M456 529.3h0M456 495.6h0M456.1 485.9h0M456.1 491.2h0M456.2 518.4h0M456.2 515.1h0M456.4 525.7h0M456.5 493.4h0M456.6 469.3h0M456.7 482.5h0M456.7 498.7h0M456.8 504.3h0M456.8 521.2h0M456.9 528.2h0M456.9 504.6h0M457 529.4h0M457 486.3h0M457.1 518.3h0M457.2 475.9h0M457.3 505.5h0M457.4 489.1h0M457.4 489.8h0M457.5 525.2h0M457.5 521.2h0M457.6 526.8h0M457.6 469.3h0M457.7 504.9h0M457.7 492.4h0M457.8 510.9h0M457.8 505.8h0M457.9 485.8h0M457.9 511.9h0M458 495.6h0M458.1 497.9h0M458.2 501.5h0M458.2 499.4h0M458.3 479.2h0M458.3 523.3h0M458.4 498.9h0M458.5 500.4h0M458.6 482.5h0M458.6 503.9h0M458.7 521h0M458.7 513.5h0M458.8 501.5h0M458.8 482.5h0M458.9 479.2h0M458.9 509.2h0M459 529.7h0M459.2 479.2h0M459.2 506.3h0M459.4 502.6h0M459.5 516.8h0M459.5 503h0M459.6 516.1h0M459.6 475.9h0M459.7 492.4h0M459.7 493.6h0M459.8 509.9h0M459.8 475.9h0M459.9 522.3h0M459.9 479.2h0M460 521.2h0M460 506.1h0M460.1 472.6h0M460.1 521.5h0M460.3 498.8h0M460.4 514.3h0M460.5 489.1h0M460.5 502.7h0M460.6 485.8h0M460.6 466.1h0M460.7 501.7h0M460.7 529.6h0M460.8 446.3h0M460.9 525.2h0M460.9 502.2h0M461 466.1h0M461 512.5h0M461.1 516.3h0M461.2 496.7h0M461.2 506.9h0M461.3 495.1h0M461.4 526.5h0M461.4 472.6h0M461.5 511.7h0M461.5 487.9h0M461.6 508.4h0M461.6 493.9h0M461.7 466.1h0M461.7 489.1h0M461.8 514.2h0M461.8 502.6h0M461.9 504.8h0M461.9 513.8h0M462 492h0M462 522.8h0M462.1 518.1h0M462.1 492.4h0M462.2 513.9h0M462.2 482.5h0M462.3 528.6h0M462.3 479.2h0M462.3 513.6h0M462.4 502.2h0M462.4 472.6h0M462.4 520.9h0M462.5 515.4h0M462.5 518.2h0M462.6 472.6h0M462.6 501.2h0M462.6 505.1h0M462.7 503h0M462.7 485.8h0M462.8 496.1h0M462.8 498.9h0M462.8 508.8h0M462.9 504.5h0M462.9 501.3h0M463 500.5h0M463 503.8h0M463 510.2h0M463.1 505.6h0M463.1 514.7h0M463.1 494h0M463.2 510.8h0M463.2 479.2h0M463.2 475.9h0M463.3 466.1h0M463.3 510.1h0M463.4 485.8h0M463.4 472.6h0M463.5 496.6h0M463.5 502.4h0M463.5 507.5h0M463.5 513.9h0M463.6 479.2h0M463.6 504.3h0M463.7 509.5h0M463.7 521h0M463.8 462.8h0M463.8 503.2h0M463.8 508.2h0M463.8 522.8h0M463.9 502.2h0M463.9 479.2h0M464 500.8h0M464 497.8h0M464 525.8h0M464.1 479.2h0M464.1 514.5h0M464.2 498.9h0M464.2 522.4h0M464.3 475.9h0M464.3 492.2h0M464.4 489.1h0M464.4 491.5h0M464.5 466.1h0M464.5 482.5h0M464.6 505.9h0M464.6 533.1h0M464.7 500.3h0M464.7 513h0M464.8 497.5h0M464.8 493.2h0M464.9 494.9h0M465 526.7h0M465 495.3h0M465.1 513.5h0M465.1 487.1h0M465.2 509.3h0M465.3 523.3h0M465.3 503.2h0M465.4 521.9h0M465.5 526.1h0M465.6 530.1h0M465.7 502h0M465.7 462.8h0M465.8 504h0M465.9 489.1h0M466 479.2h0M466 500.7h0M466.1 514.9h0M466.3 513.7h0M466.4 511.1h0M466.4 498.6h0M466.5 495.2h0M466.5 475.9h0M466.6 516.5h0M466.8 479.2h0M466.9 475.9h0M467 466.1h0M467 516.3h0M467.1 529.3h0M467.1 509.5h0M467.3 521.5h0M467.4 494.3h0M467.5 504.8h0M467.6 497.1h0M467.6 529.9h0M467.8 504h0M467.8 485.8h0M467.9 475.9h0M468 504h0M468.3 488.9h0M468.3 507.9h0M468.4 522.7h0M468.5 495.6h0M468.7 505.5h0M468.8 522.5h0M468.9 515.3h0M468.9 504.3h0M469 508.5h0M469 504h0M469.1 500.6h0M469.2 504.2h0M469.4 524.2h0M469.4 513.2h0M469.5 493.8h0M469.5 508.2h0M469.6 522h0M469.7 510.3h0M469.7 502.6h0M469.8 507.9h0M469.8 490.1h0M469.9 521.8h0M469.9 482.5h0M470 507.7h0M470 493.2h0M470.1 514.1h0M470.1 500.8h0M470.1 512h0M470.1 494.8h0M470.2 466.1h0M470.2 521.4h0M470.2 503.5h0M470.3 503.2h0M470.3 511.1h0M470.3 521.3h0M470.3 495.6h0M470.4 509.5h0M470.4 508.7h0M470.4 524.3h0M470.5 506.3h0M470.5 495.3h0M470.5 492.6h0M470.5 506.1h0M470.5 512h0M470.6 522.3h0M470.6 469.3h0M470.6 513.1h0M470.6 511.7h0M470.7 502.2h0M470.7 503h0M470.7 495.6h0M470.7 479.2h0M470.7 496.4h0M470.8 475.9h0M470.8 521.8h0M470.8 511.7h0M470.8 522.6h0M470.9 519.7h0M470.9 491.3h0M470.9 521.7h0M470.9 510.9h0M471 523.2h0M471 492.2h0M471 523.4h0M471 515.1h0M471 508h0M471 516.3h0M471.1 479.2h0M471.1 507.2h0M471.1 501.4h0M471.1 490.4h0M471.2 469.3h0M471.2 479.2h0M471.2 517.4h0M471.2 517.1h0M471.2 500.8h0M471.2 505.9h0M471.3 510.3h0M471.3 525.5h0M471.3 513.8h0M471.3 475.9h0M471.4 491.7h0M471.4 502.6h0M471.4 498.4h0M471.5 497.2h0M471.5 489.1h0M471.6 508.4h0M471.6 489.1h0M471.6 518.8h0M471.6 490h0M471.7 499.1h0M471.7 500.9h0M471.7 492.3h0M471.8 515.7h0M471.8 494.3h0M471.9 495.6h0M471.9 529.1h0M472 519.5h0M472 510.8h0M472.1 493h0M472.2 494.3h0M472.3 485.8h0M472.3 528h0M472.4 508.1h0M472.4 521.5h0M472.5 504.2h0M472.7 494.1h0M472.8 519.8h0M472.8 519.7h0M472.9 507.1h0M473.1 504.6h0M473.4 485.8h0M473.5 469.3h0M473.7 512.6h0M473.8 516.2h0M474 507.9h0M474.1 475.9h0M474.1 485.8h0M474.2 494.4h0M474.3 500.8h0M474.3 527h0M474.4 526.9h0M474.5 518.6h0M474.6 525.3h0M474.8 497.2h0M474.8 505.5h0M474.9 487.9h0M474.9 491.4h0M475.1 514.3h0M475.2 516.2h0M475.3 489.1h0M475.3 519.6h0M475.4 525.2h0M475.6 504.9h0M475.7 502.1h0M475.7 510.2h0M475.8 500.7h0M475.9 482.5h0M475.9 505.4h0M476 466.1h0M476 501.3h0M476.1 482.5h0M476.2 513.6h0M476.2 513.5h0M476.3 509h0M476.3 500.7h0M476.4 498.2h0M476.4 513.8h0M476.5 490.8h0M476.5 472.6h0M476.6 512h0M476.7 502.5h0M476.7 488.2h0M476.8 515.5h0M476.9 498.3h0M476.9 493.7h0M477 511.4h0M477 479.2h0M477.1 521h0M477.2 515.3h0M477.4 488.7h0M477.5 516.1h0M477.6 508.6h0M477.7 527.6h0M478 504.6h0M478.1 486.8h0M478.1 494.1h0M478.2 475.9h0M478.3 528h0M478.4 509.8h0M478.5 475.9h0M478.5 492.4h0M478.6 512.3h0M478.6 506.4h0M478.7 472.6h0M478.8 498.9h0M478.9 515h0M479 507.7h0M479.1 524.6h0M479.2 524.2h0M479.4 482.5h0M479.6 492.4h0M479.7 520.8h0M479.8 508.6h0M479.8 508.3h0M480 511.4h0M480.1 505.5h0M480.1 485.8h0M480.4 508.8h0M480.6 514.7h0M480.7 512.9h0M480.8 515.2h0M480.8 496.9h0M480.9 515.3h0M481 519.6h0M481.1 523.2h0M481.2 529h0M481.3 472.6h0M481.3 519.3h0M481.4 524.8h0M481.6 485.8h0M481.9 479.2h0M482.1 519.4h0M482.2 493.4h0M482.4 513.7h0M482.5 529.6h0M482.6 501.2h0M482.8 491h0M482.9 509h0M483 510.9h0M483.2 513.9h0M483.3 502.4h0M483.4 499.9h0M483.6 507.8h0M483.6 513.2h0M483.7 507.7h0M483.8 511.2h0M483.8 497.9h0M484 514.3h0M484 489.1h0M484.1 504.5h0M484.2 509.1h0M484.3 521.7h0M484.3 519h0M484.4 506.9h0M484.5 526.8h0M484.6 518.2h0M484.7 509.8h0M484.9 499.3h0M484.9 510.4h0M485 466.1h0M485.1 488.1h0M485.2 499.1h0M485.3 522.8h0M485.3 514h0M485.4 505.7h0M485.5 489.1h0M485.6 513.6h0M485.7 505.5h0M485.8 512.7h0M485.8 505.1h0M485.9 504.7h0M486 487.9h0M486 503.1h0M486.3 509.2h0M486.5 507.7h0M486.6 513.7h0M486.8 526.1h0M486.8 507.3h0M486.9 495h0M486.9 510.2h0M487.1 488.4h0M487.2 491.6h0M487.3 508.9h0M487.4 502.4h0M487.4 502.9h0M487.7 502h0M487.8 511.6h0M487.8 519h0M487.9 498.9h0M487.9 502.8h0M488.1 500.8h0M488.1 488.5h0M488.2 501h0M488.3 526.3h0M488.3 503.9h0M488.4 519h0M488.5 509.2h0M488.6 498.9h0M488.8 512.1h0M488.8 525.6h0M488.9 488.4h0M488.9 512.3h0M489 515.4h0M489 523.9h0M489.1 519.4h0M489.1 502.2h0M489.2 489.1h0M489.2 515.6h0M489.3 518.1h0M489.3 490.9h0M489.4 484.9h0M489.4 495.6h0M489.5 506.1h0M489.6 514.5h0M489.7 482.5h0M489.7 497.5h0M489.8 528.7h0M489.8 513.8h0M489.9 475.9h0M489.9 510.6h0M490 506h0M490.1 494.7h0M490.1 472.6h0M490.2 515.8h0M490.3 520.4h0M490.3 522.1h0M490.4 520.6h0M490.4 500.5h0M490.5 498h0M490.5 499.6h0M490.6 504.1h0M490.6 506.3h0M490.7 516.6h0M490.7 502.8h0M490.8 500.5h0M490.8 485.8h0M490.9 469.3h0M491 515.2h0M491 510h0M491.1 521.3h0M491.2 508.3h0M491.2 513.4h0M491.3 521.1h0M491.3 491.1h0M491.4 466.1h0M491.5 490.5h0M491.6 510.6h0M491.7 518.5h0M491.7 506.8h0M491.8 495.1h0M491.8 492.1h0M491.9 503.8h0M492 482.5h0M492.1 517h0M492.4 495.6h0M492.5 489.7h0M492.6 515.8h0M492.7 499.1h0M492.8 515h0M492.9 530.1h0M493.1 490h0M493.5 498.2h0M493.7 515.8h0M493.8 522.2h0M493.8 501.3h0M493.9 486.2h0M494.4 503.1h0M494.4 516.1h0M494.6 507.5h0M494.9 492.9h0M495 479.2h0M495.2 518.1h0M495.3 525.5h0M495.5 512.2h0M495.5 495.6h0M495.8 522.9h0M495.8 507.7h0M495.9 495.6h0M496.2 479.2h0M496.3 504h0M496.9 500.5h0M497 494.9h0M497.3 526.3h0M497.4 501.3h0M498 510.3h0M498.2 512.3h0M498.3 527.6h0M498.4 493.9h0M498.5 500.3h0M498.7 504.7h0M498.9 482.5h0M499.1 513.1h0M499.1 518.8h0M499.2 533.2h0M499.5 509.4h0M499.6 506.8h0M499.8 522h0M500 505.5h0M500 466.1h0M500.1 492.4h0M500.1 517.4h0M500.2 492.7h0M500.3 484.6h0M500.4 504.9h0M500.7 514.5h0M501 520.3h0M501.5 505.1h0M502.1 500.9h0M502.2 498.8h0M502.6 508.9h0M502.7 497.1h0M503 488.1h0M503.3 526.1h0M503.4 502.2h0M503.4 506.9h0M503.5 494.6h0M503.6 505.5h0M503.8 516h0M503.9 521.3h0M504.1 492.4h0M504.2 495.6h0M504.7 504.5h0M505.6 515.2h0M505.7 515.1h0M505.8 513.3h0M506 492.4h0M506.1 522.1h0M506.2 509.4h0M506.4 526.9h0M506.8 508.3h0M507 508.9h0M507.6 521.3h0M507.9 515.9h0M508.1 510.4h0M508.2 509.4h0M508.4 479.2h0M508.4 510.5h0M508.5 493.6h0M508.7 499.3h0M508.8 496.3h0M508.9 507.1h0M509 515.7h0M509.1 501.4h0M509.2 482.5h0M509.3 475.9h0M509.4 485.3h0M509.4 517.7h0M509.5 514.9h0M509.5 472.6h0M509.9 498.3h0M509.9 498.1h0M510 508.2h0M510.2 475.9h0M510.4 515.5h0M511 505.5h0M511.1 495h0M511.2 519.2h0M511.3 492.1h0M511.3 482.5h0M511.5 491.8h0M511.6 518.2h0M511.7 492.8h0M511.7 500.7h0M511.8 490.9h0M511.9 496.2h0M512.4 516.8h0M512.6 517.6h0M512.7 493.2h0M512.8 486.8h0M512.8 515.1h0M513 500.2h0M513 472.6h0M513.1 504.7h0M513.3 498.9h0M513.3 517.8h0M513.4 524.4h0M513.5 516.3h0M513.6 501.9h0M513.7 513.6h0M513.7 507.6h0M514 507.1h0M514 506.3h0M514.1 527.6h0M514.3 505.2h0M515.1 479.2h0M515.3 508.8h0M515.4 502.1h0M515.4 511.6h0M515.5 504.7h0M515.6 510.4h0M515.7 495.6h0M515.9 516.1h0M516.1 514.4h0M516.2 466.1h0M516.3 513.9h0M516.6 485.3h0M517.1 512.9h0M517.3 482.5h0M517.3 498.9h0M517.6 501.6h0M518.4 505.6h0M518.5 495.3h0M518.8 502.9h0M519 525.6h0M519.4 526.1h0M519.6 523h0M519.7 501.8h0M519.8 516.5h0M520 502.4h0M520.2 510.5h0M520.4 485.8h0M520.6 520.7h0M520.7 518.2h0M520.8 489.1h0M520.8 504.4h0M521 518.3h0M521.6 504.7h0M521.7 489.1h0M521.8 505.5h0M521.9 494.2h0M522.2 525.3h0M522.4 500.3h0M523 479.2h0M523 511.2h0M523.2 523.8h0M523.4 490.7h0M524.2 520.9h0M524.4 492.4h0M524.6 503.6h0M524.7 521h0M524.7 500.4h0M524.9 523.6h0M525.2 498.9h0M525.3 520.9h0M525.4 501.2h0M526 518.8h0M526 516.3h0M526.3 514.1h0M526.5 492.6h0M526.9 505h0M527.1 496h0M527.7 514h0M527.9 507.2h0M527.9 498.4h0M528.4 515.1h0M528.7 479.2h0M528.8 502.7h0M528.9 508.1h0M529.2 509.7h0M529.4 510.9h0M529.6 518h0M529.7 469.3h0M529.8 492.7h0M529.9 500.5h0M529.9 508.6h0M530 499.9h0M530.1 506.8h0M530.3 505.9h0M530.6 521h0M531 502h0M531.1 492.4h0M531.1 497.2h0M531.3 499.7h0M531.8 491.8h0M531.8 501.5h0M531.9 485.8h0M532.1 507h0M532.3 500.9h0M533 499.9h0M533.5 510.8h0M533.6 524.4h0M533.7 533.3h0M533.9 509.8h0M534.3 499.8h0M534.5 510.2h0M535.4 520.4h0M535.8 505.4h0M535.8 503.2h0M535.9 490.2h0M535.9 507h0M536.5 510.7h0M536.5 521.4h0M536.7 485.4h0M536.8 498.7h0M537 511.5h0M537 506.8h0M537.1 492.4h0M537.4 500.6h0M537.5 510.1h0M537.6 493.6h0M537.7 498.7h0M537.8 485.8h0M538 512.5h0M538.2 522.7h0M538.3 522h0M538.3 495.7h0M538.4 511.4h0M538.4 504h0M538.5 516.3h0M538.6 492.4h0M538.7 505.3h0M538.7 498.8h0M538.8 517.2h0M538.8 514.3h0M538.9 507.3h0M539.2 488.2h0M539.4 462.8h0M539.7 503.9h0M540 503.7h0M540.1 479.2h0M540.1 504.3h0M540.4 525h0M540.7 500.1h0M540.7 486.5h0M540.9 506.2h0M541 509.7h0M541.1 516.9h0M541.8 513.3h0M542.6 469.3h0M542.7 505.1h0M543 512.5h0M543.3 497.6h0M543.5 494.2h0M543.6 500.9h0M545 495.6h0M545.2 492.4h0M545.4 521.3h0M546.2 499.6h0M546.3 505.5h0M546.3 522.6h0M546.5 506.2h0M546.9 462.8h0M547.2 498.4h0M547.3 493.1h0M547.8 507.3h0M547.9 472.6h0M548.1 503.3h0M548.3 510h0M548.6 512.5h0M548.8 513.5h0M549.1 492.9h0M549.2 520h0M549.3 519h0M549.3 492.3h0M549.7 505.1h0M550 504h0M550.1 506h0M550.3 515.5h0M550.6 514.2h0M550.7 507.2h0M550.9 513.5h0M551.1 508.4h0M551.1 514h0M551.2 498.9h0M551.2 495.6h0M551.4 498.9h0M551.4 486.2h0M551.7 518.1h0M551.8 469.3h0M551.8 494.6h0M551.9 501.9h0M552 493.2h0M552.1 493.4h0M552.3 482.2h0M552.4 506.4h0M552.5 494.2h0M552.6 492.4h0M552.6 513.3h0M552.7 472.6h0M552.7 502.3h0M552.8 527.7h0M552.9 512.7h0M553 504.5h0M553 492.6h0M553.1 489.1h0M553.2 519.5h0M553.2 479.2h0M553.3 492h0M553.3 526.1h0M553.4 516.4h0M553.5 513.9h0M553.6 500.9h0M553.7 507h0M553.8 510.8h0M553.8 492.3h0M553.9 511.2h0M554 506.4h0M554 482.5h0M554.1 512.1h0M554.1 491h0M554.2 489.1h0M554.3 504.1h0M554.5 505.7h0M554.5 490.8h0M554.6 529h0M554.7 518.8h0M554.8 519.7h0M554.8 504.8h0M554.9 522.6h0M555 506.9h0M555.3 499.7h0M555.3 519.2h0M555.7 490.8h0M555.7 503.5h0M555.9 505.6h0M556 515.6h0M556 498.7h0M556.1 520.5h0M556.2 515.9h0M556.3 504.3h0M556.4 493.8h0M556.4 479.2h0M556.5 520.6h0M556.6 501.3h0M556.7 512.8h0M556.8 503.5h0M557 503.5h0M557.2 521h0M557.4 529.6h0M557.4 469.3h0M557.5 469.3h0M557.6 503.4h0M557.7 479.2h0M558.1 505.4h0M558.2 516.3h0M558.2 505.9h0M558.4 506.4h0M558.5 490.8h0M558.6 507h0M558.8 518.4h0M558.8 509.9h0M558.9 501.5h0M559 521h0M559.1 475.9h0M559.2 503.8h0M559.2 519.9h0M559.3 485.8h0M559.5 511.6h0M559.5 502.3h0M559.6 495.6h0M559.7 506.2h0M559.7 479.2h0M560 511.4h0M560.1 485.8h0M560.2 509h0M560.3 498.8h0M560.4 508.3h0M560.5 489.1h0M560.6 498h0M560.6 489.1h0M560.8 499.7h0M560.8 487.1h0M560.9 486.1h0M561.2 496.3h0M561.2 508.6h0M561.3 502.9h0M561.4 516.8h0M561.5 501.7h0M561.5 482.5h0M561.6 504.2h0M561.6 509.2h0M561.7 508.8h0M561.8 490.4h0M562 499h0M562.2 501.2h0M562.4 484.6h0M562.6 492.4h0M562.7 485.8h0M562.9 479.2h0M563 472.6h0M563.1 511.8h0M563.4 504h0M563.5 501.7h0M563.9 498.9h0M564.3 519.6h0M564.7 519.9h0M564.9 503.4h0M565.1 488.3h0M565.2 513.5h0M565.3 472.6h0M565.3 517.3h0M565.4 497.8h0M565.8 503.9h0M566.1 509.9h0M566.2 472.6h0M566.3 513.9h0M566.4 523.1h0M566.5 517.5h0M566.9 479.2h0M567.2 508.8h0M567.5 503.9h0M567.6 484.2h0M568.7 515.6h0M568.8 507h0M569.3 515.4h0M570 501.4h0M570 503.4h0M570.3 472.6h0M570.6 502.3h0M570.7 489.4h0M571 523.6h0M571.7 482.5h0M572 514.5h0M572.4 499h0M572.7 529.9h0M573.2 512.7h0M573.5 505.5h0M573.7 503.9h0M573.8 508h0M574 498.4h0M574.1 479.2h0M574.2 492.4h0M574.3 505.4h0M574.5 495.8h0M575 501.1h0M575.7 514.1h0M576.2 519.7h0M576.2 485.8h0M576.5 485.8h0M583.6 470.8h0M588.4 481.4h0M588.6 489.3h0M588.7 494.9h0M589.7 490.4h0M590.5 477.6h0M590.6 499.1h0M590.6 513.3h0M591 490.7h0M591.3 512.9h0M591.7 522.6h0M592.1 510.4h0M592.1 504h0M592.2 512.4h0M592.5 480.2h0M592.6 507.5h0M593.6 511h0M593.7 510.4h0M594 490h0M594.6 505.6h0M595 486.7h0M595.4 512.4h0M595.7 485.9h0M595.8 503.9h0M596.4 483.8h0M598.1 498.5h0M598.2 478.5h0M598.4 512.3h0M598.7 496.1h0M598.9 489.5h0M598.9 515.9h0M599.5 502.7h0M600 501.1h0M600.1 508.9h0M600.2 491.1h0M600.3 510.5h0M600.7 505.2h0M600.7 477.2h0M600.8 503.3h0M602.9 504.7h0M603.4 496h0M603.9 492.1h0M604.5 497.9h0M604.9 513.1h0M606.5 519.5h0M607 476.4h0M607 511.7h0M607.1 509.4h0M607.3 498h0M608.3 491.9h0M608.5 519h0M609 503.2h0M609.2 501.4h0M609.4 507.6h0M609.8 516.9h0M610.2 519.3h0M611.1 492.4h0M613.2 523.5h0M614.8 513.4h0M614.9 497.2h0M615.3 490.9h0M615.7 507.7h0M616 496.1h0M616.2 487.3h0M616.3 505.9h0M616.7 500.7h0M616.8 519.9h0M617.5 501.3h0M618 506.5h0M618.2 508.5h0M618.5 513.1h0M619.5 496.9h0M619.6 509.2h0M619.7 505.2h0M620.1 510.3h0M621 513h0M621.1 490.8h0M621.3 505.5h0M621.5 498.1h0M621.6 513.4h0M621.9 506h0M622.7 504.8h0M622.7 491.5h0M623 487.1h0M623.4 509h0M623.5 508.1h0M623.6 478.4h0M623.6 489.5h0M624.5 501.5h0M624.7 510.6h0M625.6 515.5h0M625.7 499.8h0M627.4 511.3h0M627.4 505h0M628 502.4h0M628.1 510.2h0M628.3 513h0M629.2 489.1h0M629.6 475.3h0M630 512.6h0M630 509.6h0M630.7 522.3h0M631.5 510.9h0M633 488.3h0M633.7 493.4h0M633.8 506.2h0M633.9 492.2h0M634.1 500.7h0M634.8 504.3h0M635.5 526.4h0M636 518.5h0M636.6 487.3h0M636.7 488.1h0M637.2 516h0M637.4 511h0M637.8 503.6h0M637.9 490.3h0M638 523h0M638.3 507.3h0M638.6 497.3h0M638.8 507.1h0M638.9 516.2h0M639.4 495.8h0M639.6 519.4h0M639.6 477.7h0M639.9 514.2h0M640.3 480.7h0M640.5 514.5h0M640.8 485.1h0M641.1 522.3h0M641.8 515.3h0M642.2 516.4h0M642.4 504.4h0M642.6 507.3h0M644.9 495.1h0M644.9 516.5h0M645.9 504.3h0M647.1 510.9h0M649.3 492.8h0M650.8 501.4h0M651 504.2h0M651.8 507.4h0M652.4 508.2h0M653.8 514.2h0M654.8 521.9h0M655.3 514.4h0M656.8 522.8h0M658.3 505h0M659 486.2h0M662.6 493.7h0M663.1 501.2h0M664.5 500.7h0M666.3 511.1h0M666.5 514.1h0M562.1 538.8h0M560.4 479.6h0M560.6 515h0M559.8 523.7h0M558.8 491.9h0M560.8 534.2h0M558.8 509.2h0M559.7 544.2h0M559.3 484.8h0M560.6 492.3h0M559.7 483.7h0M559.4 536.2h0M559.8 509.6h0M560.4 494.3h0M559.6 501.2h0M558.6 504.9h0M560 479.9h0M562 499h0M561.7 488.3h0M560 497.2h0M560.5 543.7h0M558.9 491.2h0M559.3 486.7h0M560.9 516.7h0M559.9 488.4h0M561 491h0M561.7 493.6h0M559.9 517.3h0M560.8 550.3h0M561.7 483.1h0M411.9 551.4h0M406.4 541.1h0M405.3 547.2h0M405.7 553.6h0M407.4 542.5h0M404.8 538.2h0M411.7 550.9h0M412.7 555.1h0M407.4 545.7h0M414.3 542h0M417.4 535.8h0M421.5 548.5h0M436.8 550.4h0M430.8 548h0M432.2 545.8h0M431.2 545.9h0M433.3 540.7h0M431.1 542.8h0M426.7 545h0M418.8 544h0M434.2 548.9h0M427.4 542.4h0M433.5 541.2h0M425.2 538.1h0M403.8 505.5h0M404.6 498.9h0M404 495.6h0M403.9 492.4h0M404 489.1h0M404.6 485.8h0M404.4 482.5h0M404.6 479.2h0M404.7 475.9h0M404.1 472.6h0M404.5 469.3h0M403.6 466.1h0M404.5 462.8h0M403.9 459.5h0M404 456.2h0M404.3 452.9h0M404.2 449.6h0M404.2 479.2h0M404 485.8h0M591.6 459.5h0M591.6 462.8h0M606.4 462.8h0M610.8 462.8h0M608.6 469.3h0M629.6 469.3h0M637.6 466.1h0M634.7 472.6h0M595.6 479.2h0M601.9 482.5h0M610.8 482.5h0M609 489.1h0M618 485.8h0M622.4 490.7h0M628 482.5h0M631.4 482.5h0M651.9 492.4h0M561.3 525.2h0M614.5 492.4h0M604.5 485.8h0M624.5 485.8h0M396.2 462.8h0M399.5 485.8h0M401 495.6h0M402.3 472.6h0" fill="none" stroke="#f00" stroke-width="3.2" stroke-linecap="round"/>
</g>
<path d="M61 241.2L71.6 241.2M670.3 241.2L680.9 241.2M61 558.1L71.6 558.1M670.3 558.1L680.9 558.1M61 208.3L71.6 208.3M670.3 208.3L680.9 208.3M61 525.2L71.6 525.2M670.3 525.2L680.9 525.2M61 175.5L71.6 175.5M670.3 175.5L680.9 175.5M61 492.4L71.6 492.4M670.3 492.4L680.9 492.4M61 142.6L71.6 142.6M670.3 142.6L680.9 142.6M61 459.5L71.6 459.5M670.3 459.5L680.9 459.5M61 109.7L71.6 109.7M670.3 109.7L680.9 109.7M61 426.6L71.6 426.6M670.3 426.6L680.9 426.6M61 76.8L71.6 76.8M670.3 76.8L680.9 76.8M61 393.7L71.6 393.7M670.3 393.7L680.9 393.7M61 44L71.6 44M670.3 44L680.9 44M61 360.9L71.6 360.9M670.3 360.9L680.9 360.9M61 11.1L71.6 11.1M670.3 11.1L680.9 11.1M61 328L71.6 328M670.3 328L680.9 328M68.2 541.7L71.6 541.7M670.3 541.7L673.7 541.7M68.2 508.8L71.6 508.8M670.3 508.8L673.7 508.8M68.2 475.9L71.6 475.9M670.3 475.9L673.7 475.9M68.2 443.1L71.6 443.1M670.3 443.1L673.7 443.1M68.2 410.2L71.6 410.2M670.3 410.2L673.7 410.2M68.2 377.3L71.6 377.3M670.3 377.3L673.7 377.3M68.2 344.4L71.6 344.4M670.3 344.4L673.7 344.4M71.6 0.5L71.6 11.1M71.6 241.2L71.6 251.8M221.3 0.5L221.3 11.1M221.3 241.2L221.3 251.8M370.9 0.5L370.9 11.1M370.9 241.2L370.9 251.8M520.6 0.5L520.6 11.1M520.6 241.2L520.6 251.8M670.3 0.5L670.3 11.1M670.3 241.2L670.3 251.8M71.6 317.4L71.6 328M71.6 558.1L71.6 568.7M145.2 317.4L145.2 328M145.2 558.1L145.2 568.7M221.3 317.4L221.3 328M221.3 558.1L221.3 568.7M294.9 317.4L294.9 328M294.9 558.1L294.9 568.7M370.9 317.4L370.9 328M370.9 558.1L370.9 568.7M447 317.4L447 328M447 558.1L447 568.7M520.6 317.4L520.6 328M520.6 558.1L520.6 568.7M596.7 317.4L596.7 328M596.7 558.1L596.7 568.7M670.3 317.4L670.3 328M670.3 558.1L670.3 568.7" fill="none" stroke="#000" stroke-width=".7"/>
<rect x="71.6" y="11.1" width="598.7" height="230.1" fill="none" stroke="#000" stroke-width="2"/>
<rect x="71.6" y="328" width="598.7" height="230.1" fill="none" stroke="#000" stroke-width="2"/>
<g>
<text x="49.6" y="247.9" text-anchor="end">−1</text>
<text x="49.6" y="564.8" text-anchor="end">−1</text>
<text x="49.6" y="215" text-anchor="end">0</text>
<text x="49.6" y="531.9" text-anchor="end">0</text>
<text x="49.6" y="182.2" text-anchor="end">1</text>
<text x="49.6" y="499.1" text-anchor="end">1</text>
<text x="49.6" y="149.3" text-anchor="end">2</text>
<text x="49.6" y="466.2" text-anchor="end">2</text>
<text x="49.6" y="116.4" text-anchor="end">3</text>
<text x="49.6" y="433.3" text-anchor="end">3</text>
<text x="49.6" y="83.5" text-anchor="end">4</text>
<text x="49.6" y="400.4" text-anchor="end">4</text>
<text x="49.6" y="50.7" text-anchor="end">5</text>
<text x="49.6" y="367.6" text-anchor="end">5</text>
<text x="49.6" y="17.8" text-anchor="end">6</text>
<text x="49.6" y="334.7" text-anchor="end">6</text>
<text x="71.6" y="276.4" text-anchor="middle">0</text>
<text x="221.3" y="276.4" text-anchor="middle">100</text>
<text x="370.9" y="276.4" text-anchor="middle">200</text>
<text x="520.6" y="276.4" text-anchor="middle">300</text>
<text x="670.3" y="276.4" text-anchor="middle">400</text>
<text x="75.8" y="594.5" text-anchor="middle">Apr</text>
<text x="148.6" y="594.5" text-anchor="middle">May</text>
<text x="224.5" y="594.5" text-anchor="middle">Jun</text>
<text x="295.6" y="594.5" text-anchor="middle">Jul</text>
<text x="374.7" y="594.5" text-anchor="middle">Aug</text>
<text x="450.7" y="594.5" text-anchor="middle">Sep</text>
<text x="524" y="594.5" text-anchor="middle">Oct</text>
<text x="600.8" y="594.5" text-anchor="middle">Nov</text>
<text x="370.6" y="303.8" text-anchor="middle">Number of events</text>
<text x="370.7" y="621.8" text-anchor="middle">Time (2018)</text>
<text transform="translate(14.8 125.9) rotate(-90)" text-anchor="middle">Magnitude</text>
<text transform="translate(14.8 442.8) rotate(-90)" text-anchor="middle">Magnitude</text>
<text x="641" y="33.9">a)</text>
<text x="641.3" y="351.2">b)</text>
</g>
</svg>
</body></html>
